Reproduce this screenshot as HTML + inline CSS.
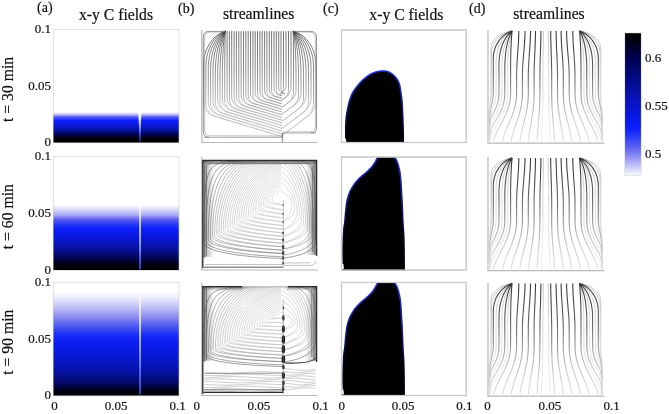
<!DOCTYPE html>
<html><head><meta charset="utf-8"><style>
html,body{margin:0;padding:0;background:#fff;width:669px;height:414px;overflow:hidden}
svg{display:block;filter:blur(0.45px)}
text{font-family:"Liberation Serif",serif;fill:#111;stroke:#111;stroke-width:0.2px}
</style></head><body>
<svg width="669" height="414" viewBox="0 0 669 414">
<defs><linearGradient id="ga1" gradientUnits="userSpaceOnUse" x1="0" y1="112" x2="0" y2="143"><stop offset="0.0000" stop-color="#ffffff"/><stop offset="0.0742" stop-color="#c4c4f8"/><stop offset="0.1613" stop-color="#5a5af2"/><stop offset="0.2742" stop-color="#0c20ff"/><stop offset="0.4516" stop-color="#0a18d8"/><stop offset="0.6129" stop-color="#05108f"/><stop offset="0.7645" stop-color="#000040"/><stop offset="0.8516" stop-color="#000008"/><stop offset="1.0000" stop-color="#000000"/></linearGradient><linearGradient id="ga2" gradientUnits="userSpaceOnUse" x1="0" y1="204.8" x2="0" y2="270"><stop offset="0.0000" stop-color="#ffffff"/><stop offset="0.0752" stop-color="#d8d8f8"/><stop offset="0.1488" stop-color="#b0b0f5"/><stop offset="0.2224" stop-color="#6060f0"/><stop offset="0.2975" stop-color="#2838f5"/><stop offset="0.3712" stop-color="#0a20f8"/><stop offset="0.4893" stop-color="#0818e0"/><stop offset="0.6012" stop-color="#0814b8"/><stop offset="0.7393" stop-color="#050c80"/><stop offset="0.8466" stop-color="#020440"/><stop offset="0.9156" stop-color="#000010"/><stop offset="1.0000" stop-color="#000000"/></linearGradient><linearGradient id="ga3" gradientUnits="userSpaceOnUse" x1="0" y1="291.6" x2="0" y2="396"><stop offset="0.0000" stop-color="#ffffff"/><stop offset="0.0690" stop-color="#e8e8fc"/><stop offset="0.1667" stop-color="#b8b8f5"/><stop offset="0.2625" stop-color="#8080f0"/><stop offset="0.3467" stop-color="#4050f0"/><stop offset="0.4253" stop-color="#1428f8"/><stop offset="0.5019" stop-color="#0a1cf0"/><stop offset="0.6341" stop-color="#0818d0"/><stop offset="0.7797" stop-color="#0510a0"/><stop offset="0.8822" stop-color="#030860"/><stop offset="0.9550" stop-color="#000010"/><stop offset="1.0000" stop-color="#000000"/></linearGradient><linearGradient id="gcb" gradientUnits="userSpaceOnUse" x1="0" y1="33" x2="0" y2="176"><stop offset="0.0000" stop-color="#000000"/><stop offset="0.0490" stop-color="#00000f"/><stop offset="0.1748" stop-color="#00004f"/><stop offset="0.3357" stop-color="#040c8c"/><stop offset="0.5035" stop-color="#0814c8"/><stop offset="0.6643" stop-color="#0a1eff"/><stop offset="0.7343" stop-color="#3040f8"/><stop offset="0.8042" stop-color="#5f64f5"/><stop offset="0.8671" stop-color="#9090f5"/><stop offset="0.9231" stop-color="#bebefa"/><stop offset="0.9650" stop-color="#e0e0fc"/><stop offset="1.0000" stop-color="#ffffff"/></linearGradient><linearGradient id="gs1" gradientUnits="userSpaceOnUse" x1="0" y1="112" x2="0" y2="142"><stop offset="0.0000" stop-color="#ffffff"/><stop offset="0.2000" stop-color="#f0f2ff"/><stop offset="0.4333" stop-color="#a0b0ff"/><stop offset="0.7000" stop-color="#4868ff"/><stop offset="0.9667" stop-color="#2844e8"/></linearGradient><linearGradient id="gs2" gradientUnits="userSpaceOnUse" x1="0" y1="206" x2="0" y2="269"><stop offset="0.0000" stop-color="#ffffff"/><stop offset="0.3810" stop-color="#e8ecff"/><stop offset="0.6190" stop-color="#b0bcff"/><stop offset="0.8254" stop-color="#6078ff"/><stop offset="0.9841" stop-color="#3a58f8"/></linearGradient><linearGradient id="gs3" gradientUnits="userSpaceOnUse" x1="0" y1="293" x2="0" y2="394"><stop offset="0.0000" stop-color="#ffffff"/><stop offset="0.3663" stop-color="#eef0ff"/><stop offset="0.5644" stop-color="#b8c4ff"/><stop offset="0.7624" stop-color="#6a84ff"/><stop offset="0.9802" stop-color="#4060f0"/></linearGradient><linearGradient id="ge1" gradientUnits="userSpaceOnUse" x1="0" y1="70" x2="0" y2="143"><stop offset="0.0000" stop-color="#2232dc"/><stop offset="0.2466" stop-color="#1e2cc8"/><stop offset="0.4795" stop-color="#141c98"/><stop offset="0.7123" stop-color="#0a0c50"/><stop offset="0.9589" stop-color="#000010"/></linearGradient><linearGradient id="ge2" gradientUnits="userSpaceOnUse" x1="0" y1="157" x2="0" y2="270"><stop offset="0.0000" stop-color="#2232dc"/><stop offset="0.2035" stop-color="#1e2cc8"/><stop offset="0.3805" stop-color="#141c98"/><stop offset="0.6018" stop-color="#0a0c50"/><stop offset="0.8230" stop-color="#000010"/></linearGradient><clipPath id="cc2"><rect x="341.5" y="157.4" width="125" height="114"/></clipPath></defs>
<rect width="669" height="414" fill="#fff"/>
<rect x="53.5" y="30" width="125.19999999999999" height="112.5" fill="#fff" stroke="#cccccc" stroke-width="1.2"/>
<rect x="53.5" y="30" width="125.19999999999999" height="112.5" fill="url(#ga1)"/>
<rect x="53.5" y="157" width="125.19999999999999" height="113" fill="#fff" stroke="#cccccc" stroke-width="1.2"/>
<rect x="53.5" y="157" width="125.19999999999999" height="113" fill="url(#ga2)"/>
<rect x="53.5" y="282.5" width="125.19999999999999" height="113.0" fill="#fff" stroke="#cccccc" stroke-width="1.2"/>
<rect x="53.5" y="282.5" width="125.19999999999999" height="113.0" fill="url(#ga3)"/>
<path d="M138.3,112 L141.3,112 L140.5,142 L139.5,142 Z" fill="url(#gs1)"/>
<rect x="139.3" y="206" width="1.5" height="63.5" fill="url(#gs2)"/>
<rect x="139.3" y="293" width="1.5" height="101.5" fill="url(#gs3)"/>
<rect x="341.5" y="30" width="124.80000000000001" height="112.5" fill="#fff" stroke="#cccccc" stroke-width="1.2"/>
<rect x="341.5" y="157" width="124.80000000000001" height="113" fill="#fff" stroke="#cccccc" stroke-width="1.2"/>
<rect x="341.5" y="282.5" width="124.80000000000001" height="113.0" fill="#fff" stroke="#cccccc" stroke-width="1.2"/>
<path d="M403.30,142.90 L398.79,142.91 L392.42,142.94 L384.79,142.97 L376.52,143.01 L368.24,143.02 L360.55,143.02 L354.06,142.98 L349.40,142.90 L346.59,142.79 L345.06,142.65 L344.52,142.50 L344.68,142.31 L345.26,142.10 L345.96,141.84 L346.50,141.54 L346.60,141.20 L346.40,140.84 L346.24,140.49 L346.12,140.11 L346.03,139.68 L345.95,139.18 L345.90,138.59 L345.85,137.87 L345.80,137.00 L345.76,135.94 L345.73,134.68 L345.72,133.29 L345.72,131.80 L345.73,130.28 L345.75,128.77 L345.77,127.33 L345.80,126.00 L345.83,124.77 L345.87,123.59 L345.92,122.43 L345.97,121.31 L346.03,120.21 L346.11,119.13 L346.20,118.06 L346.30,117.00 L346.42,115.96 L346.55,114.96 L346.69,113.98 L346.84,113.01 L347.01,112.04 L347.19,111.06 L347.39,110.05 L347.60,109.00 L347.83,107.90 L348.06,106.75 L348.32,105.57 L348.58,104.38 L348.86,103.19 L349.16,102.02 L349.47,100.88 L349.80,99.80 L350.14,98.77 L350.48,97.79 L350.83,96.83 L351.19,95.90 L351.59,94.98 L352.01,94.06 L352.48,93.14 L353.00,92.20 L353.57,91.24 L354.19,90.28 L354.85,89.31 L355.54,88.34 L356.26,87.38 L357.00,86.43 L357.75,85.50 L358.50,84.60 L359.26,83.71 L360.03,82.84 L360.82,81.97 L361.62,81.12 L362.44,80.30 L363.27,79.50 L364.13,78.73 L365.00,78.00 L365.89,77.30 L366.80,76.61 L367.72,75.95 L368.66,75.33 L369.62,74.73 L370.60,74.18 L371.59,73.66 L372.60,73.20 L373.64,72.78 L374.72,72.39 L375.83,72.04 L376.95,71.74 L378.07,71.48 L379.18,71.26 L380.26,71.10 L381.30,71.00 L382.31,70.94 L383.30,70.93 L384.28,70.96 L385.24,71.05 L386.18,71.19 L387.10,71.39 L388.01,71.66 L388.90,72.00 L389.78,72.42 L390.67,72.93 L391.54,73.52 L392.39,74.16 L393.21,74.84 L393.99,75.55 L394.72,76.28 L395.40,77.00 L396.02,77.73 L396.59,78.47 L397.12,79.23 L397.60,80.02 L398.05,80.84 L398.46,81.69 L398.84,82.57 L399.20,83.50 L399.52,84.48 L399.79,85.52 L400.02,86.60 L400.22,87.71 L400.40,88.84 L400.57,89.97 L400.73,91.10 L400.90,92.20 L401.07,93.28 L401.23,94.37 L401.38,95.44 L401.52,96.53 L401.66,97.61 L401.78,98.70 L401.90,99.79 L402.00,100.90 L402.09,101.97 L402.16,102.99 L402.23,103.98 L402.28,104.99 L402.33,106.06 L402.38,107.23 L402.44,108.53 L402.50,110.00 L402.57,111.66 L402.65,113.49 L402.74,115.46 L402.82,117.51 L402.90,119.63 L402.98,121.77 L403.04,123.91 L403.10,126.00 L403.15,128.18 L403.18,130.56 L403.21,133.01 L403.24,135.45 L403.26,137.76 L403.27,139.84 L403.29,141.59 L403.30,142.90 Z" fill="#000"/>
<path d="M345.90,138.59 L345.85,137.87 L345.80,137.00 L345.76,135.94 L345.73,134.68 L345.72,133.29 L345.72,131.80 L345.73,130.28 L345.75,128.77 L345.77,127.33 L345.80,126.00 L345.83,124.77 L345.87,123.59 L345.92,122.43 L345.97,121.31 L346.03,120.21 L346.11,119.13 L346.20,118.06 L346.30,117.00 L346.42,115.96 L346.55,114.96 L346.69,113.98 L346.84,113.01 L347.01,112.04 L347.19,111.06 L347.39,110.05 L347.60,109.00 L347.83,107.90 L348.06,106.75 L348.32,105.57 L348.58,104.38 L348.86,103.19 L349.16,102.02 L349.47,100.88 L349.80,99.80 L350.14,98.77 L350.48,97.79 L350.83,96.83 L351.19,95.90 L351.59,94.98 L352.01,94.06 L352.48,93.14 L353.00,92.20 L353.57,91.24 L354.19,90.28 L354.85,89.31 L355.54,88.34 L356.26,87.38 L357.00,86.43 L357.75,85.50 L358.50,84.60 L359.26,83.71 L360.03,82.84 L360.82,81.97 L361.62,81.12 L362.44,80.30 L363.27,79.50 L364.13,78.73 L365.00,78.00 L365.89,77.30 L366.80,76.61 L367.72,75.95 L368.66,75.33 L369.62,74.73 L370.60,74.18 L371.59,73.66 L372.60,73.20 L373.64,72.78 L374.72,72.39 L375.83,72.04 L376.95,71.74 L378.07,71.48 L379.18,71.26 L380.26,71.10 L381.30,71.00 L382.31,70.94 L383.30,70.93 L384.28,70.96 L385.24,71.05 L386.18,71.19 L387.10,71.39 L388.01,71.66 L388.90,72.00 L389.78,72.42 L390.67,72.93 L391.54,73.52 L392.39,74.16 L393.21,74.84 L393.99,75.55 L394.72,76.28 L395.40,77.00 L396.02,77.73 L396.59,78.47 L397.12,79.23 L397.60,80.02 L398.05,80.84 L398.46,81.69 L398.84,82.57 L399.20,83.50 L399.52,84.48 L399.79,85.52 L400.02,86.60 L400.22,87.71 L400.40,88.84 L400.57,89.97 L400.73,91.10 L400.90,92.20 L401.07,93.28 L401.23,94.37 L401.38,95.44 L401.52,96.53 L401.66,97.61 L401.78,98.70 L401.90,99.79 L402.00,100.90 L402.09,101.97 L402.16,102.99 L402.23,103.98 L402.28,104.99 L402.33,106.06 L402.38,107.23 L402.44,108.53 L402.50,110.00 L402.57,111.66 L402.65,113.49 L402.74,115.46 L402.82,117.51 L402.90,119.63 L402.98,121.77 L403.04,123.91 L403.10,126.00 L403.15,128.18 L403.18,130.56 L403.21,133.01 L403.24,135.45 L403.26,137.76 L403.27,139.84 L403.29,141.59 L403.30,142.90" fill="none" stroke="url(#ge1)" stroke-width="1.5"/>
<g transform="translate(0,0)" clip-path="url(#cc2)"><path d="M404.20,270.20 L399.27,270.22 L392.29,270.25 L383.94,270.30 L374.89,270.34 L365.84,270.36 L357.45,270.35 L350.41,270.31 L345.40,270.20 L342.47,270.08 L340.98,269.98 L340.61,269.86 L341.02,269.69 L341.89,269.46 L342.88,269.11 L343.66,268.64 L343.90,268.00 L343.77,267.20 L343.65,266.26 L343.55,265.19 L343.46,264.02 L343.38,262.75 L343.31,261.40 L343.25,259.98 L343.20,258.50 L343.16,256.93 L343.14,255.23 L343.12,253.43 L343.12,251.56 L343.13,249.66 L343.14,247.74 L343.17,245.85 L343.20,244.00 L343.24,242.14 L343.30,240.21 L343.36,238.25 L343.44,236.31 L343.52,234.42 L343.61,232.63 L343.70,230.98 L343.80,229.50 L343.91,228.24 L344.03,227.18 L344.15,226.26 L344.29,225.44 L344.42,224.65 L344.55,223.85 L344.68,222.99 L344.80,222.00 L344.91,220.91 L345.00,219.78 L345.10,218.61 L345.19,217.42 L345.28,216.20 L345.38,214.97 L345.48,213.73 L345.60,212.50 L345.72,211.25 L345.85,209.96 L345.98,208.65 L346.11,207.33 L346.26,206.02 L346.42,204.74 L346.60,203.49 L346.80,202.30 L347.02,201.15 L347.25,200.04 L347.50,198.95 L347.76,197.89 L348.04,196.85 L348.34,195.85 L348.66,194.86 L349.00,193.90 L349.36,192.97 L349.75,192.07 L350.15,191.19 L350.57,190.34 L351.01,189.51 L351.47,188.70 L351.93,187.90 L352.40,187.10 L352.88,186.31 L353.37,185.54 L353.88,184.79 L354.39,184.04 L354.92,183.31 L355.47,182.60 L356.03,181.89 L356.60,181.20 L357.20,180.52 L357.81,179.85 L358.45,179.19 L359.10,178.54 L359.76,177.91 L360.41,177.29 L361.06,176.69 L361.70,176.10 L362.33,175.54 L362.95,175.01 L363.58,174.50 L364.20,174.00 L364.82,173.50 L365.45,172.99 L366.07,172.46 L366.70,171.90 L367.34,171.30 L368.01,170.69 L368.68,170.05 L369.35,169.40 L370.01,168.74 L370.64,168.09 L371.24,167.44 L371.80,166.80 L372.31,166.17 L372.79,165.54 L373.24,164.91 L373.67,164.28 L374.07,163.66 L374.46,163.03 L374.83,162.41 L375.20,161.80 L375.55,161.18 L375.88,160.57 L376.20,159.95 L376.49,159.34 L376.78,158.73 L377.06,158.14 L377.33,157.56 L377.60,157.00 L377.78,156.43 L377.83,155.85 L377.82,155.27 L377.83,154.70 L377.92,154.17 L378.19,153.70 L378.69,153.30 L379.50,153.00 L380.76,152.78 L382.45,152.62 L384.42,152.53 L386.54,152.50 L388.65,152.53 L390.61,152.62 L392.27,152.78 L393.50,153.00 L394.26,153.30 L394.69,153.70 L394.87,154.17 L394.88,154.70 L394.79,155.27 L394.70,155.85 L394.67,156.43 L394.80,157.00 L395.05,157.55 L395.33,158.10 L395.64,158.66 L395.96,159.23 L396.28,159.83 L396.60,160.45 L396.91,161.10 L397.20,161.80 L397.47,162.53 L397.74,163.30 L398.01,164.09 L398.26,164.92 L398.51,165.77 L398.75,166.65 L398.98,167.56 L399.20,168.50 L399.41,169.45 L399.61,170.42 L399.80,171.41 L399.98,172.43 L400.15,173.49 L400.31,174.60 L400.46,175.77 L400.60,177.00 L400.73,178.28 L400.84,179.60 L400.94,180.96 L401.03,182.37 L401.12,183.86 L401.21,185.41 L401.30,187.06 L401.40,188.80 L401.51,190.67 L401.62,192.68 L401.74,194.79 L401.86,196.97 L401.98,199.18 L402.09,201.40 L402.20,203.58 L402.30,205.70 L402.39,207.75 L402.46,209.78 L402.53,211.78 L402.59,213.78 L402.66,215.79 L402.73,217.82 L402.81,219.89 L402.90,222.00 L403.01,224.09 L403.14,226.09 L403.28,228.09 L403.42,230.13 L403.56,232.28 L403.69,234.60 L403.81,237.15 L403.90,240.00 L403.97,243.40 L404.03,247.40 L404.08,251.76 L404.11,256.23 L404.14,260.55 L404.16,264.49 L404.18,267.79 L404.20,270.20 Z" fill="#000"/><path d="M343.46,264.02 L343.38,262.75 L343.31,261.40 L343.25,259.98 L343.20,258.50 L343.16,256.93 L343.14,255.23 L343.12,253.43 L343.12,251.56 L343.13,249.66 L343.14,247.74 L343.17,245.85 L343.20,244.00 L343.24,242.14 L343.30,240.21 L343.36,238.25 L343.44,236.31 L343.52,234.42 L343.61,232.63 L343.70,230.98 L343.80,229.50 L343.91,228.24 L344.03,227.18 L344.15,226.26 L344.29,225.44 L344.42,224.65 L344.55,223.85 L344.68,222.99 L344.80,222.00 L344.91,220.91 L345.00,219.78 L345.10,218.61 L345.19,217.42 L345.28,216.20 L345.38,214.97 L345.48,213.73 L345.60,212.50 L345.72,211.25 L345.85,209.96 L345.98,208.65 L346.11,207.33 L346.26,206.02 L346.42,204.74 L346.60,203.49 L346.80,202.30 L347.02,201.15 L347.25,200.04 L347.50,198.95 L347.76,197.89 L348.04,196.85 L348.34,195.85 L348.66,194.86 L349.00,193.90 L349.36,192.97 L349.75,192.07 L350.15,191.19 L350.57,190.34 L351.01,189.51 L351.47,188.70 L351.93,187.90 L352.40,187.10 L352.88,186.31 L353.37,185.54 L353.88,184.79 L354.39,184.04 L354.92,183.31 L355.47,182.60 L356.03,181.89 L356.60,181.20 L357.20,180.52 L357.81,179.85 L358.45,179.19 L359.10,178.54 L359.76,177.91 L360.41,177.29 L361.06,176.69 L361.70,176.10 L362.33,175.54 L362.95,175.01 L363.58,174.50 L364.20,174.00 L364.82,173.50 L365.45,172.99 L366.07,172.46 L366.70,171.90 L367.34,171.30 L368.01,170.69 L368.68,170.05 L369.35,169.40 L370.01,168.74 L370.64,168.09 L371.24,167.44 L371.80,166.80 L372.31,166.17 L372.79,165.54 L373.24,164.91 L373.67,164.28 L374.07,163.66 L374.46,163.03 L374.83,162.41 L375.20,161.80 L375.55,161.18 L375.88,160.57 L376.20,159.95 L376.49,159.34 L376.78,158.73 L377.06,158.14 L377.33,157.56 L377.60,157.00 L377.78,156.43 L377.83,155.85 L377.82,155.27 L377.83,154.70 L377.92,154.17 L378.19,153.70 L378.69,153.30 L379.50,153.00 L380.76,152.78 L382.45,152.62 L384.42,152.53 L386.54,152.50 L388.65,152.53 L390.61,152.62 L392.27,152.78 L393.50,153.00 L394.26,153.30 L394.69,153.70 L394.87,154.17 L394.88,154.70 L394.79,155.27 L394.70,155.85 L394.67,156.43 L394.80,157.00 L395.05,157.55 L395.33,158.10 L395.64,158.66 L395.96,159.23 L396.28,159.83 L396.60,160.45 L396.91,161.10 L397.20,161.80 L397.47,162.53 L397.74,163.30 L398.01,164.09 L398.26,164.92 L398.51,165.77 L398.75,166.65 L398.98,167.56 L399.20,168.50 L399.41,169.45 L399.61,170.42 L399.80,171.41 L399.98,172.43 L400.15,173.49 L400.31,174.60 L400.46,175.77 L400.60,177.00 L400.73,178.28 L400.84,179.60 L400.94,180.96 L401.03,182.37 L401.12,183.86 L401.21,185.41 L401.30,187.06 L401.40,188.80 L401.51,190.67 L401.62,192.68 L401.74,194.79 L401.86,196.97 L401.98,199.18 L402.09,201.40 L402.20,203.58 L402.30,205.70 L402.39,207.75 L402.46,209.78 L402.53,211.78 L402.59,213.78 L402.66,215.79 L402.73,217.82 L402.81,219.89 L402.90,222.00 L403.01,224.09 L403.14,226.09 L403.28,228.09 L403.42,230.13 L403.56,232.28 L403.69,234.60 L403.81,237.15 L403.90,240.00 L403.97,243.40 L404.03,247.40 L404.08,251.76 L404.11,256.23 L404.14,260.55 L404.16,264.49 L404.18,267.79 L404.20,270.20" fill="none" stroke="url(#ge2)" stroke-width="1.5"/></g>
<g transform="translate(0,125.5)" clip-path="url(#cc2)"><path d="M404.20,270.20 L399.27,270.22 L392.29,270.25 L383.94,270.30 L374.89,270.34 L365.84,270.36 L357.45,270.35 L350.41,270.31 L345.40,270.20 L342.47,270.08 L340.98,269.98 L340.61,269.86 L341.02,269.69 L341.89,269.46 L342.88,269.11 L343.66,268.64 L343.90,268.00 L343.77,267.20 L343.65,266.26 L343.55,265.19 L343.46,264.02 L343.38,262.75 L343.31,261.40 L343.25,259.98 L343.20,258.50 L343.16,256.93 L343.14,255.23 L343.12,253.43 L343.12,251.56 L343.13,249.66 L343.14,247.74 L343.17,245.85 L343.20,244.00 L343.24,242.14 L343.30,240.21 L343.36,238.25 L343.44,236.31 L343.52,234.42 L343.61,232.63 L343.70,230.98 L343.80,229.50 L343.91,228.24 L344.03,227.18 L344.15,226.26 L344.29,225.44 L344.42,224.65 L344.55,223.85 L344.68,222.99 L344.80,222.00 L344.91,220.91 L345.00,219.78 L345.10,218.61 L345.19,217.42 L345.28,216.20 L345.38,214.97 L345.48,213.73 L345.60,212.50 L345.72,211.25 L345.85,209.96 L345.98,208.65 L346.11,207.33 L346.26,206.02 L346.42,204.74 L346.60,203.49 L346.80,202.30 L347.02,201.15 L347.25,200.04 L347.50,198.95 L347.76,197.89 L348.04,196.85 L348.34,195.85 L348.66,194.86 L349.00,193.90 L349.36,192.97 L349.75,192.07 L350.15,191.19 L350.57,190.34 L351.01,189.51 L351.47,188.70 L351.93,187.90 L352.40,187.10 L352.88,186.31 L353.37,185.54 L353.88,184.79 L354.39,184.04 L354.92,183.31 L355.47,182.60 L356.03,181.89 L356.60,181.20 L357.20,180.52 L357.81,179.85 L358.45,179.19 L359.10,178.54 L359.76,177.91 L360.41,177.29 L361.06,176.69 L361.70,176.10 L362.33,175.54 L362.95,175.01 L363.58,174.50 L364.20,174.00 L364.82,173.50 L365.45,172.99 L366.07,172.46 L366.70,171.90 L367.34,171.30 L368.01,170.69 L368.68,170.05 L369.35,169.40 L370.01,168.74 L370.64,168.09 L371.24,167.44 L371.80,166.80 L372.31,166.17 L372.79,165.54 L373.24,164.91 L373.67,164.28 L374.07,163.66 L374.46,163.03 L374.83,162.41 L375.20,161.80 L375.55,161.18 L375.88,160.57 L376.20,159.95 L376.49,159.34 L376.78,158.73 L377.06,158.14 L377.33,157.56 L377.60,157.00 L377.78,156.43 L377.83,155.85 L377.82,155.27 L377.83,154.70 L377.92,154.17 L378.19,153.70 L378.69,153.30 L379.50,153.00 L380.76,152.78 L382.45,152.62 L384.42,152.53 L386.54,152.50 L388.65,152.53 L390.61,152.62 L392.27,152.78 L393.50,153.00 L394.26,153.30 L394.69,153.70 L394.87,154.17 L394.88,154.70 L394.79,155.27 L394.70,155.85 L394.67,156.43 L394.80,157.00 L395.05,157.55 L395.33,158.10 L395.64,158.66 L395.96,159.23 L396.28,159.83 L396.60,160.45 L396.91,161.10 L397.20,161.80 L397.47,162.53 L397.74,163.30 L398.01,164.09 L398.26,164.92 L398.51,165.77 L398.75,166.65 L398.98,167.56 L399.20,168.50 L399.41,169.45 L399.61,170.42 L399.80,171.41 L399.98,172.43 L400.15,173.49 L400.31,174.60 L400.46,175.77 L400.60,177.00 L400.73,178.28 L400.84,179.60 L400.94,180.96 L401.03,182.37 L401.12,183.86 L401.21,185.41 L401.30,187.06 L401.40,188.80 L401.51,190.67 L401.62,192.68 L401.74,194.79 L401.86,196.97 L401.98,199.18 L402.09,201.40 L402.20,203.58 L402.30,205.70 L402.39,207.75 L402.46,209.78 L402.53,211.78 L402.59,213.78 L402.66,215.79 L402.73,217.82 L402.81,219.89 L402.90,222.00 L403.01,224.09 L403.14,226.09 L403.28,228.09 L403.42,230.13 L403.56,232.28 L403.69,234.60 L403.81,237.15 L403.90,240.00 L403.97,243.40 L404.03,247.40 L404.08,251.76 L404.11,256.23 L404.14,260.55 L404.16,264.49 L404.18,267.79 L404.20,270.20 Z" fill="#000"/><path d="M343.46,264.02 L343.38,262.75 L343.31,261.40 L343.25,259.98 L343.20,258.50 L343.16,256.93 L343.14,255.23 L343.12,253.43 L343.12,251.56 L343.13,249.66 L343.14,247.74 L343.17,245.85 L343.20,244.00 L343.24,242.14 L343.30,240.21 L343.36,238.25 L343.44,236.31 L343.52,234.42 L343.61,232.63 L343.70,230.98 L343.80,229.50 L343.91,228.24 L344.03,227.18 L344.15,226.26 L344.29,225.44 L344.42,224.65 L344.55,223.85 L344.68,222.99 L344.80,222.00 L344.91,220.91 L345.00,219.78 L345.10,218.61 L345.19,217.42 L345.28,216.20 L345.38,214.97 L345.48,213.73 L345.60,212.50 L345.72,211.25 L345.85,209.96 L345.98,208.65 L346.11,207.33 L346.26,206.02 L346.42,204.74 L346.60,203.49 L346.80,202.30 L347.02,201.15 L347.25,200.04 L347.50,198.95 L347.76,197.89 L348.04,196.85 L348.34,195.85 L348.66,194.86 L349.00,193.90 L349.36,192.97 L349.75,192.07 L350.15,191.19 L350.57,190.34 L351.01,189.51 L351.47,188.70 L351.93,187.90 L352.40,187.10 L352.88,186.31 L353.37,185.54 L353.88,184.79 L354.39,184.04 L354.92,183.31 L355.47,182.60 L356.03,181.89 L356.60,181.20 L357.20,180.52 L357.81,179.85 L358.45,179.19 L359.10,178.54 L359.76,177.91 L360.41,177.29 L361.06,176.69 L361.70,176.10 L362.33,175.54 L362.95,175.01 L363.58,174.50 L364.20,174.00 L364.82,173.50 L365.45,172.99 L366.07,172.46 L366.70,171.90 L367.34,171.30 L368.01,170.69 L368.68,170.05 L369.35,169.40 L370.01,168.74 L370.64,168.09 L371.24,167.44 L371.80,166.80 L372.31,166.17 L372.79,165.54 L373.24,164.91 L373.67,164.28 L374.07,163.66 L374.46,163.03 L374.83,162.41 L375.20,161.80 L375.55,161.18 L375.88,160.57 L376.20,159.95 L376.49,159.34 L376.78,158.73 L377.06,158.14 L377.33,157.56 L377.60,157.00 L377.78,156.43 L377.83,155.85 L377.82,155.27 L377.83,154.70 L377.92,154.17 L378.19,153.70 L378.69,153.30 L379.50,153.00 L380.76,152.78 L382.45,152.62 L384.42,152.53 L386.54,152.50 L388.65,152.53 L390.61,152.62 L392.27,152.78 L393.50,153.00 L394.26,153.30 L394.69,153.70 L394.87,154.17 L394.88,154.70 L394.79,155.27 L394.70,155.85 L394.67,156.43 L394.80,157.00 L395.05,157.55 L395.33,158.10 L395.64,158.66 L395.96,159.23 L396.28,159.83 L396.60,160.45 L396.91,161.10 L397.20,161.80 L397.47,162.53 L397.74,163.30 L398.01,164.09 L398.26,164.92 L398.51,165.77 L398.75,166.65 L398.98,167.56 L399.20,168.50 L399.41,169.45 L399.61,170.42 L399.80,171.41 L399.98,172.43 L400.15,173.49 L400.31,174.60 L400.46,175.77 L400.60,177.00 L400.73,178.28 L400.84,179.60 L400.94,180.96 L401.03,182.37 L401.12,183.86 L401.21,185.41 L401.30,187.06 L401.40,188.80 L401.51,190.67 L401.62,192.68 L401.74,194.79 L401.86,196.97 L401.98,199.18 L402.09,201.40 L402.20,203.58 L402.30,205.70 L402.39,207.75 L402.46,209.78 L402.53,211.78 L402.59,213.78 L402.66,215.79 L402.73,217.82 L402.81,219.89 L402.90,222.00 L403.01,224.09 L403.14,226.09 L403.28,228.09 L403.42,230.13 L403.56,232.28 L403.69,234.60 L403.81,237.15 L403.90,240.00 L403.97,243.40 L404.03,247.40 L404.08,251.76 L404.11,256.23 L404.14,260.55 L404.16,264.49 L404.18,267.79 L404.20,270.20" fill="none" stroke="url(#ge2)" stroke-width="1.5"/></g>
<rect x="341.5" y="30" width="124.80000000000001" height="112.5" fill="none" stroke="#cccccc" stroke-width="1.2"/>
<rect x="341.5" y="157" width="124.80000000000001" height="113" fill="none" stroke="#cccccc" stroke-width="1.2"/>
<rect x="341.5" y="282.5" width="124.80000000000001" height="113.0" fill="none" stroke="#cccccc" stroke-width="1.2"/>
<path d="M201.8,30 L201.8,142.5 L318,142.5" fill="none" stroke="#b8b8b8" stroke-width="1.2"/>
<path d="M488,30 L488,143.1 L604.3,143.1" fill="none" stroke="#b8b8b8" stroke-width="1.2"/>
<path d="M201.8,157 L201.8,270 L318,270" fill="none" stroke="#b8b8b8" stroke-width="1.2"/>
<path d="M488,157 L488,270.6 L604.3,270.6" fill="none" stroke="#b8b8b8" stroke-width="1.2"/>
<path d="M201.8,282.5 L201.8,395.5 L318,395.5" fill="none" stroke="#b8b8b8" stroke-width="1.2"/>
<path d="M488,282.5 L488,396.1 L604.3,396.1" fill="none" stroke="#b8b8b8" stroke-width="1.2"/>
<defs><linearGradient id="sd0" gradientUnits="userSpaceOnUse" x1="0" y1="30" x2="0" y2="142.5"><stop offset="0" stop-color="#383838"/><stop offset="0.2" stop-color="#4a4a4a"/><stop offset="0.38" stop-color="#666"/><stop offset="0.5" stop-color="#888"/><stop offset="0.65" stop-color="#b0b0b0"/><stop offset="0.8" stop-color="#cccccc"/><stop offset="1" stop-color="#e0e0e0"/></linearGradient><linearGradient id="sd0l" gradientUnits="userSpaceOnUse" x1="0" y1="30" x2="0" y2="142.5"><stop offset="0" stop-color="#999"/><stop offset="0.3" stop-color="#bbb"/><stop offset="0.7" stop-color="#d0d0d0"/><stop offset="1" stop-color="#e4e4e4"/></linearGradient><linearGradient id="sd1" gradientUnits="userSpaceOnUse" x1="0" y1="157" x2="0" y2="270"><stop offset="0" stop-color="#383838"/><stop offset="0.2" stop-color="#4a4a4a"/><stop offset="0.38" stop-color="#666"/><stop offset="0.5" stop-color="#888"/><stop offset="0.65" stop-color="#b0b0b0"/><stop offset="0.8" stop-color="#cccccc"/><stop offset="1" stop-color="#e0e0e0"/></linearGradient><linearGradient id="sd1l" gradientUnits="userSpaceOnUse" x1="0" y1="157" x2="0" y2="270"><stop offset="0" stop-color="#999"/><stop offset="0.3" stop-color="#bbb"/><stop offset="0.7" stop-color="#d0d0d0"/><stop offset="1" stop-color="#e4e4e4"/></linearGradient><linearGradient id="sd2" gradientUnits="userSpaceOnUse" x1="0" y1="282.5" x2="0" y2="395.5"><stop offset="0" stop-color="#383838"/><stop offset="0.2" stop-color="#4a4a4a"/><stop offset="0.38" stop-color="#666"/><stop offset="0.5" stop-color="#888"/><stop offset="0.65" stop-color="#b0b0b0"/><stop offset="0.8" stop-color="#cccccc"/><stop offset="1" stop-color="#e0e0e0"/></linearGradient><linearGradient id="sd2l" gradientUnits="userSpaceOnUse" x1="0" y1="282.5" x2="0" y2="395.5"><stop offset="0" stop-color="#999"/><stop offset="0.3" stop-color="#bbb"/><stop offset="0.7" stop-color="#d0d0d0"/><stop offset="1" stop-color="#e4e4e4"/></linearGradient><linearGradient id="sb1" gradientUnits="userSpaceOnUse" x1="0" y1="30" x2="0" y2="142"><stop offset="0" stop-color="#1a1a1a"/><stop offset="0.12" stop-color="#333"/><stop offset="0.35" stop-color="#505050"/><stop offset="0.55" stop-color="#808080"/><stop offset="0.7" stop-color="#a8a8a8"/><stop offset="0.85" stop-color="#bcbcbc"/><stop offset="1" stop-color="#c4c4c4"/></linearGradient><linearGradient id="wbl" x1="0" y1="0" x2="1" y2="0"><stop offset="0" stop-color="#000" stop-opacity="0.45"/><stop offset="0.35" stop-color="#000" stop-opacity="0.22"/><stop offset="1" stop-color="#000" stop-opacity="0"/></linearGradient><linearGradient id="wbr" x1="1" y1="0" x2="0" y2="0"><stop offset="0" stop-color="#000" stop-opacity="0.5"/><stop offset="0.35" stop-color="#000" stop-opacity="0.22"/><stop offset="1" stop-color="#000" stop-opacity="0"/></linearGradient><linearGradient id="wbt" x1="0" y1="0" x2="0" y2="1"><stop offset="0" stop-color="#000" stop-opacity="0.45"/><stop offset="1" stop-color="#000" stop-opacity="0"/></linearGradient></defs><path d="M512.2,30.9 L511.8,31.9 L511.5,32.9 L511.1,34.1 L510.8,35.4 L510.5,36.8 L510.1,38.3 L509.8,39.9 L509.5,41.6 L509.3,43.4 L509.0,45.3 L508.8,47.3 L508.6,49.5 L508.4,51.7 L508.2,54.0 L508.1,56.4 L507.9,58.9 L507.8,61.5 L507.8,64.2 L507.7,67.0 L507.7,69.9 L507.7,71.7 L507.7,73.5 L507.7,75.3 L507.7,77.0 L507.7,78.8 L507.7,80.6 L507.7,82.4 L507.7,84.2 L507.7,86.0 L507.7,87.8 L507.7,89.5 L507.7,91.3 L507.7,93.1 L507.7,94.9 L507.6,96.7 L507.4,98.5 L507.1,100.2 L506.8,102.0 L506.4,103.8 L505.9,105.6 L505.4,107.4 L504.7,109.2 L504.0,111.0 L503.2,112.7 L502.4,114.5 L501.5,116.3 L500.6,118.1 L499.6,119.9 L498.6,121.7 L497.6,123.5 L496.6,125.2 L495.6,127.0 L494.6,128.8 L493.6,130.6 L492.8,132.4 L492.1,134.2 L491.6,135.9 L491.2,137.7 L490.9,139.5 L490.7,141.3 M512.2,30.9 L511.4,31.8 L510.5,32.8 L509.7,33.9 L509.0,35.1 L508.2,36.4 L507.5,37.8 L506.8,39.3 L506.1,40.8 L505.5,42.5 L504.9,44.3 L504.4,46.1 L503.9,48.1 L503.4,50.1 L503.1,52.3 L502.7,54.5 L502.4,56.8 L502.2,59.2 L502.0,61.7 L501.9,64.2 L501.9,66.9 L501.9,68.8 L501.9,70.6 L501.9,72.5 L501.9,74.3 L501.9,76.2 L501.9,78.1 L501.9,79.9 L501.9,81.8 L501.9,83.6 L501.9,85.5 L501.9,87.4 L501.9,89.2 L501.9,91.1 L501.9,92.9 L501.8,94.8 L501.7,96.7 L501.5,98.5 L501.2,100.4 L500.8,102.2 L500.3,104.1 L499.8,106.0 L499.1,107.8 L498.3,109.7 L497.4,111.5 L496.4,113.4 L495.4,115.3 L494.3,117.1 L493.1,119.0 L492.1,120.8 L491.4,122.7 L490.8,124.6 L490.4,126.4 L490.1,128.3 L489.9,130.1 L489.7,132.0 L489.6,133.9 L489.5,135.7 L489.4,137.6 L489.4,139.4 L489.4,141.3 M512.2,30.9 L510.9,31.6 L509.6,32.4 L508.4,33.3 L507.1,34.3 L506.0,35.4 L504.8,36.6 L503.8,37.9 L502.7,39.2 L501.8,40.7 L500.9,42.2 L500.0,43.9 L499.3,45.6 L498.6,47.3 L497.9,49.2 L497.4,51.1 L497.0,53.1 L496.6,55.2 L496.4,57.4 L496.2,59.6 L496.1,61.9 L496.1,63.9 L496.1,65.9 L496.1,67.9 L496.1,69.8 L496.1,71.8 L496.1,73.8 L496.1,75.8 L496.1,77.8 L496.1,79.8 L496.1,81.8 L496.1,83.7 L496.1,85.7 L496.1,87.7 L496.1,89.7 L496.1,91.7 L496.1,93.7 L496.0,95.6 L495.9,97.6 L495.6,99.6 L495.1,101.6 L494.6,103.6 L493.9,105.6 L493.1,107.6 L492.2,109.5 L491.5,111.5 L490.9,113.5 L490.5,115.5 L490.1,117.5 L489.8,119.5 L489.6,121.4 L489.5,123.4 L489.4,125.4 L489.4,127.4 L489.3,129.4 L489.3,131.4 L489.3,133.4 L489.2,135.3 L489.2,137.3 L489.2,139.3 L489.2,141.3 M543.4,30.9 L543.4,32.7 L543.4,34.6 L543.4,36.4 L543.4,38.3 L543.3,40.1 L543.3,41.9 L543.3,43.8 L543.3,45.6 L543.2,47.5 L543.2,49.3 L543.2,51.1 L543.2,53.0 L543.1,54.8 L543.1,56.7 L543.1,58.5 L543.0,60.3 L543.0,62.2 L543.0,64.0 L543.0,65.9 L542.9,67.7 L542.9,69.5 L542.9,71.4 L542.9,73.2 L542.9,75.1 L542.9,76.9 L542.9,78.7 L542.9,80.6 L542.9,82.4 L542.9,84.3 L542.9,86.1 L542.9,87.9 L542.9,89.8 L542.9,91.6 L542.9,93.5 L542.9,95.3 L542.9,97.1 L542.9,99.0 L542.9,100.8 L542.8,102.7 L542.8,104.5 L542.7,106.3 L542.7,108.2 L542.6,110.0 L542.6,111.9 L542.5,113.7 L542.5,115.5 L542.4,117.4 L542.3,119.2 L542.2,121.1 L542.2,122.9 L542.1,124.7 L542.0,126.6 L541.9,128.4 L541.8,130.3 L541.8,132.1 L541.7,133.9 L541.6,135.8 L541.6,137.6 L541.5,139.5 L541.5,141.3 M512.2,30.9 L510.5,31.3 L508.8,31.9 L507.1,32.5 L505.5,33.2 L504.0,34.0 L502.5,34.9 L501.1,35.9 L499.7,37.0 L498.4,38.1 L497.2,39.3 L496.1,40.6 L495.1,42.0 L494.2,43.4 L493.4,44.9 L492.7,46.4 L492.2,48.0 L491.9,49.7 L491.7,51.4 L491.5,53.1 L491.5,54.9 L491.5,57.1 L491.5,59.2 L491.5,61.4 L491.5,63.5 L491.5,65.7 L491.5,67.9 L491.5,70.0 L491.5,72.2 L491.5,74.3 L491.5,76.5 L491.5,78.7 L491.5,80.8 L491.5,83.0 L491.5,85.1 L491.5,87.3 L491.5,89.5 L491.5,91.6 L491.5,93.8 L491.4,95.9 L491.3,98.1 L491.1,100.3 L490.8,102.4 L490.6,104.6 L490.3,106.7 L490.0,108.9 L489.8,111.1 L489.6,113.2 L489.5,115.4 L489.4,117.5 L489.3,119.7 L489.3,121.9 L489.3,124.0 L489.2,126.2 L489.2,128.3 L489.2,130.5 L489.2,132.7 L489.2,134.8 L489.2,137.0 L489.2,139.1 L489.2,141.3 M512.2,30.9 L510.4,31.2 L508.5,31.6 L506.8,32.1 L505.1,32.7 L503.4,33.4 L501.8,34.1 L500.3,34.9 L498.9,35.8 L497.5,36.8 L496.2,37.8 L495.1,38.9 L494.0,40.0 L493.0,41.2 L492.3,42.5 L491.7,43.8 L491.4,45.1 L491.1,46.5 L491.0,48.0 L490.9,49.4 L490.8,50.9 L490.8,53.2 L490.8,55.4 L490.8,57.7 L490.8,59.9 L490.8,62.2 L490.8,64.5 L490.8,66.7 L490.8,69.0 L490.8,71.2 L490.8,73.5 L490.8,75.8 L490.8,78.0 L490.8,80.3 L490.8,82.5 L490.8,84.8 L490.8,87.1 L490.8,89.3 L490.8,91.6 L490.8,93.8 L490.8,96.1 L490.7,98.4 L490.5,100.6 L490.3,102.9 L490.1,105.1 L489.9,107.4 L489.7,109.7 L489.6,111.9 L489.4,114.2 L489.4,116.4 L489.3,118.7 L489.3,121.0 L489.2,123.2 L489.2,125.5 L489.2,127.7 L489.2,130.0 L489.2,132.3 L489.2,134.5 L489.2,136.8 L489.2,139.0 L489.2,141.3 M579.4,30.9 L579.8,31.9 L580.1,32.9 L580.5,34.1 L580.8,35.4 L581.1,36.8 L581.5,38.3 L581.8,39.9 L582.1,41.6 L582.3,43.4 L582.6,45.3 L582.8,47.3 L583.0,49.5 L583.2,51.7 L583.4,54.0 L583.5,56.4 L583.7,58.9 L583.8,61.5 L583.8,64.2 L583.9,67.0 L583.9,69.9 L583.9,71.7 L583.9,73.5 L583.9,75.3 L583.9,77.0 L583.9,78.8 L583.9,80.6 L583.9,82.4 L583.9,84.2 L583.9,86.0 L583.9,87.8 L583.9,89.5 L583.9,91.3 L583.9,93.1 L583.9,94.9 L584.0,96.7 L584.2,98.5 L584.5,100.2 L584.8,102.0 L585.2,103.8 L585.7,105.6 L586.2,107.4 L586.9,109.2 L587.6,111.0 L588.4,112.7 L589.2,114.5 L590.1,116.3 L591.0,118.1 L592.0,119.9 L593.0,121.7 L594.0,123.5 L595.0,125.2 L596.0,127.0 L597.0,128.8 L598.0,130.6 L598.8,132.4 L599.5,134.2 L600.0,135.9 L600.4,137.7 L600.7,139.5 L600.9,141.3 M579.4,30.9 L580.2,31.8 L581.1,32.8 L581.9,33.9 L582.6,35.1 L583.4,36.4 L584.1,37.8 L584.8,39.3 L585.5,40.8 L586.1,42.5 L586.7,44.3 L587.2,46.1 L587.7,48.1 L588.2,50.1 L588.5,52.3 L588.9,54.5 L589.2,56.8 L589.4,59.2 L589.6,61.7 L589.7,64.2 L589.7,66.9 L589.7,68.8 L589.7,70.6 L589.7,72.5 L589.7,74.3 L589.7,76.2 L589.7,78.1 L589.7,79.9 L589.7,81.8 L589.7,83.6 L589.7,85.5 L589.7,87.4 L589.7,89.2 L589.7,91.1 L589.7,92.9 L589.8,94.8 L589.9,96.7 L590.1,98.5 L590.4,100.4 L590.8,102.2 L591.3,104.1 L591.8,106.0 L592.5,107.8 L593.3,109.7 L594.2,111.5 L595.2,113.4 L596.2,115.3 L597.3,117.1 L598.5,119.0 L599.5,120.8 L600.2,122.7 L600.8,124.6 L601.2,126.4 L601.5,128.3 L601.7,130.1 L601.9,132.0 L602.0,133.9 L602.1,135.7 L602.2,137.6 L602.2,139.4 L602.2,141.3 M579.4,30.9 L580.7,31.6 L582.0,32.4 L583.2,33.3 L584.5,34.3 L585.6,35.4 L586.8,36.6 L587.8,37.9 L588.9,39.2 L589.8,40.7 L590.7,42.2 L591.6,43.9 L592.3,45.6 L593.0,47.3 L593.7,49.2 L594.2,51.1 L594.6,53.1 L595.0,55.2 L595.2,57.4 L595.4,59.6 L595.4,61.9 L595.4,63.9 L595.4,65.9 L595.4,67.9 L595.4,69.8 L595.4,71.8 L595.4,73.8 L595.4,75.8 L595.4,77.8 L595.4,79.8 L595.4,81.8 L595.4,83.7 L595.4,85.7 L595.4,87.7 L595.4,89.7 L595.5,91.7 L595.5,93.7 L595.6,95.6 L595.7,97.6 L596.0,99.6 L596.5,101.6 L597.0,103.6 L597.7,105.6 L598.5,107.6 L599.4,109.5 L600.1,111.5 L600.7,113.5 L601.1,115.5 L601.5,117.5 L601.8,119.5 L602.0,121.4 L602.1,123.4 L602.2,125.4 L602.2,127.4 L602.3,129.4 L602.3,131.4 L602.3,133.4 L602.4,135.3 L602.4,137.3 L602.4,139.3 L602.4,141.3 M548.2,30.9 L548.2,32.7 L548.2,34.6 L548.2,36.4 L548.2,38.3 L548.3,40.1 L548.3,41.9 L548.3,43.8 L548.3,45.6 L548.4,47.5 L548.4,49.3 L548.4,51.1 L548.4,53.0 L548.5,54.8 L548.5,56.7 L548.5,58.5 L548.6,60.3 L548.6,62.2 L548.6,64.0 L548.6,65.9 L548.7,67.7 L548.7,69.5 L548.7,71.4 L548.7,73.2 L548.7,75.1 L548.7,76.9 L548.7,78.7 L548.7,80.6 L548.7,82.4 L548.7,84.3 L548.7,86.1 L548.7,87.9 L548.7,89.8 L548.7,91.6 L548.7,93.5 L548.7,95.3 L548.7,97.1 L548.7,99.0 L548.7,100.8 L548.8,102.7 L548.8,104.5 L548.9,106.3 L548.9,108.2 L549.0,110.0 L549.0,111.9 L549.1,113.7 L549.1,115.5 L549.2,117.4 L549.3,119.2 L549.4,121.1 L549.4,122.9 L549.5,124.7 L549.6,126.6 L549.7,128.4 L549.8,130.3 L549.8,132.1 L549.9,133.9 L550.0,135.8 L550.0,137.6 L550.1,139.5 L550.1,141.3 M579.4,30.9 L581.1,31.3 L582.8,31.9 L584.5,32.5 L586.1,33.2 L587.6,34.0 L589.1,34.9 L590.5,35.9 L591.9,37.0 L593.2,38.1 L594.4,39.3 L595.5,40.6 L596.5,42.0 L597.4,43.4 L598.2,44.9 L598.9,46.4 L599.4,48.0 L599.7,49.7 L599.9,51.4 L600.1,53.1 L600.1,54.9 L600.1,57.1 L600.1,59.2 L600.1,61.4 L600.1,63.5 L600.1,65.7 L600.1,67.9 L600.1,70.0 L600.1,72.2 L600.1,74.3 L600.1,76.5 L600.1,78.7 L600.1,80.8 L600.1,83.0 L600.1,85.1 L600.1,87.3 L600.1,89.5 L600.1,91.6 L600.1,93.8 L600.2,95.9 L600.3,98.1 L600.5,100.3 L600.8,102.4 L601.0,104.6 L601.3,106.7 L601.6,108.9 L601.8,111.1 L602.0,113.2 L602.1,115.4 L602.2,117.5 L602.3,119.7 L602.3,121.9 L602.3,124.0 L602.4,126.2 L602.4,128.3 L602.4,130.5 L602.4,132.7 L602.4,134.8 L602.4,137.0 L602.4,139.1 L602.4,141.3 M579.4,30.9 L581.2,31.2 L583.1,31.6 L584.8,32.1 L586.5,32.7 L588.2,33.4 L589.8,34.1 L591.3,34.9 L592.7,35.8 L594.1,36.8 L595.4,37.8 L596.5,38.9 L597.6,40.0 L598.6,41.2 L599.3,42.5 L599.9,43.8 L600.2,45.1 L600.5,46.5 L600.6,48.0 L600.7,49.4 L600.8,50.9 L600.8,53.2 L600.8,55.4 L600.8,57.7 L600.8,59.9 L600.8,62.2 L600.8,64.5 L600.8,66.7 L600.8,69.0 L600.8,71.2 L600.8,73.5 L600.8,75.8 L600.8,78.0 L600.8,80.3 L600.8,82.5 L600.8,84.8 L600.8,87.1 L600.8,89.3 L600.8,91.6 L600.8,93.8 L600.8,96.1 L600.9,98.4 L601.1,100.6 L601.3,102.9 L601.5,105.1 L601.7,107.4 L601.9,109.7 L602.0,111.9 L602.2,114.2 L602.2,116.4 L602.3,118.7 L602.3,121.0 L602.4,123.2 L602.4,125.5 L602.4,127.7 L602.4,130.0 L602.4,132.3 L602.4,134.5 L602.4,136.8 L602.4,139.0 L602.4,141.3" fill="none" stroke="url(#sd0l)" stroke-width="0.6"/>
<path d="M540.9,30.9 L540.9,32.7 L540.9,34.6 L540.9,36.4 L540.8,38.3 L540.8,40.1 L540.7,41.9 L540.7,43.8 L540.6,45.6 L540.6,47.5 L540.5,49.3 L540.5,51.1 L540.4,53.0 L540.4,54.8 L540.3,56.7 L540.2,58.5 L540.2,60.3 L540.1,62.2 L540.1,64.0 L540.0,65.9 L540.0,67.7 L540.0,69.5 L539.9,71.4 L539.9,73.2 L539.9,75.1 L539.9,76.9 L539.9,78.7 L539.9,80.6 L539.9,82.4 L539.9,84.3 L539.9,86.1 L539.9,87.9 L539.9,89.8 L539.9,91.6 L539.9,93.5 L539.9,95.3 L539.9,97.1 L539.8,99.0 L539.8,100.8 L539.7,102.7 L539.7,104.5 L539.6,106.3 L539.5,108.2 L539.4,110.0 L539.3,111.9 L539.1,113.7 L539.0,115.5 L538.9,117.4 L538.7,119.2 L538.5,121.1 L538.4,122.9 L538.2,124.7 L538.1,126.6 L537.9,128.4 L537.8,130.3 L537.6,132.1 L537.5,133.9 L537.3,135.8 L537.2,137.6 L537.1,139.5 L537.1,141.3 M535.5,30.9 L535.5,32.7 L535.5,34.6 L535.4,36.4 L535.4,38.3 L535.3,40.1 L535.3,41.9 L535.2,43.8 L535.1,45.6 L535.1,47.5 L535.0,49.3 L534.9,51.1 L534.8,53.0 L534.7,54.8 L534.6,56.7 L534.6,58.5 L534.5,60.3 L534.4,62.2 L534.3,64.0 L534.3,65.9 L534.2,67.7 L534.2,69.5 L534.1,71.4 L534.1,73.2 L534.1,75.1 L534.1,76.9 L534.1,78.7 L534.1,80.6 L534.1,82.4 L534.1,84.3 L534.1,86.1 L534.1,87.9 L534.1,89.8 L534.1,91.6 L534.1,93.5 L534.1,95.3 L534.0,97.1 L534.0,99.0 L533.9,100.8 L533.8,102.7 L533.7,104.5 L533.5,106.3 L533.3,108.2 L533.1,110.0 L532.9,111.9 L532.6,113.7 L532.3,115.5 L532.0,117.4 L531.7,119.2 L531.4,121.1 L531.1,122.9 L530.8,124.7 L530.5,126.6 L530.1,128.4 L529.8,130.3 L529.5,132.1 L529.3,133.9 L529.0,135.8 L528.8,137.6 L528.6,139.5 L528.5,141.3 M530.5,30.9 L530.5,32.7 L530.5,34.6 L530.4,36.4 L530.3,38.3 L530.3,40.1 L530.2,41.9 L530.1,43.8 L529.9,45.6 L529.8,47.5 L529.7,49.3 L529.6,51.1 L529.4,53.0 L529.3,54.8 L529.2,56.7 L529.0,58.5 L528.9,60.3 L528.8,62.2 L528.7,64.0 L528.6,65.9 L528.5,67.7 L528.4,69.5 L528.4,71.4 L528.3,73.2 L528.3,75.1 L528.3,76.9 L528.3,78.7 L528.3,80.6 L528.3,82.4 L528.3,84.3 L528.3,86.1 L528.3,87.9 L528.3,89.8 L528.3,91.6 L528.3,93.5 L528.3,95.3 L528.2,97.1 L528.1,99.0 L528.0,100.8 L527.8,102.7 L527.6,104.5 L527.4,106.3 L527.1,108.2 L526.8,110.0 L526.4,111.9 L526.0,113.7 L525.6,115.5 L525.2,117.4 L524.7,119.2 L524.3,121.1 L523.8,122.9 L523.3,124.7 L522.8,126.6 L522.4,128.4 L521.9,130.3 L521.5,132.1 L521.1,133.9 L520.7,135.8 L520.4,137.6 L520.1,139.5 L519.9,141.3 M525.0,30.9 L525.0,32.7 L525.0,34.6 L524.9,36.4 L524.8,38.3 L524.7,40.1 L524.6,41.9 L524.5,43.8 L524.3,45.6 L524.2,47.5 L524.1,49.3 L523.9,51.1 L523.7,53.0 L523.6,54.8 L523.4,56.7 L523.3,58.5 L523.1,60.3 L523.0,62.2 L522.8,64.0 L522.7,65.9 L522.6,67.7 L522.5,69.5 L522.5,71.4 L522.4,73.2 L522.4,75.1 L522.4,76.9 L522.4,78.7 L522.4,80.6 L522.4,82.4 L522.4,84.3 L522.4,86.1 L522.4,87.9 L522.4,89.8 L522.4,91.6 L522.4,93.5 L522.4,95.3 L522.3,97.1 L522.2,99.0 L522.0,100.8 L521.8,102.7 L521.5,104.5 L521.2,106.3 L520.8,108.2 L520.4,110.0 L519.9,111.9 L519.4,113.7 L518.8,115.5 L518.3,117.4 L517.6,119.2 L517.0,121.1 L516.4,122.9 L515.7,124.7 L515.1,126.6 L514.5,128.4 L513.9,130.3 L513.3,132.1 L512.8,133.9 L512.3,135.8 L511.8,137.6 L511.4,139.5 L511.1,141.3 M518.8,30.9 L518.8,32.7 L518.8,34.6 L518.7,36.4 L518.6,38.3 L518.6,40.1 L518.5,41.9 L518.4,43.8 L518.2,45.6 L518.1,47.5 L518.0,49.3 L517.9,51.1 L517.7,53.0 L517.6,54.8 L517.5,56.7 L517.3,58.5 L517.2,60.3 L517.1,62.2 L517.0,64.0 L516.9,65.9 L516.8,67.7 L516.7,69.5 L516.7,71.4 L516.6,73.2 L516.6,75.1 L516.6,76.9 L516.6,78.7 L516.6,80.6 L516.6,82.4 L516.6,84.3 L516.6,86.1 L516.6,87.9 L516.6,89.8 L516.6,91.6 L516.6,93.5 L516.5,95.3 L516.5,97.1 L516.3,99.0 L516.1,100.8 L515.8,102.7 L515.5,104.5 L515.1,106.3 L514.6,108.2 L514.1,110.0 L513.5,111.9 L512.8,113.7 L512.2,115.5 L511.4,117.4 L510.7,119.2 L509.9,121.1 L509.1,122.9 L508.3,124.7 L507.5,126.6 L506.7,128.4 L506.0,130.3 L505.2,132.1 L504.6,133.9 L503.9,135.8 L503.4,137.6 L502.9,139.5 L502.5,141.3 M512.2,30.9 L512.1,31.7 L511.9,32.7 L511.8,33.8 L511.7,35.1 L511.6,36.4 L511.5,38.0 L511.4,39.6 L511.3,41.4 L511.2,43.3 L511.1,45.3 L511.0,47.4 L510.9,49.6 L510.8,51.9 L510.8,54.4 L510.7,56.9 L510.7,59.5 L510.6,62.3 L510.6,65.1 L510.6,67.9 L510.6,70.9 L510.6,72.7 L510.6,74.4 L510.6,76.2 L510.6,77.9 L510.6,79.7 L510.6,81.5 L510.6,83.2 L510.6,85.0 L510.6,86.7 L510.6,88.5 L510.6,90.3 L510.6,92.0 L510.6,93.8 L510.5,95.5 L510.4,97.3 L510.2,99.1 L510.0,100.8 L509.7,102.6 L509.3,104.3 L508.8,106.1 L508.3,107.9 L507.7,109.6 L507.0,111.4 L506.3,113.1 L505.5,114.9 L504.7,116.7 L503.9,118.4 L503.0,120.2 L502.1,121.9 L501.1,123.7 L500.2,125.5 L499.3,127.2 L498.4,129.0 L497.5,130.7 L496.7,132.5 L496.0,134.3 L495.2,136.0 L494.6,137.8 L494.1,139.5 L493.6,141.3 M512.2,30.9 L511.6,31.8 L511.0,32.9 L510.4,34.0 L509.9,35.3 L509.3,36.6 L508.8,38.1 L508.3,39.6 L507.8,41.3 L507.4,43.1 L507.0,45.0 L506.6,46.9 L506.2,49.0 L505.9,51.2 L505.6,53.4 L505.4,55.8 L505.2,58.2 L505.0,60.7 L504.9,63.4 L504.8,66.1 L504.8,68.9 L504.8,70.7 L504.8,72.5 L504.8,74.3 L504.8,76.1 L504.8,78.0 L504.8,79.8 L504.8,81.6 L504.8,83.4 L504.8,85.2 L504.8,87.0 L504.8,88.8 L504.8,90.6 L504.8,92.4 L504.8,94.2 L504.7,96.1 L504.5,97.9 L504.3,99.7 L504.0,101.5 L503.6,103.3 L503.1,105.1 L502.5,106.9 L501.8,108.7 L501.0,110.5 L500.2,112.3 L499.3,114.2 L498.3,116.0 L497.3,117.8 L496.3,119.6 L495.2,121.4 L494.1,123.2 L493.0,125.0 L492.1,126.8 L491.4,128.6 L490.9,130.4 L490.5,132.2 L490.2,134.1 L490.0,135.9 L489.9,137.7 L489.8,139.5 L489.7,141.3 M512.2,30.9 L511.1,31.7 L510.1,32.6 L509.0,33.6 L508.0,34.8 L507.1,36.0 L506.1,37.3 L505.3,38.7 L504.4,40.2 L503.6,41.8 L502.9,43.4 L502.2,45.2 L501.6,47.1 L501.0,49.0 L500.5,51.0 L500.0,53.1 L499.7,55.3 L499.4,57.6 L499.2,60.0 L499.0,62.4 L499.0,64.9 L499.0,66.8 L499.0,68.7 L499.0,70.6 L499.0,72.5 L499.0,74.5 L499.0,76.4 L499.0,78.3 L499.0,80.2 L499.0,82.1 L499.0,84.0 L499.0,85.9 L499.0,87.8 L499.0,89.7 L499.0,91.6 L499.0,93.6 L498.9,95.5 L498.8,97.4 L498.5,99.3 L498.1,101.2 L497.6,103.1 L497.0,105.0 L496.3,106.9 L495.5,108.8 L494.6,110.7 L493.6,112.7 L492.5,114.6 L491.7,116.5 L491.0,118.4 L490.5,120.3 L490.2,122.2 L489.9,124.1 L489.7,126.0 L489.6,127.9 L489.5,129.8 L489.4,131.8 L489.3,133.7 L489.3,135.6 L489.3,137.5 L489.3,139.4 L489.3,141.3 M512.2,30.9 L510.7,31.5 L509.1,32.1 L507.7,32.9 L506.2,33.8 L504.9,34.7 L503.5,35.8 L502.3,36.9 L501.1,38.2 L499.9,39.5 L498.9,40.9 L497.9,42.4 L497.0,44.0 L496.1,45.6 L495.4,47.3 L494.8,49.1 L494.3,50.9 L493.9,52.8 L493.5,54.8 L493.4,56.8 L493.3,58.9 L493.3,61.0 L493.3,63.0 L493.3,65.1 L493.3,67.1 L493.3,69.2 L493.3,71.3 L493.3,73.3 L493.3,75.4 L493.3,77.4 L493.3,79.5 L493.3,81.6 L493.3,83.6 L493.3,85.7 L493.3,87.7 L493.3,89.8 L493.3,91.9 L493.3,93.9 L493.2,96.0 L492.9,98.0 L492.6,100.1 L492.2,102.2 L491.8,104.2 L491.3,106.3 L490.8,108.3 L490.5,110.4 L490.1,112.5 L489.9,114.5 L489.7,116.6 L489.5,118.6 L489.4,120.7 L489.3,122.8 L489.3,124.8 L489.3,126.9 L489.2,128.9 L489.2,131.0 L489.2,133.1 L489.2,135.1 L489.2,137.2 L489.2,139.2 L489.2,141.3 M550.7,30.9 L550.7,32.7 L550.7,34.6 L550.7,36.4 L550.8,38.3 L550.8,40.1 L550.9,41.9 L550.9,43.8 L551.0,45.6 L551.0,47.5 L551.1,49.3 L551.1,51.1 L551.2,53.0 L551.2,54.8 L551.3,56.7 L551.4,58.5 L551.4,60.3 L551.5,62.2 L551.5,64.0 L551.6,65.9 L551.6,67.7 L551.6,69.5 L551.7,71.4 L551.7,73.2 L551.7,75.1 L551.7,76.9 L551.7,78.7 L551.7,80.6 L551.7,82.4 L551.7,84.3 L551.7,86.1 L551.7,87.9 L551.7,89.8 L551.7,91.6 L551.7,93.5 L551.7,95.3 L551.7,97.1 L551.8,99.0 L551.8,100.8 L551.9,102.7 L551.9,104.5 L552.0,106.3 L552.1,108.2 L552.2,110.0 L552.3,111.9 L552.5,113.7 L552.6,115.5 L552.7,117.4 L552.9,119.2 L553.1,121.1 L553.2,122.9 L553.4,124.7 L553.5,126.6 L553.7,128.4 L553.8,130.3 L554.0,132.1 L554.1,133.9 L554.3,135.8 L554.4,137.6 L554.5,139.5 L554.5,141.3 M556.1,30.9 L556.1,32.7 L556.1,34.6 L556.2,36.4 L556.2,38.3 L556.3,40.1 L556.3,41.9 L556.4,43.8 L556.5,45.6 L556.5,47.5 L556.6,49.3 L556.7,51.1 L556.8,53.0 L556.9,54.8 L557.0,56.7 L557.0,58.5 L557.1,60.3 L557.2,62.2 L557.3,64.0 L557.3,65.9 L557.4,67.7 L557.4,69.5 L557.5,71.4 L557.5,73.2 L557.5,75.1 L557.5,76.9 L557.5,78.7 L557.5,80.6 L557.5,82.4 L557.5,84.3 L557.5,86.1 L557.5,87.9 L557.5,89.8 L557.5,91.6 L557.5,93.5 L557.5,95.3 L557.6,97.1 L557.6,99.0 L557.7,100.8 L557.8,102.7 L557.9,104.5 L558.1,106.3 L558.3,108.2 L558.5,110.0 L558.7,111.9 L559.0,113.7 L559.3,115.5 L559.6,117.4 L559.9,119.2 L560.2,121.1 L560.5,122.9 L560.8,124.7 L561.1,126.6 L561.5,128.4 L561.8,130.3 L562.1,132.1 L562.3,133.9 L562.6,135.8 L562.8,137.6 L563.0,139.5 L563.1,141.3 M561.1,30.9 L561.1,32.7 L561.1,34.6 L561.2,36.4 L561.3,38.3 L561.3,40.1 L561.4,41.9 L561.5,43.8 L561.7,45.6 L561.8,47.5 L561.9,49.3 L562.0,51.1 L562.2,53.0 L562.3,54.8 L562.4,56.7 L562.6,58.5 L562.7,60.3 L562.8,62.2 L562.9,64.0 L563.0,65.9 L563.1,67.7 L563.2,69.5 L563.2,71.4 L563.3,73.2 L563.3,75.1 L563.3,76.9 L563.3,78.7 L563.3,80.6 L563.3,82.4 L563.3,84.3 L563.3,86.1 L563.3,87.9 L563.3,89.8 L563.3,91.6 L563.3,93.5 L563.3,95.3 L563.4,97.1 L563.5,99.0 L563.6,100.8 L563.8,102.7 L564.0,104.5 L564.2,106.3 L564.5,108.2 L564.8,110.0 L565.2,111.9 L565.6,113.7 L566.0,115.5 L566.4,117.4 L566.9,119.2 L567.3,121.1 L567.8,122.9 L568.3,124.7 L568.8,126.6 L569.2,128.4 L569.7,130.3 L570.1,132.1 L570.5,133.9 L570.9,135.8 L571.2,137.6 L571.5,139.5 L571.7,141.3 M566.6,30.9 L566.6,32.7 L566.6,34.6 L566.7,36.4 L566.8,38.3 L566.9,40.1 L567.0,41.9 L567.1,43.8 L567.3,45.6 L567.4,47.5 L567.5,49.3 L567.7,51.1 L567.9,53.0 L568.0,54.8 L568.2,56.7 L568.3,58.5 L568.5,60.3 L568.6,62.2 L568.8,64.0 L568.9,65.9 L569.0,67.7 L569.1,69.5 L569.1,71.4 L569.2,73.2 L569.2,75.1 L569.2,76.9 L569.2,78.7 L569.2,80.6 L569.2,82.4 L569.2,84.3 L569.2,86.1 L569.2,87.9 L569.2,89.8 L569.2,91.6 L569.2,93.5 L569.2,95.3 L569.3,97.1 L569.4,99.0 L569.6,100.8 L569.8,102.7 L570.1,104.5 L570.4,106.3 L570.8,108.2 L571.2,110.0 L571.7,111.9 L572.2,113.7 L572.8,115.5 L573.3,117.4 L574.0,119.2 L574.6,121.1 L575.2,122.9 L575.9,124.7 L576.5,126.6 L577.1,128.4 L577.7,130.3 L578.3,132.1 L578.8,133.9 L579.3,135.8 L579.8,137.6 L580.2,139.5 L580.5,141.3 M572.8,30.9 L572.8,32.7 L572.8,34.6 L572.9,36.4 L573.0,38.3 L573.0,40.1 L573.1,41.9 L573.2,43.8 L573.4,45.6 L573.5,47.5 L573.6,49.3 L573.7,51.1 L573.9,53.0 L574.0,54.8 L574.1,56.7 L574.3,58.5 L574.4,60.3 L574.5,62.2 L574.6,64.0 L574.7,65.9 L574.8,67.7 L574.9,69.5 L574.9,71.4 L575.0,73.2 L575.0,75.1 L575.0,76.9 L575.0,78.7 L575.0,80.6 L575.0,82.4 L575.0,84.3 L575.0,86.1 L575.0,87.9 L575.0,89.8 L575.0,91.6 L575.0,93.5 L575.1,95.3 L575.1,97.1 L575.3,99.0 L575.5,100.8 L575.8,102.7 L576.1,104.5 L576.5,106.3 L577.0,108.2 L577.5,110.0 L578.1,111.9 L578.8,113.7 L579.4,115.5 L580.2,117.4 L580.9,119.2 L581.7,121.1 L582.5,122.9 L583.3,124.7 L584.1,126.6 L584.9,128.4 L585.6,130.3 L586.4,132.1 L587.0,133.9 L587.7,135.8 L588.2,137.6 L588.7,139.5 L589.1,141.3 M579.4,30.9 L579.5,31.7 L579.7,32.7 L579.8,33.8 L579.9,35.1 L580.0,36.4 L580.1,38.0 L580.2,39.6 L580.3,41.4 L580.4,43.3 L580.5,45.3 L580.6,47.4 L580.7,49.6 L580.8,51.9 L580.8,54.4 L580.9,56.9 L580.9,59.5 L581.0,62.3 L581.0,65.1 L581.0,67.9 L581.0,70.9 L581.0,72.7 L581.0,74.4 L581.0,76.2 L581.0,77.9 L581.0,79.7 L581.0,81.5 L581.0,83.2 L581.0,85.0 L581.0,86.7 L581.0,88.5 L581.0,90.3 L581.0,92.0 L581.0,93.8 L581.1,95.5 L581.2,97.3 L581.4,99.1 L581.6,100.8 L581.9,102.6 L582.3,104.3 L582.8,106.1 L583.3,107.9 L583.9,109.6 L584.6,111.4 L585.3,113.1 L586.1,114.9 L586.9,116.7 L587.7,118.4 L588.6,120.2 L589.5,121.9 L590.5,123.7 L591.4,125.5 L592.3,127.2 L593.2,129.0 L594.1,130.7 L594.9,132.5 L595.6,134.3 L596.4,136.0 L597.0,137.8 L597.5,139.5 L598.0,141.3 M579.4,30.9 L580.0,31.8 L580.6,32.9 L581.2,34.0 L581.7,35.3 L582.3,36.6 L582.8,38.1 L583.3,39.6 L583.8,41.3 L584.2,43.1 L584.6,45.0 L585.0,46.9 L585.4,49.0 L585.7,51.2 L586.0,53.4 L586.2,55.8 L586.4,58.2 L586.6,60.7 L586.7,63.4 L586.8,66.1 L586.8,68.9 L586.8,70.7 L586.8,72.5 L586.8,74.3 L586.8,76.1 L586.8,78.0 L586.8,79.8 L586.8,81.6 L586.8,83.4 L586.8,85.2 L586.8,87.0 L586.8,88.8 L586.8,90.6 L586.8,92.4 L586.8,94.2 L586.9,96.1 L587.1,97.9 L587.3,99.7 L587.6,101.5 L588.0,103.3 L588.5,105.1 L589.1,106.9 L589.8,108.7 L590.6,110.5 L591.4,112.3 L592.3,114.2 L593.3,116.0 L594.3,117.8 L595.3,119.6 L596.4,121.4 L597.5,123.2 L598.6,125.0 L599.5,126.8 L600.2,128.6 L600.7,130.4 L601.1,132.2 L601.4,134.1 L601.6,135.9 L601.7,137.7 L601.8,139.5 L601.9,141.3 M579.4,30.9 L580.5,31.7 L581.5,32.6 L582.6,33.6 L583.6,34.8 L584.5,36.0 L585.5,37.3 L586.3,38.7 L587.2,40.2 L588.0,41.8 L588.7,43.4 L589.4,45.2 L590.0,47.1 L590.6,49.0 L591.1,51.0 L591.6,53.1 L591.9,55.3 L592.2,57.6 L592.4,60.0 L592.6,62.4 L592.6,64.9 L592.6,66.8 L592.6,68.7 L592.6,70.6 L592.6,72.5 L592.6,74.5 L592.6,76.4 L592.6,78.3 L592.6,80.2 L592.6,82.1 L592.6,84.0 L592.6,85.9 L592.6,87.8 L592.6,89.7 L592.6,91.6 L592.6,93.6 L592.7,95.5 L592.8,97.4 L593.1,99.3 L593.5,101.2 L594.0,103.1 L594.6,105.0 L595.3,106.9 L596.1,108.8 L597.0,110.7 L598.0,112.7 L599.1,114.6 L599.9,116.5 L600.6,118.4 L601.1,120.3 L601.4,122.2 L601.7,124.1 L601.9,126.0 L602.0,127.9 L602.1,129.8 L602.2,131.8 L602.3,133.7 L602.3,135.6 L602.3,137.5 L602.3,139.4 L602.3,141.3 M579.4,30.9 L580.9,31.5 L582.5,32.1 L583.9,32.9 L585.4,33.8 L586.7,34.7 L588.1,35.8 L589.3,36.9 L590.5,38.2 L591.7,39.5 L592.7,40.9 L593.7,42.4 L594.6,44.0 L595.5,45.6 L596.2,47.3 L596.8,49.1 L597.3,50.9 L597.7,52.8 L598.1,54.8 L598.2,56.8 L598.3,58.9 L598.3,61.0 L598.3,63.0 L598.3,65.1 L598.3,67.1 L598.3,69.2 L598.3,71.3 L598.3,73.3 L598.3,75.4 L598.3,77.4 L598.3,79.5 L598.3,81.6 L598.3,83.6 L598.3,85.7 L598.3,87.7 L598.3,89.8 L598.3,91.9 L598.3,93.9 L598.4,96.0 L598.7,98.0 L599.0,100.1 L599.4,102.2 L599.8,104.2 L600.3,106.3 L600.8,108.3 L601.1,110.4 L601.5,112.5 L601.7,114.5 L601.9,116.6 L602.1,118.6 L602.2,120.7 L602.3,122.8 L602.3,124.8 L602.3,126.9 L602.4,128.9 L602.4,131.0 L602.4,133.1 L602.4,135.1 L602.4,137.2 L602.4,139.2 L602.4,141.3" fill="none" stroke="url(#sd0)" stroke-width="1.1"/>
<path d="M512.2,157.9 L511.8,158.9 L511.5,159.9 L511.1,161.1 L510.8,162.4 L510.5,163.8 L510.1,165.3 L509.8,166.9 L509.5,168.6 L509.3,170.4 L509.0,172.3 L508.8,174.3 L508.6,176.5 L508.4,178.7 L508.2,181.0 L508.1,183.4 L507.9,185.9 L507.8,188.5 L507.8,191.2 L507.7,194.0 L507.7,196.9 L507.7,198.7 L507.7,200.5 L507.7,202.3 L507.7,204.1 L507.7,205.9 L507.7,207.7 L507.7,209.5 L507.7,211.3 L507.7,213.1 L507.7,214.9 L507.7,216.7 L507.7,218.5 L507.7,220.3 L507.7,222.1 L507.6,223.9 L507.4,225.7 L507.2,227.5 L506.8,229.3 L506.4,231.1 L506.0,232.9 L505.4,234.6 L504.8,236.4 L504.1,238.2 L503.3,240.0 L502.4,241.8 L501.5,243.6 L500.6,245.4 L499.6,247.2 L498.6,249.0 L497.6,250.8 L496.6,252.6 L495.6,254.4 L494.6,256.2 L493.7,258.0 L492.8,259.8 L492.1,261.6 L491.6,263.4 L491.2,265.2 L490.9,267.0 L490.7,268.8 M512.2,157.9 L511.4,158.8 L510.5,159.8 L509.7,160.9 L509.0,162.1 L508.2,163.4 L507.5,164.8 L506.8,166.3 L506.1,167.8 L505.5,169.5 L504.9,171.3 L504.4,173.1 L503.9,175.1 L503.4,177.1 L503.1,179.3 L502.7,181.5 L502.4,183.8 L502.2,186.2 L502.0,188.7 L501.9,191.2 L501.9,193.9 L501.9,195.8 L501.9,197.6 L501.9,199.5 L501.9,201.4 L501.9,203.3 L501.9,205.1 L501.9,207.0 L501.9,208.9 L501.9,210.8 L501.9,212.6 L501.9,214.5 L501.9,216.4 L501.9,218.2 L501.9,220.1 L501.9,222.0 L501.7,223.9 L501.5,225.7 L501.3,227.6 L500.9,229.5 L500.4,231.4 L499.8,233.2 L499.1,235.1 L498.3,237.0 L497.4,238.8 L496.4,240.7 L495.4,242.6 L494.3,244.5 L493.2,246.3 L492.1,248.2 L491.4,250.1 L490.8,251.9 L490.4,253.8 L490.1,255.7 L489.9,257.6 L489.7,259.4 L489.6,261.3 L489.5,263.2 L489.4,265.1 L489.4,266.9 L489.4,268.8 M512.2,157.9 L510.9,158.6 L509.6,159.4 L508.4,160.3 L507.1,161.3 L506.0,162.4 L504.8,163.6 L503.8,164.9 L502.7,166.2 L501.8,167.7 L500.9,169.2 L500.0,170.9 L499.3,172.6 L498.6,174.3 L497.9,176.2 L497.4,178.1 L497.0,180.1 L496.6,182.2 L496.4,184.4 L496.2,186.6 L496.1,188.9 L496.1,190.9 L496.1,192.9 L496.1,194.9 L496.1,196.9 L496.1,198.9 L496.1,200.9 L496.1,202.9 L496.1,204.9 L496.1,206.9 L496.1,208.9 L496.1,210.9 L496.1,212.9 L496.1,214.9 L496.1,216.9 L496.1,218.9 L496.1,220.9 L496.0,222.9 L495.9,224.9 L495.6,226.9 L495.1,228.9 L494.6,230.8 L493.9,232.8 L493.1,234.8 L492.3,236.8 L491.5,238.8 L491.0,240.8 L490.5,242.8 L490.1,244.8 L489.8,246.8 L489.7,248.8 L489.5,250.8 L489.4,252.8 L489.4,254.8 L489.3,256.8 L489.3,258.8 L489.3,260.8 L489.2,262.8 L489.2,264.8 L489.2,266.8 L489.2,268.8 M543.4,157.9 L543.4,159.7 L543.4,161.6 L543.4,163.4 L543.4,165.3 L543.3,167.1 L543.3,169.0 L543.3,170.8 L543.3,172.7 L543.2,174.5 L543.2,176.4 L543.2,178.2 L543.2,180.1 L543.1,181.9 L543.1,183.8 L543.1,185.6 L543.0,187.5 L543.0,189.3 L543.0,191.2 L543.0,193.0 L542.9,194.9 L542.9,196.7 L542.9,198.6 L542.9,200.4 L542.9,202.3 L542.9,204.1 L542.9,206.0 L542.9,207.8 L542.9,209.7 L542.9,211.5 L542.9,213.4 L542.9,215.2 L542.9,217.0 L542.9,218.9 L542.9,220.7 L542.9,222.6 L542.9,224.4 L542.9,226.3 L542.9,228.1 L542.8,230.0 L542.8,231.8 L542.7,233.7 L542.7,235.5 L542.6,237.4 L542.6,239.2 L542.5,241.1 L542.5,242.9 L542.4,244.8 L542.3,246.6 L542.2,248.5 L542.2,250.3 L542.1,252.2 L542.0,254.0 L541.9,255.9 L541.8,257.7 L541.8,259.6 L541.7,261.4 L541.6,263.3 L541.6,265.1 L541.5,267.0 L541.5,268.8 M512.2,157.9 L510.5,158.3 L508.8,158.9 L507.1,159.5 L505.5,160.2 L504.0,161.0 L502.5,161.9 L501.1,162.9 L499.7,164.0 L498.4,165.1 L497.2,166.3 L496.1,167.6 L495.1,169.0 L494.2,170.4 L493.4,171.9 L492.7,173.4 L492.2,175.0 L491.9,176.7 L491.7,178.4 L491.5,180.1 L491.5,181.9 L491.5,184.1 L491.5,186.2 L491.5,188.4 L491.5,190.6 L491.5,192.8 L491.5,194.9 L491.5,197.1 L491.5,199.3 L491.5,201.5 L491.5,203.6 L491.5,205.8 L491.5,208.0 L491.5,210.1 L491.5,212.3 L491.5,214.5 L491.5,216.7 L491.5,218.8 L491.5,221.0 L491.4,223.2 L491.3,225.4 L491.1,227.5 L490.8,229.7 L490.6,231.9 L490.3,234.0 L490.0,236.2 L489.8,238.4 L489.6,240.6 L489.5,242.7 L489.4,244.9 L489.3,247.1 L489.3,249.2 L489.3,251.4 L489.2,253.6 L489.2,255.8 L489.2,257.9 L489.2,260.1 L489.2,262.3 L489.2,264.5 L489.2,266.6 L489.2,268.8 M512.2,157.9 L510.4,158.2 L508.5,158.6 L506.8,159.1 L505.1,159.7 L503.4,160.4 L501.8,161.1 L500.3,161.9 L498.9,162.8 L497.5,163.8 L496.2,164.8 L495.1,165.9 L494.0,167.0 L493.0,168.2 L492.3,169.5 L491.7,170.8 L491.4,172.1 L491.1,173.5 L491.0,175.0 L490.9,176.4 L490.8,177.9 L490.8,180.2 L490.8,182.4 L490.8,184.7 L490.8,187.0 L490.8,189.3 L490.8,191.5 L490.8,193.8 L490.8,196.1 L490.8,198.4 L490.8,200.6 L490.8,202.9 L490.8,205.2 L490.8,207.4 L490.8,209.7 L490.8,212.0 L490.8,214.3 L490.8,216.5 L490.8,218.8 L490.8,221.1 L490.8,223.4 L490.7,225.6 L490.5,227.9 L490.3,230.2 L490.1,232.4 L489.9,234.7 L489.7,237.0 L489.6,239.3 L489.4,241.5 L489.4,243.8 L489.3,246.1 L489.3,248.3 L489.2,250.6 L489.2,252.9 L489.2,255.2 L489.2,257.4 L489.2,259.7 L489.2,262.0 L489.2,264.3 L489.2,266.5 L489.2,268.8 M579.4,157.9 L579.8,158.9 L580.1,159.9 L580.5,161.1 L580.8,162.4 L581.1,163.8 L581.5,165.3 L581.8,166.9 L582.1,168.6 L582.3,170.4 L582.6,172.3 L582.8,174.3 L583.0,176.5 L583.2,178.7 L583.4,181.0 L583.5,183.4 L583.7,185.9 L583.8,188.5 L583.8,191.2 L583.9,194.0 L583.9,196.9 L583.9,198.7 L583.9,200.5 L583.9,202.3 L583.9,204.1 L583.9,205.9 L583.9,207.7 L583.9,209.5 L583.9,211.3 L583.9,213.1 L583.9,214.9 L583.9,216.7 L583.9,218.5 L583.9,220.3 L583.9,222.1 L584.0,223.9 L584.2,225.7 L584.4,227.5 L584.8,229.3 L585.2,231.1 L585.6,232.9 L586.2,234.6 L586.8,236.4 L587.5,238.2 L588.3,240.0 L589.2,241.8 L590.1,243.6 L591.0,245.4 L592.0,247.2 L593.0,249.0 L594.0,250.8 L595.0,252.6 L596.0,254.4 L597.0,256.2 L597.9,258.0 L598.8,259.8 L599.5,261.6 L600.0,263.4 L600.4,265.2 L600.7,267.0 L600.9,268.8 M579.4,157.9 L580.2,158.8 L581.1,159.8 L581.9,160.9 L582.6,162.1 L583.4,163.4 L584.1,164.8 L584.8,166.3 L585.5,167.8 L586.1,169.5 L586.7,171.3 L587.2,173.1 L587.7,175.1 L588.2,177.1 L588.5,179.3 L588.9,181.5 L589.2,183.8 L589.4,186.2 L589.6,188.7 L589.7,191.2 L589.7,193.9 L589.7,195.8 L589.7,197.6 L589.7,199.5 L589.7,201.4 L589.7,203.3 L589.7,205.1 L589.7,207.0 L589.7,208.9 L589.7,210.8 L589.7,212.6 L589.7,214.5 L589.7,216.4 L589.7,218.2 L589.7,220.1 L589.7,222.0 L589.9,223.9 L590.1,225.7 L590.3,227.6 L590.7,229.5 L591.2,231.4 L591.8,233.2 L592.5,235.1 L593.3,237.0 L594.2,238.8 L595.2,240.7 L596.2,242.6 L597.3,244.5 L598.4,246.3 L599.5,248.2 L600.2,250.1 L600.8,251.9 L601.2,253.8 L601.5,255.7 L601.7,257.6 L601.9,259.4 L602.0,261.3 L602.1,263.2 L602.2,265.1 L602.2,266.9 L602.2,268.8 M579.4,157.9 L580.7,158.6 L582.0,159.4 L583.2,160.3 L584.5,161.3 L585.6,162.4 L586.8,163.6 L587.8,164.9 L588.9,166.2 L589.8,167.7 L590.7,169.2 L591.6,170.9 L592.3,172.6 L593.0,174.3 L593.7,176.2 L594.2,178.1 L594.6,180.1 L595.0,182.2 L595.2,184.4 L595.4,186.6 L595.4,188.9 L595.4,190.9 L595.4,192.9 L595.4,194.9 L595.4,196.9 L595.4,198.9 L595.4,200.9 L595.4,202.9 L595.4,204.9 L595.4,206.9 L595.4,208.9 L595.4,210.9 L595.4,212.9 L595.4,214.9 L595.4,216.9 L595.4,218.9 L595.5,220.9 L595.6,222.9 L595.7,224.9 L596.0,226.9 L596.5,228.9 L597.0,230.8 L597.7,232.8 L598.5,234.8 L599.3,236.8 L600.1,238.8 L600.6,240.8 L601.1,242.8 L601.5,244.8 L601.8,246.8 L601.9,248.8 L602.1,250.8 L602.2,252.8 L602.2,254.8 L602.3,256.8 L602.3,258.8 L602.3,260.8 L602.4,262.8 L602.4,264.8 L602.4,266.8 L602.4,268.8 M548.2,157.9 L548.2,159.7 L548.2,161.6 L548.2,163.4 L548.2,165.3 L548.3,167.1 L548.3,169.0 L548.3,170.8 L548.3,172.7 L548.4,174.5 L548.4,176.4 L548.4,178.2 L548.4,180.1 L548.5,181.9 L548.5,183.8 L548.5,185.6 L548.6,187.5 L548.6,189.3 L548.6,191.2 L548.6,193.0 L548.7,194.9 L548.7,196.7 L548.7,198.6 L548.7,200.4 L548.7,202.3 L548.7,204.1 L548.7,206.0 L548.7,207.8 L548.7,209.7 L548.7,211.5 L548.7,213.4 L548.7,215.2 L548.7,217.0 L548.7,218.9 L548.7,220.7 L548.7,222.6 L548.7,224.4 L548.7,226.3 L548.7,228.1 L548.8,230.0 L548.8,231.8 L548.9,233.7 L548.9,235.5 L549.0,237.4 L549.0,239.2 L549.1,241.1 L549.1,242.9 L549.2,244.8 L549.3,246.6 L549.4,248.5 L549.4,250.3 L549.5,252.2 L549.6,254.0 L549.7,255.9 L549.8,257.7 L549.8,259.6 L549.9,261.4 L550.0,263.3 L550.0,265.1 L550.1,267.0 L550.1,268.8 M579.4,157.9 L581.1,158.3 L582.8,158.9 L584.5,159.5 L586.1,160.2 L587.6,161.0 L589.1,161.9 L590.5,162.9 L591.9,164.0 L593.2,165.1 L594.4,166.3 L595.5,167.6 L596.5,169.0 L597.4,170.4 L598.2,171.9 L598.9,173.4 L599.4,175.0 L599.7,176.7 L599.9,178.4 L600.1,180.1 L600.1,181.9 L600.1,184.1 L600.1,186.2 L600.1,188.4 L600.1,190.6 L600.1,192.8 L600.1,194.9 L600.1,197.1 L600.1,199.3 L600.1,201.5 L600.1,203.6 L600.1,205.8 L600.1,208.0 L600.1,210.1 L600.1,212.3 L600.1,214.5 L600.1,216.7 L600.1,218.8 L600.1,221.0 L600.2,223.2 L600.3,225.4 L600.5,227.5 L600.8,229.7 L601.0,231.9 L601.3,234.0 L601.6,236.2 L601.8,238.4 L602.0,240.6 L602.1,242.7 L602.2,244.9 L602.3,247.1 L602.3,249.2 L602.3,251.4 L602.4,253.6 L602.4,255.8 L602.4,257.9 L602.4,260.1 L602.4,262.3 L602.4,264.5 L602.4,266.6 L602.4,268.8 M579.4,157.9 L581.2,158.2 L583.1,158.6 L584.8,159.1 L586.5,159.7 L588.2,160.4 L589.8,161.1 L591.3,161.9 L592.7,162.8 L594.1,163.8 L595.4,164.8 L596.5,165.9 L597.6,167.0 L598.6,168.2 L599.3,169.5 L599.9,170.8 L600.2,172.1 L600.5,173.5 L600.6,175.0 L600.7,176.4 L600.8,177.9 L600.8,180.2 L600.8,182.4 L600.8,184.7 L600.8,187.0 L600.8,189.3 L600.8,191.5 L600.8,193.8 L600.8,196.1 L600.8,198.4 L600.8,200.6 L600.8,202.9 L600.8,205.2 L600.8,207.4 L600.8,209.7 L600.8,212.0 L600.8,214.3 L600.8,216.5 L600.8,218.8 L600.8,221.1 L600.8,223.4 L600.9,225.6 L601.1,227.9 L601.3,230.2 L601.5,232.4 L601.7,234.7 L601.9,237.0 L602.0,239.3 L602.2,241.5 L602.2,243.8 L602.3,246.1 L602.3,248.3 L602.4,250.6 L602.4,252.9 L602.4,255.2 L602.4,257.4 L602.4,259.7 L602.4,262.0 L602.4,264.3 L602.4,266.5 L602.4,268.8" fill="none" stroke="url(#sd1l)" stroke-width="0.6"/>
<path d="M540.9,157.9 L540.9,159.7 L540.9,161.6 L540.9,163.4 L540.8,165.3 L540.8,167.1 L540.7,169.0 L540.7,170.8 L540.6,172.7 L540.6,174.5 L540.5,176.4 L540.5,178.2 L540.4,180.1 L540.3,181.9 L540.3,183.8 L540.2,185.6 L540.2,187.5 L540.1,189.3 L540.1,191.2 L540.0,193.0 L540.0,194.9 L540.0,196.7 L539.9,198.6 L539.9,200.4 L539.9,202.3 L539.9,204.1 L539.9,206.0 L539.9,207.8 L539.9,209.7 L539.9,211.5 L539.9,213.4 L539.9,215.2 L539.9,217.0 L539.9,218.9 L539.9,220.7 L539.9,222.6 L539.9,224.4 L539.8,226.3 L539.8,228.1 L539.7,230.0 L539.7,231.8 L539.6,233.7 L539.5,235.5 L539.4,237.4 L539.3,239.2 L539.1,241.1 L539.0,242.9 L538.9,244.8 L538.7,246.6 L538.5,248.5 L538.4,250.3 L538.2,252.2 L538.1,254.0 L537.9,255.9 L537.8,257.7 L537.6,259.6 L537.5,261.4 L537.3,263.3 L537.2,265.1 L537.1,267.0 L537.1,268.8 M535.5,157.9 L535.5,159.7 L535.5,161.6 L535.4,163.4 L535.4,165.3 L535.3,167.1 L535.3,169.0 L535.2,170.8 L535.1,172.7 L535.1,174.5 L535.0,176.4 L534.9,178.2 L534.8,180.1 L534.7,181.9 L534.6,183.8 L534.6,185.6 L534.5,187.5 L534.4,189.3 L534.3,191.2 L534.3,193.0 L534.2,194.9 L534.2,196.7 L534.1,198.6 L534.1,200.4 L534.1,202.3 L534.1,204.1 L534.1,206.0 L534.1,207.8 L534.1,209.7 L534.1,211.5 L534.1,213.4 L534.1,215.2 L534.1,217.0 L534.1,218.9 L534.1,220.7 L534.1,222.6 L534.0,224.4 L534.0,226.3 L533.9,228.1 L533.8,230.0 L533.7,231.8 L533.5,233.7 L533.3,235.5 L533.1,237.4 L532.9,239.2 L532.6,241.1 L532.3,242.9 L532.0,244.8 L531.7,246.6 L531.4,248.5 L531.1,250.3 L530.8,252.2 L530.5,254.0 L530.1,255.9 L529.8,257.7 L529.5,259.6 L529.3,261.4 L529.0,263.3 L528.8,265.1 L528.6,267.0 L528.5,268.8 M530.5,157.9 L530.5,159.7 L530.5,161.6 L530.4,163.4 L530.3,165.3 L530.3,167.1 L530.2,169.0 L530.1,170.8 L529.9,172.7 L529.8,174.5 L529.7,176.4 L529.6,178.2 L529.4,180.1 L529.3,181.9 L529.2,183.8 L529.0,185.6 L528.9,187.5 L528.8,189.3 L528.7,191.2 L528.6,193.0 L528.5,194.9 L528.4,196.7 L528.4,198.6 L528.3,200.4 L528.3,202.3 L528.3,204.1 L528.3,206.0 L528.3,207.8 L528.3,209.7 L528.3,211.5 L528.3,213.4 L528.3,215.2 L528.3,217.0 L528.3,218.9 L528.3,220.7 L528.3,222.6 L528.2,224.4 L528.1,226.3 L528.0,228.1 L527.8,230.0 L527.6,231.8 L527.4,233.7 L527.1,235.5 L526.8,237.4 L526.4,239.2 L526.0,241.1 L525.6,242.9 L525.2,244.8 L524.7,246.6 L524.3,248.5 L523.8,250.3 L523.3,252.2 L522.8,254.0 L522.4,255.9 L521.9,257.7 L521.5,259.6 L521.1,261.4 L520.7,263.3 L520.4,265.1 L520.1,267.0 L519.9,268.8 M525.0,157.9 L525.0,159.7 L525.0,161.6 L524.9,163.4 L524.8,165.3 L524.7,167.1 L524.6,169.0 L524.5,170.8 L524.3,172.7 L524.2,174.5 L524.0,176.4 L523.9,178.2 L523.7,180.1 L523.6,181.9 L523.4,183.8 L523.3,185.6 L523.1,187.5 L523.0,189.3 L522.8,191.2 L522.7,193.0 L522.6,194.9 L522.5,196.7 L522.5,198.6 L522.4,200.4 L522.4,202.3 L522.4,204.1 L522.4,206.0 L522.4,207.8 L522.4,209.7 L522.4,211.5 L522.4,213.4 L522.4,215.2 L522.4,217.0 L522.4,218.9 L522.4,220.7 L522.4,222.6 L522.3,224.4 L522.2,226.3 L522.0,228.1 L521.8,230.0 L521.5,231.8 L521.2,233.7 L520.8,235.5 L520.4,237.4 L519.9,239.2 L519.4,241.1 L518.8,242.9 L518.3,244.8 L517.6,246.6 L517.0,248.5 L516.4,250.3 L515.7,252.2 L515.1,254.0 L514.5,255.9 L513.9,257.7 L513.3,259.6 L512.8,261.4 L512.3,263.3 L511.8,265.1 L511.4,267.0 L511.1,268.8 M518.8,157.9 L518.8,159.7 L518.8,161.6 L518.7,163.4 L518.6,165.3 L518.6,167.1 L518.5,169.0 L518.4,170.8 L518.2,172.7 L518.1,174.5 L518.0,176.4 L517.9,178.2 L517.7,180.1 L517.6,181.9 L517.5,183.8 L517.3,185.6 L517.2,187.5 L517.1,189.3 L517.0,191.2 L516.9,193.0 L516.8,194.9 L516.7,196.7 L516.7,198.6 L516.6,200.4 L516.6,202.3 L516.6,204.1 L516.6,206.0 L516.6,207.8 L516.6,209.7 L516.6,211.5 L516.6,213.4 L516.6,215.2 L516.6,217.0 L516.6,218.9 L516.6,220.7 L516.5,222.6 L516.5,224.4 L516.3,226.3 L516.1,228.1 L515.8,230.0 L515.5,231.8 L515.1,233.7 L514.6,235.5 L514.1,237.4 L513.5,239.2 L512.8,241.1 L512.2,242.9 L511.4,244.8 L510.7,246.6 L509.9,248.5 L509.1,250.3 L508.3,252.2 L507.5,254.0 L506.7,255.9 L506.0,257.7 L505.2,259.6 L504.6,261.4 L503.9,263.3 L503.4,265.1 L502.9,267.0 L502.5,268.8 M512.2,157.9 L512.1,158.7 L511.9,159.7 L511.8,160.8 L511.7,162.1 L511.6,163.4 L511.5,165.0 L511.4,166.6 L511.3,168.4 L511.2,170.3 L511.1,172.3 L511.0,174.4 L510.9,176.6 L510.8,178.9 L510.8,181.4 L510.7,183.9 L510.7,186.5 L510.6,189.3 L510.6,192.1 L510.6,194.9 L510.6,197.9 L510.6,199.7 L510.6,201.4 L510.6,203.2 L510.6,205.0 L510.6,206.8 L510.6,208.5 L510.6,210.3 L510.6,212.1 L510.6,213.9 L510.6,215.6 L510.6,217.4 L510.6,219.2 L510.6,220.9 L510.5,222.7 L510.4,224.5 L510.3,226.3 L510.0,228.0 L509.7,229.8 L509.3,231.6 L508.9,233.4 L508.3,235.1 L507.7,236.9 L507.1,238.7 L506.3,240.4 L505.6,242.2 L504.7,244.0 L503.9,245.8 L503.0,247.5 L502.1,249.3 L501.2,251.1 L500.2,252.8 L499.3,254.6 L498.4,256.4 L497.6,258.2 L496.7,259.9 L496.0,261.7 L495.3,263.5 L494.6,265.3 L494.1,267.0 L493.6,268.8 M512.2,157.9 L511.6,158.8 L511.0,159.9 L510.4,161.0 L509.9,162.3 L509.3,163.6 L508.8,165.1 L508.3,166.6 L507.8,168.3 L507.4,170.1 L507.0,172.0 L506.6,173.9 L506.2,176.0 L505.9,178.2 L505.6,180.4 L505.4,182.8 L505.2,185.2 L505.0,187.7 L504.9,190.4 L504.8,193.1 L504.8,195.9 L504.8,197.7 L504.8,199.5 L504.8,201.4 L504.8,203.2 L504.8,205.0 L504.8,206.8 L504.8,208.7 L504.8,210.5 L504.8,212.3 L504.8,214.1 L504.8,215.9 L504.8,217.8 L504.8,219.6 L504.8,221.4 L504.7,223.2 L504.5,225.1 L504.3,226.9 L504.0,228.7 L503.6,230.5 L503.1,232.4 L502.5,234.2 L501.8,236.0 L501.1,237.8 L500.2,239.6 L499.3,241.5 L498.4,243.3 L497.3,245.1 L496.3,246.9 L495.2,248.8 L494.1,250.6 L493.0,252.4 L492.1,254.2 L491.4,256.0 L490.9,257.9 L490.5,259.7 L490.2,261.5 L490.0,263.3 L489.9,265.2 L489.8,267.0 L489.7,268.8 M512.2,157.9 L511.1,158.7 L510.1,159.6 L509.0,160.6 L508.0,161.8 L507.1,163.0 L506.1,164.3 L505.3,165.7 L504.4,167.2 L503.6,168.8 L502.9,170.4 L502.2,172.2 L501.6,174.1 L501.0,176.0 L500.5,178.0 L500.0,180.1 L499.7,182.3 L499.4,184.6 L499.2,187.0 L499.0,189.4 L499.0,191.9 L499.0,193.8 L499.0,195.7 L499.0,197.7 L499.0,199.6 L499.0,201.5 L499.0,203.4 L499.0,205.4 L499.0,207.3 L499.0,209.2 L499.0,211.1 L499.0,213.0 L499.0,215.0 L499.0,216.9 L499.0,218.8 L499.0,220.7 L498.9,222.7 L498.8,224.6 L498.5,226.5 L498.1,228.4 L497.7,230.4 L497.1,232.3 L496.4,234.2 L495.5,236.1 L494.6,238.0 L493.6,240.0 L492.6,241.9 L491.7,243.8 L491.0,245.7 L490.5,247.7 L490.2,249.6 L489.9,251.5 L489.7,253.4 L489.6,255.3 L489.5,257.3 L489.4,259.2 L489.3,261.1 L489.3,263.0 L489.3,265.0 L489.3,266.9 L489.3,268.8 M512.2,157.9 L510.7,158.5 L509.1,159.1 L507.7,159.9 L506.2,160.8 L504.9,161.7 L503.5,162.8 L502.3,163.9 L501.1,165.2 L499.9,166.5 L498.9,167.9 L497.9,169.4 L497.0,171.0 L496.1,172.6 L495.4,174.3 L494.8,176.1 L494.3,177.9 L493.9,179.8 L493.5,181.8 L493.4,183.8 L493.3,185.9 L493.3,188.0 L493.3,190.0 L493.3,192.1 L493.3,194.2 L493.3,196.3 L493.3,198.3 L493.3,200.4 L493.3,202.5 L493.3,204.6 L493.3,206.6 L493.3,208.7 L493.3,210.8 L493.3,212.8 L493.3,214.9 L493.3,217.0 L493.3,219.1 L493.3,221.1 L493.2,223.2 L493.0,225.3 L492.6,227.4 L492.2,229.4 L491.8,231.5 L491.3,233.6 L490.9,235.6 L490.5,237.7 L490.1,239.8 L489.9,241.9 L489.7,243.9 L489.5,246.0 L489.4,248.1 L489.3,250.1 L489.3,252.2 L489.3,254.3 L489.2,256.4 L489.2,258.4 L489.2,260.5 L489.2,262.6 L489.2,264.7 L489.2,266.7 L489.2,268.8 M550.7,157.9 L550.7,159.7 L550.7,161.6 L550.7,163.4 L550.8,165.3 L550.8,167.1 L550.9,169.0 L550.9,170.8 L551.0,172.7 L551.0,174.5 L551.1,176.4 L551.1,178.2 L551.2,180.1 L551.3,181.9 L551.3,183.8 L551.4,185.6 L551.4,187.5 L551.5,189.3 L551.5,191.2 L551.6,193.0 L551.6,194.9 L551.6,196.7 L551.7,198.6 L551.7,200.4 L551.7,202.3 L551.7,204.1 L551.7,206.0 L551.7,207.8 L551.7,209.7 L551.7,211.5 L551.7,213.4 L551.7,215.2 L551.7,217.0 L551.7,218.9 L551.7,220.7 L551.7,222.6 L551.7,224.4 L551.8,226.3 L551.8,228.1 L551.9,230.0 L551.9,231.8 L552.0,233.7 L552.1,235.5 L552.2,237.4 L552.3,239.2 L552.5,241.1 L552.6,242.9 L552.7,244.8 L552.9,246.6 L553.1,248.5 L553.2,250.3 L553.4,252.2 L553.5,254.0 L553.7,255.9 L553.8,257.7 L554.0,259.6 L554.1,261.4 L554.3,263.3 L554.4,265.1 L554.5,267.0 L554.5,268.8 M556.1,157.9 L556.1,159.7 L556.1,161.6 L556.2,163.4 L556.2,165.3 L556.3,167.1 L556.3,169.0 L556.4,170.8 L556.5,172.7 L556.5,174.5 L556.6,176.4 L556.7,178.2 L556.8,180.1 L556.9,181.9 L557.0,183.8 L557.0,185.6 L557.1,187.5 L557.2,189.3 L557.3,191.2 L557.3,193.0 L557.4,194.9 L557.4,196.7 L557.5,198.6 L557.5,200.4 L557.5,202.3 L557.5,204.1 L557.5,206.0 L557.5,207.8 L557.5,209.7 L557.5,211.5 L557.5,213.4 L557.5,215.2 L557.5,217.0 L557.5,218.9 L557.5,220.7 L557.5,222.6 L557.6,224.4 L557.6,226.3 L557.7,228.1 L557.8,230.0 L557.9,231.8 L558.1,233.7 L558.3,235.5 L558.5,237.4 L558.7,239.2 L559.0,241.1 L559.3,242.9 L559.6,244.8 L559.9,246.6 L560.2,248.5 L560.5,250.3 L560.8,252.2 L561.1,254.0 L561.5,255.9 L561.8,257.7 L562.1,259.6 L562.3,261.4 L562.6,263.3 L562.8,265.1 L563.0,267.0 L563.1,268.8 M561.1,157.9 L561.1,159.7 L561.1,161.6 L561.2,163.4 L561.3,165.3 L561.3,167.1 L561.4,169.0 L561.5,170.8 L561.7,172.7 L561.8,174.5 L561.9,176.4 L562.0,178.2 L562.2,180.1 L562.3,181.9 L562.4,183.8 L562.6,185.6 L562.7,187.5 L562.8,189.3 L562.9,191.2 L563.0,193.0 L563.1,194.9 L563.2,196.7 L563.2,198.6 L563.3,200.4 L563.3,202.3 L563.3,204.1 L563.3,206.0 L563.3,207.8 L563.3,209.7 L563.3,211.5 L563.3,213.4 L563.3,215.2 L563.3,217.0 L563.3,218.9 L563.3,220.7 L563.3,222.6 L563.4,224.4 L563.5,226.3 L563.6,228.1 L563.8,230.0 L564.0,231.8 L564.2,233.7 L564.5,235.5 L564.8,237.4 L565.2,239.2 L565.6,241.1 L566.0,242.9 L566.4,244.8 L566.9,246.6 L567.3,248.5 L567.8,250.3 L568.3,252.2 L568.8,254.0 L569.2,255.9 L569.7,257.7 L570.1,259.6 L570.5,261.4 L570.9,263.3 L571.2,265.1 L571.5,267.0 L571.7,268.8 M566.6,157.9 L566.6,159.7 L566.6,161.6 L566.7,163.4 L566.8,165.3 L566.9,167.1 L567.0,169.0 L567.1,170.8 L567.3,172.7 L567.4,174.5 L567.6,176.4 L567.7,178.2 L567.9,180.1 L568.0,181.9 L568.2,183.8 L568.3,185.6 L568.5,187.5 L568.6,189.3 L568.8,191.2 L568.9,193.0 L569.0,194.9 L569.1,196.7 L569.1,198.6 L569.2,200.4 L569.2,202.3 L569.2,204.1 L569.2,206.0 L569.2,207.8 L569.2,209.7 L569.2,211.5 L569.2,213.4 L569.2,215.2 L569.2,217.0 L569.2,218.9 L569.2,220.7 L569.2,222.6 L569.3,224.4 L569.4,226.3 L569.6,228.1 L569.8,230.0 L570.1,231.8 L570.4,233.7 L570.8,235.5 L571.2,237.4 L571.7,239.2 L572.2,241.1 L572.8,242.9 L573.3,244.8 L574.0,246.6 L574.6,248.5 L575.2,250.3 L575.9,252.2 L576.5,254.0 L577.1,255.9 L577.7,257.7 L578.3,259.6 L578.8,261.4 L579.3,263.3 L579.8,265.1 L580.2,267.0 L580.5,268.8 M572.8,157.9 L572.8,159.7 L572.8,161.6 L572.9,163.4 L573.0,165.3 L573.0,167.1 L573.1,169.0 L573.2,170.8 L573.4,172.7 L573.5,174.5 L573.6,176.4 L573.7,178.2 L573.9,180.1 L574.0,181.9 L574.1,183.8 L574.3,185.6 L574.4,187.5 L574.5,189.3 L574.6,191.2 L574.7,193.0 L574.8,194.9 L574.9,196.7 L574.9,198.6 L575.0,200.4 L575.0,202.3 L575.0,204.1 L575.0,206.0 L575.0,207.8 L575.0,209.7 L575.0,211.5 L575.0,213.4 L575.0,215.2 L575.0,217.0 L575.0,218.9 L575.0,220.7 L575.1,222.6 L575.1,224.4 L575.3,226.3 L575.5,228.1 L575.8,230.0 L576.1,231.8 L576.5,233.7 L577.0,235.5 L577.5,237.4 L578.1,239.2 L578.8,241.1 L579.4,242.9 L580.2,244.8 L580.9,246.6 L581.7,248.5 L582.5,250.3 L583.3,252.2 L584.1,254.0 L584.9,255.9 L585.6,257.7 L586.4,259.6 L587.0,261.4 L587.7,263.3 L588.2,265.1 L588.7,267.0 L589.1,268.8 M579.4,157.9 L579.5,158.7 L579.7,159.7 L579.8,160.8 L579.9,162.1 L580.0,163.4 L580.1,165.0 L580.2,166.6 L580.3,168.4 L580.4,170.3 L580.5,172.3 L580.6,174.4 L580.7,176.6 L580.8,178.9 L580.8,181.4 L580.9,183.9 L580.9,186.5 L581.0,189.3 L581.0,192.1 L581.0,194.9 L581.0,197.9 L581.0,199.7 L581.0,201.4 L581.0,203.2 L581.0,205.0 L581.0,206.8 L581.0,208.5 L581.0,210.3 L581.0,212.1 L581.0,213.9 L581.0,215.6 L581.0,217.4 L581.0,219.2 L581.0,220.9 L581.1,222.7 L581.2,224.5 L581.3,226.3 L581.6,228.0 L581.9,229.8 L582.3,231.6 L582.7,233.4 L583.3,235.1 L583.9,236.9 L584.5,238.7 L585.3,240.4 L586.0,242.2 L586.9,244.0 L587.7,245.8 L588.6,247.5 L589.5,249.3 L590.4,251.1 L591.4,252.8 L592.3,254.6 L593.2,256.4 L594.0,258.2 L594.9,259.9 L595.6,261.7 L596.3,263.5 L597.0,265.3 L597.5,267.0 L598.0,268.8 M579.4,157.9 L580.0,158.8 L580.6,159.9 L581.2,161.0 L581.7,162.3 L582.3,163.6 L582.8,165.1 L583.3,166.6 L583.8,168.3 L584.2,170.1 L584.6,172.0 L585.0,173.9 L585.4,176.0 L585.7,178.2 L586.0,180.4 L586.2,182.8 L586.4,185.2 L586.6,187.7 L586.7,190.4 L586.8,193.1 L586.8,195.9 L586.8,197.7 L586.8,199.5 L586.8,201.4 L586.8,203.2 L586.8,205.0 L586.8,206.8 L586.8,208.7 L586.8,210.5 L586.8,212.3 L586.8,214.1 L586.8,215.9 L586.8,217.8 L586.8,219.6 L586.8,221.4 L586.9,223.2 L587.1,225.1 L587.3,226.9 L587.6,228.7 L588.0,230.5 L588.5,232.4 L589.1,234.2 L589.8,236.0 L590.5,237.8 L591.4,239.6 L592.3,241.5 L593.2,243.3 L594.3,245.1 L595.3,246.9 L596.4,248.8 L597.5,250.6 L598.6,252.4 L599.5,254.2 L600.2,256.0 L600.7,257.9 L601.1,259.7 L601.4,261.5 L601.6,263.3 L601.7,265.2 L601.8,267.0 L601.9,268.8 M579.4,157.9 L580.5,158.7 L581.5,159.6 L582.6,160.6 L583.6,161.8 L584.5,163.0 L585.5,164.3 L586.3,165.7 L587.2,167.2 L588.0,168.8 L588.7,170.4 L589.4,172.2 L590.0,174.1 L590.6,176.0 L591.1,178.0 L591.6,180.1 L591.9,182.3 L592.2,184.6 L592.4,187.0 L592.6,189.4 L592.6,191.9 L592.6,193.8 L592.6,195.7 L592.6,197.7 L592.6,199.6 L592.6,201.5 L592.6,203.4 L592.6,205.4 L592.6,207.3 L592.6,209.2 L592.6,211.1 L592.6,213.0 L592.6,215.0 L592.6,216.9 L592.6,218.8 L592.6,220.7 L592.7,222.7 L592.8,224.6 L593.1,226.5 L593.5,228.4 L593.9,230.4 L594.5,232.3 L595.2,234.2 L596.1,236.1 L597.0,238.0 L598.0,240.0 L599.0,241.9 L599.9,243.8 L600.6,245.7 L601.1,247.7 L601.4,249.6 L601.7,251.5 L601.9,253.4 L602.0,255.3 L602.1,257.3 L602.2,259.2 L602.3,261.1 L602.3,263.0 L602.3,265.0 L602.3,266.9 L602.3,268.8 M579.4,157.9 L580.9,158.5 L582.5,159.1 L583.9,159.9 L585.4,160.8 L586.7,161.7 L588.1,162.8 L589.3,163.9 L590.5,165.2 L591.7,166.5 L592.7,167.9 L593.7,169.4 L594.6,171.0 L595.5,172.6 L596.2,174.3 L596.8,176.1 L597.3,177.9 L597.7,179.8 L598.1,181.8 L598.2,183.8 L598.3,185.9 L598.3,188.0 L598.3,190.0 L598.3,192.1 L598.3,194.2 L598.3,196.3 L598.3,198.3 L598.3,200.4 L598.3,202.5 L598.3,204.6 L598.3,206.6 L598.3,208.7 L598.3,210.8 L598.3,212.8 L598.3,214.9 L598.3,217.0 L598.3,219.1 L598.3,221.1 L598.4,223.2 L598.6,225.3 L599.0,227.4 L599.4,229.4 L599.8,231.5 L600.3,233.6 L600.7,235.6 L601.1,237.7 L601.5,239.8 L601.7,241.9 L601.9,243.9 L602.1,246.0 L602.2,248.1 L602.3,250.1 L602.3,252.2 L602.3,254.3 L602.4,256.4 L602.4,258.4 L602.4,260.5 L602.4,262.6 L602.4,264.7 L602.4,266.7 L602.4,268.8" fill="none" stroke="url(#sd1)" stroke-width="1.1"/>
<path d="M512.2,283.4 L511.8,284.4 L511.5,285.4 L511.1,286.6 L510.8,287.9 L510.5,289.3 L510.1,290.8 L509.8,292.4 L509.5,294.1 L509.3,295.9 L509.0,297.8 L508.8,299.8 L508.6,302.0 L508.4,304.2 L508.2,306.5 L508.1,308.9 L507.9,311.4 L507.8,314.0 L507.8,316.7 L507.7,319.5 L507.7,322.4 L507.7,324.2 L507.7,326.0 L507.7,327.8 L507.7,329.6 L507.7,331.4 L507.7,333.2 L507.7,335.0 L507.7,336.8 L507.7,338.6 L507.7,340.4 L507.7,342.2 L507.7,344.0 L507.7,345.8 L507.7,347.6 L507.6,349.4 L507.4,351.2 L507.2,353.0 L506.8,354.8 L506.4,356.6 L506.0,358.4 L505.4,360.1 L504.8,361.9 L504.1,363.7 L503.3,365.5 L502.4,367.3 L501.5,369.1 L500.6,370.9 L499.6,372.7 L498.6,374.5 L497.6,376.3 L496.6,378.1 L495.6,379.9 L494.6,381.7 L493.7,383.5 L492.8,385.3 L492.1,387.1 L491.6,388.9 L491.2,390.7 L490.9,392.5 L490.7,394.3 M512.2,283.4 L511.4,284.3 L510.5,285.3 L509.7,286.4 L509.0,287.6 L508.2,288.9 L507.5,290.3 L506.8,291.8 L506.1,293.3 L505.5,295.0 L504.9,296.8 L504.4,298.6 L503.9,300.6 L503.4,302.6 L503.1,304.8 L502.7,307.0 L502.4,309.3 L502.2,311.7 L502.0,314.2 L501.9,316.7 L501.9,319.4 L501.9,321.3 L501.9,323.1 L501.9,325.0 L501.9,326.9 L501.9,328.8 L501.9,330.6 L501.9,332.5 L501.9,334.4 L501.9,336.3 L501.9,338.1 L501.9,340.0 L501.9,341.9 L501.9,343.7 L501.9,345.6 L501.9,347.5 L501.7,349.4 L501.5,351.2 L501.3,353.1 L500.9,355.0 L500.4,356.9 L499.8,358.7 L499.1,360.6 L498.3,362.5 L497.4,364.3 L496.4,366.2 L495.4,368.1 L494.3,370.0 L493.2,371.8 L492.1,373.7 L491.4,375.6 L490.8,377.4 L490.4,379.3 L490.1,381.2 L489.9,383.1 L489.7,384.9 L489.6,386.8 L489.5,388.7 L489.4,390.6 L489.4,392.4 L489.4,394.3 M512.2,283.4 L510.9,284.1 L509.6,284.9 L508.4,285.8 L507.1,286.8 L506.0,287.9 L504.8,289.1 L503.8,290.4 L502.7,291.7 L501.8,293.2 L500.9,294.7 L500.0,296.4 L499.3,298.1 L498.6,299.8 L497.9,301.7 L497.4,303.6 L497.0,305.6 L496.6,307.7 L496.4,309.9 L496.2,312.1 L496.1,314.4 L496.1,316.4 L496.1,318.4 L496.1,320.4 L496.1,322.4 L496.1,324.4 L496.1,326.4 L496.1,328.4 L496.1,330.4 L496.1,332.4 L496.1,334.4 L496.1,336.4 L496.1,338.4 L496.1,340.4 L496.1,342.4 L496.1,344.4 L496.1,346.4 L496.0,348.4 L495.9,350.4 L495.6,352.4 L495.1,354.4 L494.6,356.3 L493.9,358.3 L493.1,360.3 L492.3,362.3 L491.5,364.3 L491.0,366.3 L490.5,368.3 L490.1,370.3 L489.8,372.3 L489.7,374.3 L489.5,376.3 L489.4,378.3 L489.4,380.3 L489.3,382.3 L489.3,384.3 L489.3,386.3 L489.2,388.3 L489.2,390.3 L489.2,392.3 L489.2,394.3 M543.4,283.4 L543.4,285.2 L543.4,287.1 L543.4,288.9 L543.4,290.8 L543.3,292.6 L543.3,294.5 L543.3,296.3 L543.3,298.2 L543.2,300.0 L543.2,301.9 L543.2,303.7 L543.2,305.6 L543.1,307.4 L543.1,309.3 L543.1,311.1 L543.0,313.0 L543.0,314.8 L543.0,316.7 L543.0,318.5 L542.9,320.4 L542.9,322.2 L542.9,324.1 L542.9,325.9 L542.9,327.8 L542.9,329.6 L542.9,331.5 L542.9,333.3 L542.9,335.2 L542.9,337.0 L542.9,338.9 L542.9,340.7 L542.9,342.5 L542.9,344.4 L542.9,346.2 L542.9,348.1 L542.9,349.9 L542.9,351.8 L542.9,353.6 L542.8,355.5 L542.8,357.3 L542.7,359.2 L542.7,361.0 L542.6,362.9 L542.6,364.7 L542.5,366.6 L542.5,368.4 L542.4,370.3 L542.3,372.1 L542.2,374.0 L542.2,375.8 L542.1,377.7 L542.0,379.5 L541.9,381.4 L541.8,383.2 L541.8,385.1 L541.7,386.9 L541.6,388.8 L541.6,390.6 L541.5,392.5 L541.5,394.3 M512.2,283.4 L510.5,283.8 L508.8,284.4 L507.1,285.0 L505.5,285.7 L504.0,286.5 L502.5,287.4 L501.1,288.4 L499.7,289.5 L498.4,290.6 L497.2,291.8 L496.1,293.1 L495.1,294.5 L494.2,295.9 L493.4,297.4 L492.7,298.9 L492.2,300.5 L491.9,302.2 L491.7,303.9 L491.5,305.6 L491.5,307.4 L491.5,309.6 L491.5,311.7 L491.5,313.9 L491.5,316.1 L491.5,318.3 L491.5,320.4 L491.5,322.6 L491.5,324.8 L491.5,327.0 L491.5,329.1 L491.5,331.3 L491.5,333.5 L491.5,335.6 L491.5,337.8 L491.5,340.0 L491.5,342.2 L491.5,344.3 L491.5,346.5 L491.4,348.7 L491.3,350.9 L491.1,353.0 L490.8,355.2 L490.6,357.4 L490.3,359.5 L490.0,361.7 L489.8,363.9 L489.6,366.1 L489.5,368.2 L489.4,370.4 L489.3,372.6 L489.3,374.7 L489.3,376.9 L489.2,379.1 L489.2,381.3 L489.2,383.4 L489.2,385.6 L489.2,387.8 L489.2,390.0 L489.2,392.1 L489.2,394.3 M512.2,283.4 L510.4,283.7 L508.5,284.1 L506.8,284.6 L505.1,285.2 L503.4,285.9 L501.8,286.6 L500.3,287.4 L498.9,288.3 L497.5,289.3 L496.2,290.3 L495.1,291.4 L494.0,292.5 L493.0,293.7 L492.3,295.0 L491.7,296.3 L491.4,297.6 L491.1,299.0 L491.0,300.5 L490.9,301.9 L490.8,303.4 L490.8,305.7 L490.8,307.9 L490.8,310.2 L490.8,312.5 L490.8,314.8 L490.8,317.0 L490.8,319.3 L490.8,321.6 L490.8,323.9 L490.8,326.1 L490.8,328.4 L490.8,330.7 L490.8,332.9 L490.8,335.2 L490.8,337.5 L490.8,339.8 L490.8,342.0 L490.8,344.3 L490.8,346.6 L490.8,348.9 L490.7,351.1 L490.5,353.4 L490.3,355.7 L490.1,357.9 L489.9,360.2 L489.7,362.5 L489.6,364.8 L489.4,367.0 L489.4,369.3 L489.3,371.6 L489.3,373.8 L489.2,376.1 L489.2,378.4 L489.2,380.7 L489.2,382.9 L489.2,385.2 L489.2,387.5 L489.2,389.8 L489.2,392.0 L489.2,394.3 M579.4,283.4 L579.8,284.4 L580.1,285.4 L580.5,286.6 L580.8,287.9 L581.1,289.3 L581.5,290.8 L581.8,292.4 L582.1,294.1 L582.3,295.9 L582.6,297.8 L582.8,299.8 L583.0,302.0 L583.2,304.2 L583.4,306.5 L583.5,308.9 L583.7,311.4 L583.8,314.0 L583.8,316.7 L583.9,319.5 L583.9,322.4 L583.9,324.2 L583.9,326.0 L583.9,327.8 L583.9,329.6 L583.9,331.4 L583.9,333.2 L583.9,335.0 L583.9,336.8 L583.9,338.6 L583.9,340.4 L583.9,342.2 L583.9,344.0 L583.9,345.8 L583.9,347.6 L584.0,349.4 L584.2,351.2 L584.4,353.0 L584.8,354.8 L585.2,356.6 L585.6,358.4 L586.2,360.1 L586.8,361.9 L587.5,363.7 L588.3,365.5 L589.2,367.3 L590.1,369.1 L591.0,370.9 L592.0,372.7 L593.0,374.5 L594.0,376.3 L595.0,378.1 L596.0,379.9 L597.0,381.7 L597.9,383.5 L598.8,385.3 L599.5,387.1 L600.0,388.9 L600.4,390.7 L600.7,392.5 L600.9,394.3 M579.4,283.4 L580.2,284.3 L581.1,285.3 L581.9,286.4 L582.6,287.6 L583.4,288.9 L584.1,290.3 L584.8,291.8 L585.5,293.3 L586.1,295.0 L586.7,296.8 L587.2,298.6 L587.7,300.6 L588.2,302.6 L588.5,304.8 L588.9,307.0 L589.2,309.3 L589.4,311.7 L589.6,314.2 L589.7,316.7 L589.7,319.4 L589.7,321.3 L589.7,323.1 L589.7,325.0 L589.7,326.9 L589.7,328.8 L589.7,330.6 L589.7,332.5 L589.7,334.4 L589.7,336.3 L589.7,338.1 L589.7,340.0 L589.7,341.9 L589.7,343.7 L589.7,345.6 L589.7,347.5 L589.9,349.4 L590.1,351.2 L590.3,353.1 L590.7,355.0 L591.2,356.9 L591.8,358.7 L592.5,360.6 L593.3,362.5 L594.2,364.3 L595.2,366.2 L596.2,368.1 L597.3,370.0 L598.4,371.8 L599.5,373.7 L600.2,375.6 L600.8,377.4 L601.2,379.3 L601.5,381.2 L601.7,383.1 L601.9,384.9 L602.0,386.8 L602.1,388.7 L602.2,390.6 L602.2,392.4 L602.2,394.3 M579.4,283.4 L580.7,284.1 L582.0,284.9 L583.2,285.8 L584.5,286.8 L585.6,287.9 L586.8,289.1 L587.8,290.4 L588.9,291.7 L589.8,293.2 L590.7,294.7 L591.6,296.4 L592.3,298.1 L593.0,299.8 L593.7,301.7 L594.2,303.6 L594.6,305.6 L595.0,307.7 L595.2,309.9 L595.4,312.1 L595.4,314.4 L595.4,316.4 L595.4,318.4 L595.4,320.4 L595.4,322.4 L595.4,324.4 L595.4,326.4 L595.4,328.4 L595.4,330.4 L595.4,332.4 L595.4,334.4 L595.4,336.4 L595.4,338.4 L595.4,340.4 L595.4,342.4 L595.4,344.4 L595.5,346.4 L595.6,348.4 L595.7,350.4 L596.0,352.4 L596.5,354.4 L597.0,356.3 L597.7,358.3 L598.5,360.3 L599.3,362.3 L600.1,364.3 L600.6,366.3 L601.1,368.3 L601.5,370.3 L601.8,372.3 L601.9,374.3 L602.1,376.3 L602.2,378.3 L602.2,380.3 L602.3,382.3 L602.3,384.3 L602.3,386.3 L602.4,388.3 L602.4,390.3 L602.4,392.3 L602.4,394.3 M548.2,283.4 L548.2,285.2 L548.2,287.1 L548.2,288.9 L548.2,290.8 L548.3,292.6 L548.3,294.5 L548.3,296.3 L548.3,298.2 L548.4,300.0 L548.4,301.9 L548.4,303.7 L548.4,305.6 L548.5,307.4 L548.5,309.3 L548.5,311.1 L548.6,313.0 L548.6,314.8 L548.6,316.7 L548.6,318.5 L548.7,320.4 L548.7,322.2 L548.7,324.1 L548.7,325.9 L548.7,327.8 L548.7,329.6 L548.7,331.5 L548.7,333.3 L548.7,335.2 L548.7,337.0 L548.7,338.9 L548.7,340.7 L548.7,342.5 L548.7,344.4 L548.7,346.2 L548.7,348.1 L548.7,349.9 L548.7,351.8 L548.7,353.6 L548.8,355.5 L548.8,357.3 L548.9,359.2 L548.9,361.0 L549.0,362.9 L549.0,364.7 L549.1,366.6 L549.1,368.4 L549.2,370.3 L549.3,372.1 L549.4,374.0 L549.4,375.8 L549.5,377.7 L549.6,379.5 L549.7,381.4 L549.8,383.2 L549.8,385.1 L549.9,386.9 L550.0,388.8 L550.0,390.6 L550.1,392.5 L550.1,394.3 M579.4,283.4 L581.1,283.8 L582.8,284.4 L584.5,285.0 L586.1,285.7 L587.6,286.5 L589.1,287.4 L590.5,288.4 L591.9,289.5 L593.2,290.6 L594.4,291.8 L595.5,293.1 L596.5,294.5 L597.4,295.9 L598.2,297.4 L598.9,298.9 L599.4,300.5 L599.7,302.2 L599.9,303.9 L600.1,305.6 L600.1,307.4 L600.1,309.6 L600.1,311.7 L600.1,313.9 L600.1,316.1 L600.1,318.3 L600.1,320.4 L600.1,322.6 L600.1,324.8 L600.1,327.0 L600.1,329.1 L600.1,331.3 L600.1,333.5 L600.1,335.6 L600.1,337.8 L600.1,340.0 L600.1,342.2 L600.1,344.3 L600.1,346.5 L600.2,348.7 L600.3,350.9 L600.5,353.0 L600.8,355.2 L601.0,357.4 L601.3,359.5 L601.6,361.7 L601.8,363.9 L602.0,366.1 L602.1,368.2 L602.2,370.4 L602.3,372.6 L602.3,374.7 L602.3,376.9 L602.4,379.1 L602.4,381.3 L602.4,383.4 L602.4,385.6 L602.4,387.8 L602.4,390.0 L602.4,392.1 L602.4,394.3 M579.4,283.4 L581.2,283.7 L583.1,284.1 L584.8,284.6 L586.5,285.2 L588.2,285.9 L589.8,286.6 L591.3,287.4 L592.7,288.3 L594.1,289.3 L595.4,290.3 L596.5,291.4 L597.6,292.5 L598.6,293.7 L599.3,295.0 L599.9,296.3 L600.2,297.6 L600.5,299.0 L600.6,300.5 L600.7,301.9 L600.8,303.4 L600.8,305.7 L600.8,307.9 L600.8,310.2 L600.8,312.5 L600.8,314.8 L600.8,317.0 L600.8,319.3 L600.8,321.6 L600.8,323.9 L600.8,326.1 L600.8,328.4 L600.8,330.7 L600.8,332.9 L600.8,335.2 L600.8,337.5 L600.8,339.8 L600.8,342.0 L600.8,344.3 L600.8,346.6 L600.8,348.9 L600.9,351.1 L601.1,353.4 L601.3,355.7 L601.5,357.9 L601.7,360.2 L601.9,362.5 L602.0,364.8 L602.2,367.0 L602.2,369.3 L602.3,371.6 L602.3,373.8 L602.4,376.1 L602.4,378.4 L602.4,380.7 L602.4,382.9 L602.4,385.2 L602.4,387.5 L602.4,389.8 L602.4,392.0 L602.4,394.3" fill="none" stroke="url(#sd2l)" stroke-width="0.6"/>
<path d="M540.9,283.4 L540.9,285.2 L540.9,287.1 L540.9,288.9 L540.8,290.8 L540.8,292.6 L540.7,294.5 L540.7,296.3 L540.6,298.2 L540.6,300.0 L540.5,301.9 L540.5,303.7 L540.4,305.6 L540.3,307.4 L540.3,309.3 L540.2,311.1 L540.2,313.0 L540.1,314.8 L540.1,316.7 L540.0,318.5 L540.0,320.4 L540.0,322.2 L539.9,324.1 L539.9,325.9 L539.9,327.8 L539.9,329.6 L539.9,331.5 L539.9,333.3 L539.9,335.2 L539.9,337.0 L539.9,338.9 L539.9,340.7 L539.9,342.5 L539.9,344.4 L539.9,346.2 L539.9,348.1 L539.9,349.9 L539.8,351.8 L539.8,353.6 L539.7,355.5 L539.7,357.3 L539.6,359.2 L539.5,361.0 L539.4,362.9 L539.3,364.7 L539.1,366.6 L539.0,368.4 L538.9,370.3 L538.7,372.1 L538.5,374.0 L538.4,375.8 L538.2,377.7 L538.1,379.5 L537.9,381.4 L537.8,383.2 L537.6,385.1 L537.5,386.9 L537.3,388.8 L537.2,390.6 L537.1,392.5 L537.1,394.3 M535.5,283.4 L535.5,285.2 L535.5,287.1 L535.4,288.9 L535.4,290.8 L535.3,292.6 L535.3,294.5 L535.2,296.3 L535.1,298.2 L535.1,300.0 L535.0,301.9 L534.9,303.7 L534.8,305.6 L534.7,307.4 L534.6,309.3 L534.6,311.1 L534.5,313.0 L534.4,314.8 L534.3,316.7 L534.3,318.5 L534.2,320.4 L534.2,322.2 L534.1,324.1 L534.1,325.9 L534.1,327.8 L534.1,329.6 L534.1,331.5 L534.1,333.3 L534.1,335.2 L534.1,337.0 L534.1,338.9 L534.1,340.7 L534.1,342.5 L534.1,344.4 L534.1,346.2 L534.1,348.1 L534.0,349.9 L534.0,351.8 L533.9,353.6 L533.8,355.5 L533.7,357.3 L533.5,359.2 L533.3,361.0 L533.1,362.9 L532.9,364.7 L532.6,366.6 L532.3,368.4 L532.0,370.3 L531.7,372.1 L531.4,374.0 L531.1,375.8 L530.8,377.7 L530.5,379.5 L530.1,381.4 L529.8,383.2 L529.5,385.1 L529.3,386.9 L529.0,388.8 L528.8,390.6 L528.6,392.5 L528.5,394.3 M530.5,283.4 L530.5,285.2 L530.5,287.1 L530.4,288.9 L530.3,290.8 L530.3,292.6 L530.2,294.5 L530.1,296.3 L529.9,298.2 L529.8,300.0 L529.7,301.9 L529.6,303.7 L529.4,305.6 L529.3,307.4 L529.2,309.3 L529.0,311.1 L528.9,313.0 L528.8,314.8 L528.7,316.7 L528.6,318.5 L528.5,320.4 L528.4,322.2 L528.4,324.1 L528.3,325.9 L528.3,327.8 L528.3,329.6 L528.3,331.5 L528.3,333.3 L528.3,335.2 L528.3,337.0 L528.3,338.9 L528.3,340.7 L528.3,342.5 L528.3,344.4 L528.3,346.2 L528.3,348.1 L528.2,349.9 L528.1,351.8 L528.0,353.6 L527.8,355.5 L527.6,357.3 L527.4,359.2 L527.1,361.0 L526.8,362.9 L526.4,364.7 L526.0,366.6 L525.6,368.4 L525.2,370.3 L524.7,372.1 L524.3,374.0 L523.8,375.8 L523.3,377.7 L522.8,379.5 L522.4,381.4 L521.9,383.2 L521.5,385.1 L521.1,386.9 L520.7,388.8 L520.4,390.6 L520.1,392.5 L519.9,394.3 M525.0,283.4 L525.0,285.2 L525.0,287.1 L524.9,288.9 L524.8,290.8 L524.7,292.6 L524.6,294.5 L524.5,296.3 L524.3,298.2 L524.2,300.0 L524.0,301.9 L523.9,303.7 L523.7,305.6 L523.6,307.4 L523.4,309.3 L523.3,311.1 L523.1,313.0 L523.0,314.8 L522.8,316.7 L522.7,318.5 L522.6,320.4 L522.5,322.2 L522.5,324.1 L522.4,325.9 L522.4,327.8 L522.4,329.6 L522.4,331.5 L522.4,333.3 L522.4,335.2 L522.4,337.0 L522.4,338.9 L522.4,340.7 L522.4,342.5 L522.4,344.4 L522.4,346.2 L522.4,348.1 L522.3,349.9 L522.2,351.8 L522.0,353.6 L521.8,355.5 L521.5,357.3 L521.2,359.2 L520.8,361.0 L520.4,362.9 L519.9,364.7 L519.4,366.6 L518.8,368.4 L518.3,370.3 L517.6,372.1 L517.0,374.0 L516.4,375.8 L515.7,377.7 L515.1,379.5 L514.5,381.4 L513.9,383.2 L513.3,385.1 L512.8,386.9 L512.3,388.8 L511.8,390.6 L511.4,392.5 L511.1,394.3 M518.8,283.4 L518.8,285.2 L518.8,287.1 L518.7,288.9 L518.6,290.8 L518.6,292.6 L518.5,294.5 L518.4,296.3 L518.2,298.2 L518.1,300.0 L518.0,301.9 L517.9,303.7 L517.7,305.6 L517.6,307.4 L517.5,309.3 L517.3,311.1 L517.2,313.0 L517.1,314.8 L517.0,316.7 L516.9,318.5 L516.8,320.4 L516.7,322.2 L516.7,324.1 L516.6,325.9 L516.6,327.8 L516.6,329.6 L516.6,331.5 L516.6,333.3 L516.6,335.2 L516.6,337.0 L516.6,338.9 L516.6,340.7 L516.6,342.5 L516.6,344.4 L516.6,346.2 L516.5,348.1 L516.5,349.9 L516.3,351.8 L516.1,353.6 L515.8,355.5 L515.5,357.3 L515.1,359.2 L514.6,361.0 L514.1,362.9 L513.5,364.7 L512.8,366.6 L512.2,368.4 L511.4,370.3 L510.7,372.1 L509.9,374.0 L509.1,375.8 L508.3,377.7 L507.5,379.5 L506.7,381.4 L506.0,383.2 L505.2,385.1 L504.6,386.9 L503.9,388.8 L503.4,390.6 L502.9,392.5 L502.5,394.3 M512.2,283.4 L512.1,284.2 L511.9,285.2 L511.8,286.3 L511.7,287.6 L511.6,288.9 L511.5,290.5 L511.4,292.1 L511.3,293.9 L511.2,295.8 L511.1,297.8 L511.0,299.9 L510.9,302.1 L510.8,304.4 L510.8,306.9 L510.7,309.4 L510.7,312.0 L510.6,314.8 L510.6,317.6 L510.6,320.4 L510.6,323.4 L510.6,325.2 L510.6,326.9 L510.6,328.7 L510.6,330.5 L510.6,332.3 L510.6,334.0 L510.6,335.8 L510.6,337.6 L510.6,339.4 L510.6,341.1 L510.6,342.9 L510.6,344.7 L510.6,346.4 L510.5,348.2 L510.4,350.0 L510.3,351.8 L510.0,353.5 L509.7,355.3 L509.3,357.1 L508.9,358.9 L508.3,360.6 L507.7,362.4 L507.1,364.2 L506.3,365.9 L505.6,367.7 L504.7,369.5 L503.9,371.3 L503.0,373.0 L502.1,374.8 L501.2,376.6 L500.2,378.3 L499.3,380.1 L498.4,381.9 L497.6,383.7 L496.7,385.4 L496.0,387.2 L495.3,389.0 L494.6,390.8 L494.1,392.5 L493.6,394.3 M512.2,283.4 L511.6,284.3 L511.0,285.4 L510.4,286.5 L509.9,287.8 L509.3,289.1 L508.8,290.6 L508.3,292.1 L507.8,293.8 L507.4,295.6 L507.0,297.5 L506.6,299.4 L506.2,301.5 L505.9,303.7 L505.6,305.9 L505.4,308.3 L505.2,310.7 L505.0,313.2 L504.9,315.9 L504.8,318.6 L504.8,321.4 L504.8,323.2 L504.8,325.0 L504.8,326.9 L504.8,328.7 L504.8,330.5 L504.8,332.3 L504.8,334.2 L504.8,336.0 L504.8,337.8 L504.8,339.6 L504.8,341.4 L504.8,343.3 L504.8,345.1 L504.8,346.9 L504.7,348.7 L504.5,350.6 L504.3,352.4 L504.0,354.2 L503.6,356.0 L503.1,357.9 L502.5,359.7 L501.8,361.5 L501.1,363.3 L500.2,365.1 L499.3,367.0 L498.4,368.8 L497.3,370.6 L496.3,372.4 L495.2,374.3 L494.1,376.1 L493.0,377.9 L492.1,379.7 L491.4,381.5 L490.9,383.4 L490.5,385.2 L490.2,387.0 L490.0,388.8 L489.9,390.7 L489.8,392.5 L489.7,394.3 M512.2,283.4 L511.1,284.2 L510.1,285.1 L509.0,286.1 L508.0,287.3 L507.1,288.5 L506.1,289.8 L505.3,291.2 L504.4,292.7 L503.6,294.3 L502.9,295.9 L502.2,297.7 L501.6,299.6 L501.0,301.5 L500.5,303.5 L500.0,305.6 L499.7,307.8 L499.4,310.1 L499.2,312.5 L499.0,314.9 L499.0,317.4 L499.0,319.3 L499.0,321.2 L499.0,323.2 L499.0,325.1 L499.0,327.0 L499.0,328.9 L499.0,330.9 L499.0,332.8 L499.0,334.7 L499.0,336.6 L499.0,338.5 L499.0,340.5 L499.0,342.4 L499.0,344.3 L499.0,346.2 L498.9,348.2 L498.8,350.1 L498.5,352.0 L498.1,353.9 L497.7,355.9 L497.1,357.8 L496.4,359.7 L495.5,361.6 L494.6,363.5 L493.6,365.5 L492.6,367.4 L491.7,369.3 L491.0,371.2 L490.5,373.2 L490.2,375.1 L489.9,377.0 L489.7,378.9 L489.6,380.8 L489.5,382.8 L489.4,384.7 L489.3,386.6 L489.3,388.5 L489.3,390.5 L489.3,392.4 L489.3,394.3 M512.2,283.4 L510.7,284.0 L509.1,284.6 L507.7,285.4 L506.2,286.3 L504.9,287.2 L503.5,288.3 L502.3,289.4 L501.1,290.7 L499.9,292.0 L498.9,293.4 L497.9,294.9 L497.0,296.5 L496.1,298.1 L495.4,299.8 L494.8,301.6 L494.3,303.4 L493.9,305.3 L493.5,307.3 L493.4,309.3 L493.3,311.4 L493.3,313.5 L493.3,315.5 L493.3,317.6 L493.3,319.7 L493.3,321.8 L493.3,323.8 L493.3,325.9 L493.3,328.0 L493.3,330.1 L493.3,332.1 L493.3,334.2 L493.3,336.3 L493.3,338.3 L493.3,340.4 L493.3,342.5 L493.3,344.6 L493.3,346.6 L493.2,348.7 L493.0,350.8 L492.6,352.9 L492.2,354.9 L491.8,357.0 L491.3,359.1 L490.9,361.1 L490.5,363.2 L490.1,365.3 L489.9,367.4 L489.7,369.4 L489.5,371.5 L489.4,373.6 L489.3,375.6 L489.3,377.7 L489.3,379.8 L489.2,381.9 L489.2,383.9 L489.2,386.0 L489.2,388.1 L489.2,390.2 L489.2,392.2 L489.2,394.3 M550.7,283.4 L550.7,285.2 L550.7,287.1 L550.7,288.9 L550.8,290.8 L550.8,292.6 L550.9,294.5 L550.9,296.3 L551.0,298.2 L551.0,300.0 L551.1,301.9 L551.1,303.7 L551.2,305.6 L551.3,307.4 L551.3,309.3 L551.4,311.1 L551.4,313.0 L551.5,314.8 L551.5,316.7 L551.6,318.5 L551.6,320.4 L551.6,322.2 L551.7,324.1 L551.7,325.9 L551.7,327.8 L551.7,329.6 L551.7,331.5 L551.7,333.3 L551.7,335.2 L551.7,337.0 L551.7,338.9 L551.7,340.7 L551.7,342.5 L551.7,344.4 L551.7,346.2 L551.7,348.1 L551.7,349.9 L551.8,351.8 L551.8,353.6 L551.9,355.5 L551.9,357.3 L552.0,359.2 L552.1,361.0 L552.2,362.9 L552.3,364.7 L552.5,366.6 L552.6,368.4 L552.7,370.3 L552.9,372.1 L553.1,374.0 L553.2,375.8 L553.4,377.7 L553.5,379.5 L553.7,381.4 L553.8,383.2 L554.0,385.1 L554.1,386.9 L554.3,388.8 L554.4,390.6 L554.5,392.5 L554.5,394.3 M556.1,283.4 L556.1,285.2 L556.1,287.1 L556.2,288.9 L556.2,290.8 L556.3,292.6 L556.3,294.5 L556.4,296.3 L556.5,298.2 L556.5,300.0 L556.6,301.9 L556.7,303.7 L556.8,305.6 L556.9,307.4 L557.0,309.3 L557.0,311.1 L557.1,313.0 L557.2,314.8 L557.3,316.7 L557.3,318.5 L557.4,320.4 L557.4,322.2 L557.5,324.1 L557.5,325.9 L557.5,327.8 L557.5,329.6 L557.5,331.5 L557.5,333.3 L557.5,335.2 L557.5,337.0 L557.5,338.9 L557.5,340.7 L557.5,342.5 L557.5,344.4 L557.5,346.2 L557.5,348.1 L557.6,349.9 L557.6,351.8 L557.7,353.6 L557.8,355.5 L557.9,357.3 L558.1,359.2 L558.3,361.0 L558.5,362.9 L558.7,364.7 L559.0,366.6 L559.3,368.4 L559.6,370.3 L559.9,372.1 L560.2,374.0 L560.5,375.8 L560.8,377.7 L561.1,379.5 L561.5,381.4 L561.8,383.2 L562.1,385.1 L562.3,386.9 L562.6,388.8 L562.8,390.6 L563.0,392.5 L563.1,394.3 M561.1,283.4 L561.1,285.2 L561.1,287.1 L561.2,288.9 L561.3,290.8 L561.3,292.6 L561.4,294.5 L561.5,296.3 L561.7,298.2 L561.8,300.0 L561.9,301.9 L562.0,303.7 L562.2,305.6 L562.3,307.4 L562.4,309.3 L562.6,311.1 L562.7,313.0 L562.8,314.8 L562.9,316.7 L563.0,318.5 L563.1,320.4 L563.2,322.2 L563.2,324.1 L563.3,325.9 L563.3,327.8 L563.3,329.6 L563.3,331.5 L563.3,333.3 L563.3,335.2 L563.3,337.0 L563.3,338.9 L563.3,340.7 L563.3,342.5 L563.3,344.4 L563.3,346.2 L563.3,348.1 L563.4,349.9 L563.5,351.8 L563.6,353.6 L563.8,355.5 L564.0,357.3 L564.2,359.2 L564.5,361.0 L564.8,362.9 L565.2,364.7 L565.6,366.6 L566.0,368.4 L566.4,370.3 L566.9,372.1 L567.3,374.0 L567.8,375.8 L568.3,377.7 L568.8,379.5 L569.2,381.4 L569.7,383.2 L570.1,385.1 L570.5,386.9 L570.9,388.8 L571.2,390.6 L571.5,392.5 L571.7,394.3 M566.6,283.4 L566.6,285.2 L566.6,287.1 L566.7,288.9 L566.8,290.8 L566.9,292.6 L567.0,294.5 L567.1,296.3 L567.3,298.2 L567.4,300.0 L567.6,301.9 L567.7,303.7 L567.9,305.6 L568.0,307.4 L568.2,309.3 L568.3,311.1 L568.5,313.0 L568.6,314.8 L568.8,316.7 L568.9,318.5 L569.0,320.4 L569.1,322.2 L569.1,324.1 L569.2,325.9 L569.2,327.8 L569.2,329.6 L569.2,331.5 L569.2,333.3 L569.2,335.2 L569.2,337.0 L569.2,338.9 L569.2,340.7 L569.2,342.5 L569.2,344.4 L569.2,346.2 L569.2,348.1 L569.3,349.9 L569.4,351.8 L569.6,353.6 L569.8,355.5 L570.1,357.3 L570.4,359.2 L570.8,361.0 L571.2,362.9 L571.7,364.7 L572.2,366.6 L572.8,368.4 L573.3,370.3 L574.0,372.1 L574.6,374.0 L575.2,375.8 L575.9,377.7 L576.5,379.5 L577.1,381.4 L577.7,383.2 L578.3,385.1 L578.8,386.9 L579.3,388.8 L579.8,390.6 L580.2,392.5 L580.5,394.3 M572.8,283.4 L572.8,285.2 L572.8,287.1 L572.9,288.9 L573.0,290.8 L573.0,292.6 L573.1,294.5 L573.2,296.3 L573.4,298.2 L573.5,300.0 L573.6,301.9 L573.7,303.7 L573.9,305.6 L574.0,307.4 L574.1,309.3 L574.3,311.1 L574.4,313.0 L574.5,314.8 L574.6,316.7 L574.7,318.5 L574.8,320.4 L574.9,322.2 L574.9,324.1 L575.0,325.9 L575.0,327.8 L575.0,329.6 L575.0,331.5 L575.0,333.3 L575.0,335.2 L575.0,337.0 L575.0,338.9 L575.0,340.7 L575.0,342.5 L575.0,344.4 L575.0,346.2 L575.1,348.1 L575.1,349.9 L575.3,351.8 L575.5,353.6 L575.8,355.5 L576.1,357.3 L576.5,359.2 L577.0,361.0 L577.5,362.9 L578.1,364.7 L578.8,366.6 L579.4,368.4 L580.2,370.3 L580.9,372.1 L581.7,374.0 L582.5,375.8 L583.3,377.7 L584.1,379.5 L584.9,381.4 L585.6,383.2 L586.4,385.1 L587.0,386.9 L587.7,388.8 L588.2,390.6 L588.7,392.5 L589.1,394.3 M579.4,283.4 L579.5,284.2 L579.7,285.2 L579.8,286.3 L579.9,287.6 L580.0,288.9 L580.1,290.5 L580.2,292.1 L580.3,293.9 L580.4,295.8 L580.5,297.8 L580.6,299.9 L580.7,302.1 L580.8,304.4 L580.8,306.9 L580.9,309.4 L580.9,312.0 L581.0,314.8 L581.0,317.6 L581.0,320.4 L581.0,323.4 L581.0,325.2 L581.0,326.9 L581.0,328.7 L581.0,330.5 L581.0,332.3 L581.0,334.0 L581.0,335.8 L581.0,337.6 L581.0,339.4 L581.0,341.1 L581.0,342.9 L581.0,344.7 L581.0,346.4 L581.1,348.2 L581.2,350.0 L581.3,351.8 L581.6,353.5 L581.9,355.3 L582.3,357.1 L582.7,358.9 L583.3,360.6 L583.9,362.4 L584.5,364.2 L585.3,365.9 L586.0,367.7 L586.9,369.5 L587.7,371.3 L588.6,373.0 L589.5,374.8 L590.4,376.6 L591.4,378.3 L592.3,380.1 L593.2,381.9 L594.0,383.7 L594.9,385.4 L595.6,387.2 L596.3,389.0 L597.0,390.8 L597.5,392.5 L598.0,394.3 M579.4,283.4 L580.0,284.3 L580.6,285.4 L581.2,286.5 L581.7,287.8 L582.3,289.1 L582.8,290.6 L583.3,292.1 L583.8,293.8 L584.2,295.6 L584.6,297.5 L585.0,299.4 L585.4,301.5 L585.7,303.7 L586.0,305.9 L586.2,308.3 L586.4,310.7 L586.6,313.2 L586.7,315.9 L586.8,318.6 L586.8,321.4 L586.8,323.2 L586.8,325.0 L586.8,326.9 L586.8,328.7 L586.8,330.5 L586.8,332.3 L586.8,334.2 L586.8,336.0 L586.8,337.8 L586.8,339.6 L586.8,341.4 L586.8,343.3 L586.8,345.1 L586.8,346.9 L586.9,348.7 L587.1,350.6 L587.3,352.4 L587.6,354.2 L588.0,356.0 L588.5,357.9 L589.1,359.7 L589.8,361.5 L590.5,363.3 L591.4,365.1 L592.3,367.0 L593.2,368.8 L594.3,370.6 L595.3,372.4 L596.4,374.3 L597.5,376.1 L598.6,377.9 L599.5,379.7 L600.2,381.5 L600.7,383.4 L601.1,385.2 L601.4,387.0 L601.6,388.8 L601.7,390.7 L601.8,392.5 L601.9,394.3 M579.4,283.4 L580.5,284.2 L581.5,285.1 L582.6,286.1 L583.6,287.3 L584.5,288.5 L585.5,289.8 L586.3,291.2 L587.2,292.7 L588.0,294.3 L588.7,295.9 L589.4,297.7 L590.0,299.6 L590.6,301.5 L591.1,303.5 L591.6,305.6 L591.9,307.8 L592.2,310.1 L592.4,312.5 L592.6,314.9 L592.6,317.4 L592.6,319.3 L592.6,321.2 L592.6,323.2 L592.6,325.1 L592.6,327.0 L592.6,328.9 L592.6,330.9 L592.6,332.8 L592.6,334.7 L592.6,336.6 L592.6,338.5 L592.6,340.5 L592.6,342.4 L592.6,344.3 L592.6,346.2 L592.7,348.2 L592.8,350.1 L593.1,352.0 L593.5,353.9 L593.9,355.9 L594.5,357.8 L595.2,359.7 L596.1,361.6 L597.0,363.5 L598.0,365.5 L599.0,367.4 L599.9,369.3 L600.6,371.2 L601.1,373.2 L601.4,375.1 L601.7,377.0 L601.9,378.9 L602.0,380.8 L602.1,382.8 L602.2,384.7 L602.3,386.6 L602.3,388.5 L602.3,390.5 L602.3,392.4 L602.3,394.3 M579.4,283.4 L580.9,284.0 L582.5,284.6 L583.9,285.4 L585.4,286.3 L586.7,287.2 L588.1,288.3 L589.3,289.4 L590.5,290.7 L591.7,292.0 L592.7,293.4 L593.7,294.9 L594.6,296.5 L595.5,298.1 L596.2,299.8 L596.8,301.6 L597.3,303.4 L597.7,305.3 L598.1,307.3 L598.2,309.3 L598.3,311.4 L598.3,313.5 L598.3,315.5 L598.3,317.6 L598.3,319.7 L598.3,321.8 L598.3,323.8 L598.3,325.9 L598.3,328.0 L598.3,330.1 L598.3,332.1 L598.3,334.2 L598.3,336.3 L598.3,338.3 L598.3,340.4 L598.3,342.5 L598.3,344.6 L598.3,346.6 L598.4,348.7 L598.6,350.8 L599.0,352.9 L599.4,354.9 L599.8,357.0 L600.3,359.1 L600.7,361.1 L601.1,363.2 L601.5,365.3 L601.7,367.4 L601.9,369.4 L602.1,371.5 L602.2,373.6 L602.3,375.6 L602.3,377.7 L602.3,379.8 L602.4,381.9 L602.4,383.9 L602.4,386.0 L602.4,388.1 L602.4,390.2 L602.4,392.2 L602.4,394.3" fill="none" stroke="url(#sd2)" stroke-width="1.1"/>
<path d="M225.4,31.2 L223.6,31.7 L221.9,32.5 L220.2,33.3 L218.5,34.3 L216.9,35.5 L215.4,36.7 L213.9,38.1 L212.5,39.6 L211.2,41.3 L210.0,43.0 L208.9,44.9 L207.8,46.8 L206.9,48.9 L206.0,51.0 L205.3,53.2 L204.7,55.5 L204.2,57.9 L203.9,60.3 L203.7,62.8 L203.6,65.3 L203.6,104.0 L203.8,105.9 L204.4,107.7 L205.3,109.5 L206.5,111.2 L207.8,112.7 L209.2,114.0 L210.7,114.9 L212.2,115.6 L282.0,136.5 M225.4,31.2 L223.8,31.9 L222.3,32.7 L220.7,33.7 L219.3,34.8 L217.8,36.1 L216.5,37.4 L215.2,38.9 L213.9,40.4 L212.8,42.1 L211.7,43.9 L210.6,45.8 L209.7,47.8 L208.9,49.9 L208.1,52.1 L207.5,54.3 L206.9,56.7 L206.5,59.1 L206.2,61.6 L206.0,64.2 L205.9,66.8 L205.9,104.8 L206.2,106.7 L206.7,108.5 L207.6,110.3 L208.8,111.9 L210.1,113.4 L211.5,114.6 L213.0,115.6 L214.4,116.2 L282.0,136.5 M225.4,31.2 L224.0,32.0 L222.6,33.0 L221.3,34.1 L220.0,35.3 L218.8,36.6 L217.6,38.0 L216.4,39.5 L215.3,41.1 L214.3,42.9 L213.3,44.7 L212.4,46.7 L211.6,48.7 L210.9,50.9 L210.2,53.1 L209.6,55.4 L209.2,57.8 L208.8,60.3 L208.5,62.9 L208.3,65.6 L208.3,68.3 L208.3,103.0 L208.5,104.8 L209.1,106.6 L209.9,108.3 L211.1,109.9 L212.3,111.4 L213.7,112.6 L215.2,113.6 L216.6,114.2 L282.0,133.8 M225.4,31.2 L224.2,32.1 L223.0,33.2 L221.9,34.3 L220.7,35.6 L219.7,37.0 L218.6,38.5 L217.6,40.1 L216.7,41.8 L215.8,43.6 L215.0,45.5 L214.2,47.5 L213.5,49.6 L212.9,51.8 L212.3,54.1 L211.8,56.5 L211.4,58.9 L211.1,61.5 L210.8,64.2 L210.7,67.0 L210.6,69.8 L210.6,103.8 L210.8,105.6 L211.4,107.4 L212.3,109.1 L213.3,110.7 L214.6,112.1 L216.0,113.3 L217.4,114.2 L218.8,114.8 L282.0,133.8 M225.4,31.2 L224.4,32.2 L223.4,33.3 L222.4,34.5 L221.5,35.9 L220.6,37.3 L219.7,38.9 L218.9,40.5 L218.1,42.3 L217.3,44.1 L216.6,46.1 L216.0,48.2 L215.4,50.3 L214.8,52.6 L214.4,55.0 L214.0,57.5 L213.6,60.0 L213.3,62.7 L213.1,65.5 L213.0,68.3 L213.0,71.3 L213.0,102.0 L213.2,103.7 L213.7,105.4 L214.6,107.1 L215.6,108.7 L216.9,110.1 L218.2,111.3 L219.6,112.2 L221.0,112.8 L282.0,131.1 M225.4,31.2 L224.6,32.2 L223.8,33.4 L223.0,34.7 L222.2,36.0 L221.5,37.5 L220.8,39.1 L220.1,40.9 L219.5,42.7 L218.9,44.6 L218.3,46.7 L217.8,48.8 L217.3,51.1 L216.8,53.4 L216.5,55.9 L216.1,58.4 L215.8,61.1 L215.6,63.9 L215.5,66.7 L215.4,69.7 L215.3,72.8 L215.3,102.8 L215.5,104.5 L216.1,106.2 L216.9,107.9 L217.9,109.4 L219.2,110.8 L220.5,112.0 L221.9,112.9 L223.2,113.4 L282.0,131.1 M225.4,31.2 L224.8,32.2 L224.2,33.4 L223.5,34.7 L223.0,36.1 L222.4,37.6 L221.9,39.3 L221.3,41.1 L220.8,43.0 L220.4,45.0 L219.9,47.1 L219.5,49.3 L219.2,51.7 L218.8,54.1 L218.5,56.7 L218.3,59.4 L218.1,62.2 L217.9,65.0 L217.8,68.0 L217.7,71.1 L217.7,74.3 L217.7,101.0 L217.9,102.6 L218.4,104.3 L219.2,105.9 L220.2,107.4 L221.4,108.8 L222.7,109.9 L224.1,110.8 L225.4,111.4 L282.0,128.3 M225.4,31.2 L225.0,32.2 L224.5,33.3 L224.1,34.6 L223.7,36.0 L223.3,37.6 L222.9,39.3 L222.6,41.1 L222.2,43.1 L221.9,45.2 L221.6,47.4 L221.3,49.7 L221.1,52.2 L220.8,54.8 L220.6,57.5 L220.4,60.3 L220.3,63.2 L220.2,66.2 L220.1,69.3 L220.0,72.5 L220.0,75.8 L220.0,101.8 L220.2,103.5 L220.7,105.1 L221.5,106.7 L222.5,108.2 L223.7,109.5 L225.0,110.6 L226.3,111.5 L227.6,112.0 L282.0,128.3 M225.4,31.2 L225.2,32.0 L224.9,33.0 L224.7,34.2 L224.4,35.6 L224.2,37.2 L224.0,38.9 L223.8,40.8 L223.6,42.9 L223.4,45.1 L223.3,47.4 L223.1,49.9 L223.0,52.5 L222.8,55.2 L222.7,58.1 L222.6,61.0 L222.5,64.1 L222.5,67.3 L222.4,70.5 L222.4,73.8 L222.4,77.3 L222.4,99.9 L222.5,101.6 L223.1,103.2 L223.8,104.7 L224.8,106.2 L226.0,107.5 L227.2,108.6 L228.5,109.4 L229.8,110.0 L282.0,125.6 M225.4,31.2 L225.3,31.6 L225.3,32.3 L225.2,33.3 L225.2,34.5 L225.1,36.0 L225.1,37.8 L225.0,39.7 L225.0,41.9 L225.0,44.2 L224.9,46.7 L224.9,49.4 L224.8,52.3 L224.8,55.2 L224.8,58.3 L224.8,61.5 L224.7,64.9 L224.7,68.2 L224.7,71.7 L224.7,75.2 L224.7,78.8 L224.7,100.8 L224.9,102.4 L225.4,104.0 L226.2,105.5 L227.1,106.9 L228.3,108.2 L229.5,109.3 L230.8,110.1 L232.0,110.6 L282.0,125.6 M227.1,31.2 L227.1,98.9 L227.2,100.5 L227.7,102.0 L228.5,103.5 L229.4,104.9 L230.5,106.2 L231.7,107.2 L233.0,108.1 L234.2,108.6 L282.0,122.9 M229.4,31.2 L229.4,99.8 L229.6,101.3 L230.1,102.8 L230.8,104.3 L231.7,105.7 L232.8,106.9 L234.0,107.9 L235.2,108.7 L236.4,109.2 L282.0,122.9 M231.7,31.2 L231.7,97.9 L231.9,99.4 L232.4,100.9 L233.1,102.3 L234.0,103.7 L235.1,104.9 L236.2,105.9 L237.4,106.7 L238.6,107.2 L282.0,120.2 M234.1,31.2 L234.1,98.8 L234.3,100.2 L234.7,101.7 L235.4,103.1 L236.3,104.4 L237.4,105.6 L238.5,106.6 L239.7,107.3 L240.8,107.8 L282.0,120.2 M236.4,31.2 L236.4,96.9 L236.6,98.4 L237.0,99.8 L237.7,101.2 L238.6,102.4 L239.6,103.6 L240.7,104.5 L241.9,105.3 L243.0,105.8 L282.0,117.5 M238.8,31.2 L238.8,97.8 L238.9,99.2 L239.4,100.6 L240.1,101.9 L240.9,103.2 L241.9,104.3 L243.0,105.2 L244.1,106.0 L245.2,106.4 L282.0,117.5 M241.1,31.2 L241.1,95.9 L241.3,97.3 L241.7,98.6 L242.4,100.0 L243.2,101.2 L244.2,102.3 L245.2,103.2 L246.3,103.9 L247.4,104.4 L282.0,114.8 M243.5,31.2 L243.5,96.8 L243.6,98.1 L244.0,99.4 L244.7,100.7 L245.5,101.9 L246.5,103.0 L247.5,103.9 L248.6,104.6 L249.6,105.0 L282.0,114.8 M245.8,31.2 L245.8,94.9 L246.0,96.2 L246.4,97.5 L247.0,98.8 L247.8,99.9 L248.7,101.0 L249.7,101.9 L250.8,102.5 L251.8,103.0 L282.0,112.0 M248.2,31.2 L248.2,95.8 L248.3,97.0 L248.7,98.3 L249.3,99.5 L250.1,100.7 L251.0,101.7 L252.0,102.5 L253.0,103.2 L254.0,103.6 L282.0,112.0 M250.5,31.2 L250.5,93.9 L250.6,95.1 L251.0,96.4 L251.6,97.6 L252.4,98.7 L253.3,99.7 L254.2,100.5 L255.2,101.2 L256.2,101.6 L282.0,109.3 M252.9,31.2 L252.9,94.8 L253.0,96.0 L253.4,97.2 L254.0,98.3 L254.7,99.4 L255.6,100.4 L256.5,101.2 L257.5,101.8 L258.4,102.2 L282.0,109.3 M255.2,31.2 L255.2,92.9 L255.3,94.1 L255.7,95.2 L256.3,96.4 L257.0,97.4 L257.8,98.4 L258.7,99.2 L259.7,99.8 L260.6,100.2 L282.0,106.6 M257.5,31.2 L257.5,93.7 L257.7,94.9 L258.0,96.0 L258.6,97.1 L259.3,98.2 L260.1,99.1 L261.0,99.9 L261.9,100.5 L262.8,100.8 L282.0,106.6 M259.9,31.2 L259.9,91.9 L260.0,93.0 L260.4,94.1 L260.9,95.2 L261.6,96.2 L262.4,97.1 L263.3,97.8 L264.1,98.4 L265.0,98.8 L282.0,103.9 M262.2,31.2 L262.2,92.7 L262.4,93.8 L262.7,94.9 L263.2,95.9 L263.9,96.9 L264.7,97.8 L265.5,98.5 L266.4,99.1 L267.2,99.4 L282.0,103.9 M264.6,31.2 L264.6,90.9 L264.7,91.9 L265.0,93.0 L265.5,94.0 L266.2,94.9 L266.9,95.8 L267.8,96.5 L268.6,97.0 L269.4,97.4 L282.0,101.2 M266.9,31.2 L266.9,91.7 L267.0,92.7 L267.4,93.8 L267.9,94.7 L268.5,95.7 L269.2,96.5 L270.0,97.2 L270.8,97.7 L271.6,98.0 L282.0,101.2 M269.3,31.2 L269.3,89.9 L269.4,90.9 L269.7,91.8 L270.2,92.8 L270.8,93.7 L271.5,94.5 L272.3,95.1 L273.0,95.7 L273.8,96.0 L282.0,98.4 M271.6,31.2 L271.6,90.7 L271.7,91.7 L272.0,92.6 L272.5,93.5 L273.1,94.4 L273.8,95.2 L274.5,95.8 L275.3,96.3 L276.0,96.6 L282.0,98.4 M274.0,31.2 L274.0,88.9 L274.1,89.8 L274.4,90.7 L274.8,91.6 L275.4,92.4 L276.0,93.2 L276.8,93.8 L277.5,94.3 L278.2,94.6 L282.0,95.7 M276.3,31.2 L276.3,89.7 L276.4,90.6 L276.7,91.5 L277.1,92.4 L277.7,93.2 L278.3,93.9 L279.0,94.5 L279.7,94.9 L280.4,95.2 L282.0,95.7 M278.7,31.2 L278.7,87.8 L278.8,88.7 L279.0,89.6 L279.4,90.4 L280.0,91.2 L280.6,91.9 L281.3,92.4 L281.9,92.9 L282.6,93.2 L282.0,93.0 M281.0,31.2 L281.0,88.7 L281.1,89.5 L281.4,90.4 L281.8,91.2 L282.3,91.9 L282.9,92.6 L283.5,93.1 L284.2,93.6 L284.8,93.8 L282.0,93.0 M293.2,31.2 L295.1,31.7 L296.9,32.5 L298.7,33.3 L300.4,34.3 L302.1,35.4 L303.7,36.7 L305.2,38.1 L306.6,39.6 L308.0,41.3 L309.3,43.0 L310.5,44.8 L311.6,46.8 L312.6,48.8 L313.4,50.9 L314.2,53.2 L314.8,55.4 L315.3,57.8 L315.7,60.2 L315.9,62.7 L316.0,65.2 L316.0,102.0 L315.8,103.7 L315.4,105.6 L314.7,107.4 L313.9,109.2 L312.9,111.0 L311.8,112.5 L310.7,113.8 L309.6,114.8 L282.0,135.5 M293.2,31.2 L294.9,31.9 L296.5,32.6 L298.1,33.6 L299.6,34.6 L301.1,35.8 L302.5,37.2 L303.9,38.6 L305.2,40.2 L306.4,41.8 L307.5,43.6 L308.6,45.5 L309.6,47.5 L310.4,49.5 L311.2,51.7 L311.9,53.9 L312.5,56.3 L312.9,58.7 L313.2,61.1 L313.4,63.7 L313.5,66.3 L313.5,104.2 L313.3,105.8 L312.9,107.6 L312.3,109.4 L311.5,111.1 L310.5,112.8 L309.5,114.3 L308.4,115.5 L307.3,116.5 L282.0,135.5 M293.2,31.2 L294.7,32.0 L296.1,32.9 L297.5,34.0 L298.8,35.1 L300.1,36.4 L301.4,37.8 L302.6,39.3 L303.7,40.9 L304.8,42.7 L305.8,44.5 L306.7,46.4 L307.6,48.5 L308.3,50.6 L309.0,52.8 L309.6,55.1 L310.1,57.5 L310.5,60.0 L310.8,62.5 L310.9,65.2 L311.0,67.9 L311.0,99.3 L310.9,100.9 L310.5,102.6 L309.8,104.3 L309.0,106.0 L308.1,107.6 L307.1,109.0 L306.1,110.2 L305.1,111.1 L282.0,128.4 M293.2,31.2 L294.5,32.1 L295.7,33.1 L296.9,34.3 L298.0,35.5 L299.1,36.9 L300.2,38.4 L301.2,39.9 L302.2,41.6 L303.1,43.4 L304.0,45.3 L304.8,47.3 L305.5,49.4 L306.2,51.6 L306.8,53.8 L307.3,56.2 L307.7,58.7 L308.1,61.2 L308.3,63.9 L308.4,66.6 L308.5,69.5 L308.5,101.5 L308.4,103.0 L308.0,104.6 L307.4,106.3 L306.6,107.9 L305.7,109.4 L304.8,110.8 L303.8,111.9 L302.8,112.8 L282.0,128.4 M293.2,31.2 L294.2,32.2 L295.3,33.3 L296.3,34.5 L297.2,35.8 L298.2,37.3 L299.1,38.8 L299.9,40.4 L300.7,42.2 L301.5,44.0 L302.2,46.0 L302.9,48.1 L303.5,50.2 L304.1,52.5 L304.6,54.8 L305.0,57.3 L305.3,59.9 L305.6,62.5 L305.8,65.3 L306.0,68.1 L306.0,71.1 L306.0,96.6 L305.9,98.0 L305.5,99.6 L304.9,101.1 L304.2,102.7 L303.4,104.1 L302.5,105.5 L301.5,106.6 L300.6,107.4 L282.0,121.3 M293.2,31.2 L294.0,32.2 L294.9,33.4 L295.7,34.7 L296.4,36.0 L297.2,37.5 L297.9,39.1 L298.6,40.8 L299.3,42.6 L299.9,44.6 L300.5,46.6 L301.0,48.7 L301.5,51.0 L302.0,53.3 L302.3,55.8 L302.7,58.3 L303.0,61.0 L303.2,63.8 L303.4,66.6 L303.5,69.6 L303.5,72.6 L303.5,98.7 L303.4,100.1 L303.0,101.6 L302.5,103.1 L301.8,104.6 L301.0,106.0 L300.1,107.2 L299.2,108.3 L298.3,109.1 L282.0,121.3 M293.2,31.2 L293.8,32.2 L294.5,33.4 L295.1,34.7 L295.7,36.1 L296.2,37.6 L296.8,39.3 L297.3,41.1 L297.8,43.0 L298.3,45.0 L298.7,47.1 L299.1,49.3 L299.5,51.7 L299.8,54.1 L300.1,56.7 L300.4,59.3 L300.6,62.1 L300.8,65.0 L300.9,68.0 L301.0,71.1 L301.0,74.2 L301.0,93.8 L300.9,95.2 L300.5,96.6 L300.0,98.0 L299.4,99.4 L298.6,100.7 L297.8,101.9 L296.9,102.9 L296.1,103.7 L282.0,114.2 M293.2,31.2 L293.6,32.2 L294.1,33.3 L294.5,34.6 L294.9,36.0 L295.3,37.6 L295.6,39.3 L296.0,41.1 L296.3,43.1 L296.6,45.2 L296.9,47.4 L297.2,49.7 L297.5,52.2 L297.7,54.8 L297.9,57.5 L298.1,60.3 L298.2,63.2 L298.3,66.2 L298.4,69.3 L298.5,72.5 L298.5,75.8 L298.5,96.0 L298.4,97.3 L298.1,98.6 L297.6,100.0 L297.0,101.3 L296.2,102.6 L295.4,103.7 L294.6,104.7 L293.8,105.4 L282.0,114.2 M293.2,31.2 L293.4,32.0 L293.7,33.0 L293.9,34.2 L294.1,35.6 L294.3,37.1 L294.5,38.9 L294.7,40.8 L294.9,42.8 L295.0,45.0 L295.2,47.4 L295.3,49.9 L295.5,52.5 L295.6,55.3 L295.7,58.1 L295.8,61.1 L295.9,64.2 L295.9,67.4 L296.0,70.6 L296.0,74.0 L296.0,77.4 L296.0,91.1 L295.9,92.3 L295.6,93.6 L295.1,94.9 L294.5,96.1 L293.8,97.3 L293.1,98.4 L292.3,99.3 L291.6,100.0 L282.0,107.2 M293.2,31.2 L293.2,31.5 L293.2,32.1 L293.3,33.0 L293.3,34.2 L293.3,35.7 L293.3,37.4 L293.4,39.3 L293.4,41.5 L293.4,43.9 L293.4,46.5 L293.4,49.2 L293.4,52.1 L293.5,55.1 L293.5,58.3 L293.5,61.6 L293.5,64.9 L293.5,68.4 L293.5,71.9 L293.5,75.4 L293.5,79.0 L293.5,93.3 L293.4,94.4 L293.1,95.6 L292.7,96.9 L292.1,98.0 L291.5,99.2 L290.8,100.2 L290.0,101.0 L289.3,101.7 L282.0,107.2 M291.0,31.2 L291.0,88.4 L290.9,89.5 L290.6,90.6 L290.2,91.7 L289.7,92.9 L289.1,93.9 L288.4,94.9 L287.7,95.7 L287.1,96.3 L282.0,100.1 M288.5,31.2 L288.5,90.6 L288.4,91.6 L288.2,92.6 L287.8,93.7 L287.3,94.8 L286.7,95.8 L286.1,96.7 L285.4,97.4 L284.8,98.0 L282.0,100.1 M286.0,31.2 L286.0,85.7 L285.9,86.6 L285.7,87.6 L285.3,88.6 L284.9,89.6 L284.3,90.5 L283.7,91.4 L283.1,92.1 L282.6,92.6 L282.0,93.0 M283.5,31.2 L283.5,87.9 L283.4,88.7 L283.2,89.7 L282.9,90.6 L282.4,91.5 L281.9,92.4 L281.4,93.1 L280.9,93.8 L280.3,94.3 L282.0,93.0" fill="none" stroke="url(#sb1)" stroke-width="0.65"/>
<path d="M203.5,137.3 L282.3,137.3 L282.3,133 L316,133" fill="none" stroke="#888" stroke-width="0.7"/>
<path d="M225.4,31.4 L209,31.4 Q203.3,31.4 203.3,37 L203.3,131 Q203.3,137.3 209,137.3 M293.2,31.4 L310.5,31.4 Q316.5,31.4 316.5,37 L316.5,128 Q316.5,133 311,133" fill="none" stroke="#666" stroke-width="0.7"/>
<path d="M225.4,31.9 L210,32.2 Q204.6,32.4 204.6,38 L204.6,130 Q204.6,135.8 210,135.8 L282,136 M293.2,31.9 L309.5,32.2 Q315.3,32.4 315.3,38 L315.3,127 Q315.3,131.8 310,131.8 L283,132" fill="none" stroke="#999" stroke-width="0.6"/>
<path d="M282.3,133 L282.3,142" fill="none" stroke="#666" stroke-width="0.8"/>
<path d="M281.0,190.0 L280.6,190.5 L280.2,190.9 L279.7,191.3 L279.2,191.7 L278.7,192.0 L278.3,192.4 L277.8,192.7 L277.3,193.1 L276.8,193.4 L276.3,193.7 L275.8,194.0 L275.3,194.4 L274.9,194.7 L274.4,195.1 L274.0,195.4 L273.6,195.8 L273.3,196.2 L273.0,196.7 L272.7,197.1 L272.4,197.6 L272.3,198.1 L272.1,198.7 L272.0,199.3 L272.0,200.0 L272.0,200.3 L272.1,200.5 L272.2,200.8 L272.4,201.0 L272.6,201.3 L272.8,201.5 L273.1,201.7 L273.4,202.0 L273.8,202.2 L274.2,202.4 L274.6,202.6 L275.1,202.8 L275.6,203.0 L276.1,203.2 L276.7,203.4 L277.3,203.5 L277.9,203.7 L278.6,203.9 L279.3,204.1 L280.0,204.3 L280.8,204.4 L281.6,204.6 L282.4,204.8 L283.2,205.0" fill="none" stroke="#bebebe" stroke-width="0.55"/><path d="M281.0,186.9 L280.4,187.5 L279.8,188.1 L279.2,188.7 L278.5,189.2 L277.8,189.7 L277.1,190.2 L276.5,190.7 L275.8,191.2 L275.1,191.7 L274.4,192.2 L273.8,192.7 L273.1,193.2 L272.5,193.8 L271.9,194.3 L271.4,194.9 L270.9,195.5 L270.4,196.2 L270.0,196.9 L269.6,197.6 L269.3,198.4 L269.1,199.2 L268.9,200.1 L268.8,201.0 L268.7,202.0 L268.7,202.2 L268.8,202.4 L269.0,202.5 L269.2,202.7 L269.5,202.8 L269.8,202.9 L270.2,203.1 L270.6,203.2 L271.1,203.3 L271.6,203.5 L272.2,203.6 L272.8,203.7 L273.4,203.8 L274.1,203.9 L274.9,204.0 L275.7,204.1 L276.5,204.3 L277.4,204.4 L278.3,204.5 L279.2,204.6 L280.1,204.7 L281.1,204.8 L282.2,204.9 L283.2,205.0" fill="none" stroke="#bdbdbd" stroke-width="0.55"/><path d="M281.0,184.3 L280.2,185.0 L279.5,185.7 L278.7,186.4 L277.8,187.1 L277.0,187.7 L276.2,188.3 L275.3,189.0 L274.5,189.6 L273.6,190.2 L272.8,190.9 L272.0,191.6 L271.2,192.2 L270.5,193.0 L269.8,193.7 L269.1,194.5 L268.5,195.3 L267.9,196.1 L267.4,197.1 L267.0,198.0 L266.6,199.0 L266.3,200.1 L266.1,201.3 L265.9,202.5 L265.9,203.8 L265.9,204.1 L266.0,204.4 L266.2,204.8 L266.5,205.1 L266.8,205.4 L267.2,205.6 L267.6,205.9 L268.2,206.2 L268.7,206.4 L269.4,206.7 L270.1,207.0 L270.8,207.2 L271.6,207.4 L272.5,207.7 L273.4,207.9 L274.3,208.1 L275.3,208.3 L276.3,208.6 L277.4,208.8 L278.5,209.0 L279.6,209.2 L280.8,209.4 L282.0,209.6 L283.2,209.8" fill="none" stroke="#bdbdbd" stroke-width="0.55"/><path d="M281.0,181.9 L280.1,182.7 L279.1,183.5 L278.2,184.3 L277.2,185.0 L276.2,185.8 L275.2,186.6 L274.2,187.3 L273.2,188.1 L272.2,188.8 L271.2,189.6 L270.3,190.5 L269.4,191.3 L268.5,192.2 L267.7,193.1 L266.9,194.1 L266.2,195.1 L265.5,196.1 L264.9,197.2 L264.4,198.4 L264.0,199.7 L263.6,201.0 L263.4,202.4 L263.2,203.9 L263.2,205.5 L263.2,205.7 L263.4,205.9 L263.6,206.2 L263.9,206.4 L264.3,206.6 L264.7,206.8 L265.3,207.0 L265.9,207.2 L266.5,207.4 L267.3,207.6 L268.1,207.8 L269.0,207.9 L269.9,208.1 L270.9,208.3 L271.9,208.4 L273.0,208.6 L274.2,208.8 L275.3,208.9 L276.6,209.1 L277.8,209.2 L279.1,209.4 L280.4,209.5 L281.8,209.7 L283.2,209.8" fill="none" stroke="#bdbdbd" stroke-width="0.55"/><path d="M281.0,179.6 L279.9,180.5 L278.8,181.4 L277.7,182.2 L276.5,183.1 L275.4,184.0 L274.2,184.8 L273.1,185.7 L271.9,186.6 L270.8,187.5 L269.7,188.4 L268.6,189.4 L267.6,190.4 L266.6,191.4 L265.7,192.5 L264.8,193.7 L264.0,194.8 L263.2,196.1 L262.6,197.4 L262.0,198.8 L261.5,200.3 L261.1,201.8 L260.8,203.5 L260.6,205.2 L260.6,207.1 L260.6,207.4 L260.8,207.8 L261.0,208.2 L261.4,208.5 L261.8,208.9 L262.4,209.2 L263.0,209.5 L263.7,209.8 L264.4,210.2 L265.3,210.5 L266.2,210.7 L267.2,211.0 L268.3,211.3 L269.4,211.6 L270.6,211.8 L271.8,212.1 L273.1,212.3 L274.4,212.6 L275.8,212.8 L277.2,213.1 L278.7,213.3 L280.1,213.5 L281.7,213.8 L283.2,214.0" fill="none" stroke="#bdbdbd" stroke-width="0.55"/><path d="M281.0,177.4 L279.8,178.3 L278.5,179.3 L277.2,180.3 L275.9,181.2 L274.6,182.2 L273.2,183.2 L271.9,184.1 L270.7,185.2 L269.4,186.2 L268.2,187.3 L267.0,188.4 L265.8,189.5 L264.7,190.7 L263.7,192.0 L262.7,193.3 L261.8,194.6 L261.0,196.1 L260.2,197.6 L259.6,199.2 L259.0,200.9 L258.6,202.7 L258.3,204.6 L258.1,206.5 L258.0,208.6 L258.1,208.9 L258.3,209.2 L258.5,209.5 L258.9,209.8 L259.4,210.0 L260.1,210.3 L260.7,210.6 L261.5,210.8 L262.4,211.0 L263.4,211.3 L264.4,211.5 L265.5,211.7 L266.7,211.9 L268.0,212.1 L269.3,212.3 L270.6,212.5 L272.1,212.7 L273.5,212.9 L275.1,213.1 L276.6,213.3 L278.2,213.5 L279.9,213.7 L281.5,213.8 L283.2,214.0" fill="none" stroke="#bdbdbd" stroke-width="0.55"/><path d="M281.0,175.2 L279.6,176.3 L278.1,177.3 L276.7,178.4 L275.2,179.4 L273.7,180.5 L272.3,181.5 L270.8,182.6 L269.4,183.8 L268.0,184.9 L266.6,186.1 L265.3,187.4 L264.1,188.6 L262.8,190.0 L261.7,191.4 L260.6,192.9 L259.6,194.4 L258.7,196.1 L257.9,197.8 L257.2,199.6 L256.6,201.5 L256.2,203.5 L255.8,205.6 L255.6,207.8 L255.5,210.2 L255.6,210.6 L255.8,211.0 L256.1,211.4 L256.6,211.8 L257.1,212.2 L257.8,212.6 L258.6,213.0 L259.5,213.3 L260.4,213.7 L261.5,214.0 L262.7,214.4 L263.9,214.7 L265.2,215.0 L266.6,215.3 L268.0,215.6 L269.5,215.9 L271.1,216.2 L272.7,216.4 L274.4,216.7 L276.1,217.0 L277.8,217.2 L279.6,217.5 L281.4,217.7 L283.2,218.0" fill="none" stroke="#bdbdbd" stroke-width="0.55"/><path d="M281.0,173.2 L279.4,174.3 L277.8,175.4 L276.2,176.5 L274.6,177.6 L272.9,178.8 L271.3,179.9 L269.7,181.1 L268.2,182.4 L266.6,183.7 L265.1,185.0 L263.7,186.4 L262.3,187.8 L261.0,189.3 L259.8,190.9 L258.6,192.5 L257.5,194.3 L256.5,196.1 L255.7,198.0 L254.9,200.0 L254.3,202.1 L253.8,204.3 L253.4,206.7 L253.2,209.1 L253.1,211.7 L253.2,212.0 L253.4,212.4 L253.7,212.7 L254.2,213.0 L254.9,213.3 L255.6,213.7 L256.5,214.0 L257.4,214.2 L258.5,214.5 L259.7,214.8 L261.0,215.1 L262.3,215.3 L263.7,215.6 L265.3,215.8 L266.8,216.1 L268.5,216.3 L270.2,216.5 L271.9,216.8 L273.7,217.0 L275.6,217.2 L277.4,217.4 L279.3,217.6 L281.3,217.8 L283.2,218.0" fill="none" stroke="#bdbdbd" stroke-width="0.55"/><path d="M281.0,171.3 L279.2,172.4 L277.5,173.6 L275.7,174.7 L273.9,175.9 L272.1,177.1 L270.4,178.4 L268.6,179.7 L266.9,181.0 L265.2,182.4 L263.6,183.9 L262.1,185.4 L260.6,187.0 L259.2,188.6 L257.8,190.4 L256.6,192.2 L255.4,194.1 L254.4,196.1 L253.4,198.2 L252.6,200.4 L251.9,202.7 L251.4,205.1 L251.0,207.7 L250.7,210.4 L250.7,213.2 L250.7,213.7 L251.0,214.1 L251.4,214.6 L251.9,215.0 L252.6,215.5 L253.4,215.9 L254.4,216.3 L255.4,216.7 L256.6,217.1 L257.9,217.5 L259.3,217.9 L260.8,218.2 L262.3,218.6 L264.0,218.9 L265.7,219.2 L267.4,219.6 L269.3,219.9 L271.2,220.2 L273.1,220.5 L275.1,220.8 L277.1,221.0 L279.1,221.3 L281.1,221.5 L283.2,221.8" fill="none" stroke="#bdbdbd" stroke-width="0.55"/><path d="M281.0,169.4 L279.1,170.6 L277.1,171.8 L275.2,173.0 L273.2,174.3 L271.3,175.6 L269.4,176.9 L267.5,178.3 L265.7,179.7 L263.9,181.2 L262.1,182.8 L260.5,184.5 L258.9,186.2 L257.3,188.0 L255.9,189.9 L254.6,191.8 L253.3,193.9 L252.2,196.1 L251.2,198.4 L250.4,200.8 L249.6,203.3 L249.1,205.9 L248.6,208.7 L248.4,211.6 L248.3,214.7 L248.4,215.0 L248.6,215.4 L249.1,215.8 L249.7,216.2 L250.4,216.6 L251.3,216.9 L252.3,217.3 L253.5,217.6 L254.8,217.9 L256.2,218.2 L257.7,218.6 L259.3,218.9 L260.9,219.1 L262.7,219.4 L264.5,219.7 L266.5,220.0 L268.4,220.2 L270.4,220.5 L272.5,220.7 L274.6,221.0 L276.7,221.2 L278.9,221.4 L281.0,221.6 L283.2,221.8" fill="none" stroke="#bdbdbd" stroke-width="0.55"/><path d="M281.0,167.6 L278.9,168.8 L276.8,170.0 L274.7,171.3 L272.6,172.6 L270.5,174.0 L268.4,175.4 L266.4,176.9 L264.4,178.5 L262.5,180.1 L260.7,181.8 L258.9,183.6 L257.2,185.4 L255.5,187.4 L254.0,189.4 L252.6,191.5 L251.3,193.8 L250.1,196.1 L249.0,198.6 L248.1,201.2 L247.3,203.9 L246.7,206.8 L246.3,209.7 L246.0,212.8 L245.9,216.1 L246.0,216.6 L246.3,217.1 L246.8,217.7 L247.4,218.1 L248.2,218.6 L249.2,219.1 L250.3,219.6 L251.6,220.0 L252.9,220.4 L254.4,220.9 L256.1,221.3 L257.8,221.7 L259.6,222.1 L261.5,222.5 L263.5,222.8 L265.5,223.2 L267.6,223.5 L269.7,223.8 L271.9,224.2 L274.2,224.5 L276.4,224.7 L278.7,225.0 L280.9,225.3 L283.2,225.5" fill="none" stroke="#bdbdbd" stroke-width="0.55"/><path d="M281.0,165.9 L278.7,167.1 L276.4,168.4 L274.2,169.7 L271.9,171.1 L269.7,172.5 L267.5,174.0 L265.3,175.6 L263.2,177.2 L261.2,179.0 L259.2,180.8 L257.3,182.7 L255.5,184.7 L253.7,186.8 L252.1,189.0 L250.6,191.3 L249.2,193.7 L248.0,196.2 L246.9,198.8 L245.9,201.6 L245.1,204.5 L244.4,207.6 L244.0,210.8 L243.7,214.1 L243.6,217.6 L243.7,218.0 L244.0,218.4 L244.5,218.9 L245.2,219.3 L246.1,219.7 L247.1,220.1 L248.3,220.5 L249.7,220.9 L251.2,221.2 L252.8,221.6 L254.5,222.0 L256.3,222.3 L258.3,222.6 L260.3,223.0 L262.4,223.3 L264.6,223.6 L266.8,223.8 L269.1,224.1 L271.4,224.4 L273.7,224.6 L276.1,224.9 L278.5,225.1 L280.8,225.3 L283.2,225.5" fill="none" stroke="#bcbcbc" stroke-width="0.55"/><path d="M281.0,164.3 L278.5,165.5 L276.1,166.8 L273.7,168.2 L271.2,169.6 L268.9,171.1 L266.5,172.7 L264.2,174.3 L262.0,176.1 L259.8,177.9 L257.7,179.8 L255.7,181.9 L253.8,184.0 L252.0,186.2 L250.3,188.6 L248.7,191.0 L247.2,193.6 L245.9,196.3 L244.7,199.1 L243.7,202.1 L242.8,205.2 L242.2,208.4 L241.7,211.8 L241.4,215.3 L241.3,219.0 L241.4,219.6 L241.7,220.1 L242.3,220.7 L243.0,221.2 L244.0,221.7 L245.1,222.3 L246.4,222.8 L247.8,223.3 L249.4,223.7 L251.1,224.2 L253.0,224.7 L254.9,225.1 L257.0,225.5 L259.1,225.9 L261.4,226.3 L263.7,226.7 L266.0,227.1 L268.4,227.4 L270.9,227.8 L273.3,228.1 L275.8,228.4 L278.3,228.7 L280.8,228.9 L283.2,229.2" fill="none" stroke="#bbbbbb" stroke-width="0.55"/><path d="M281.0,162.8 L278.4,164.1 L275.8,165.4 L273.2,166.8 L270.6,168.2 L268.0,169.8 L265.6,171.4 L263.1,173.2 L260.8,175.0 L258.5,176.9 L256.2,179.0 L254.1,181.1 L252.1,183.3 L250.2,185.7 L248.4,188.2 L246.7,190.8 L245.2,193.5 L243.8,196.4 L242.6,199.4 L241.5,202.5 L240.6,205.8 L239.9,209.2 L239.4,212.8 L239.1,216.5 L239.0,220.4 L239.1,220.9 L239.5,221.4 L240.0,221.9 L240.9,222.3 L241.9,222.8 L243.1,223.2 L244.4,223.7 L246.0,224.1 L247.7,224.5 L249.5,224.9 L251.5,225.3 L253.6,225.7 L255.7,226.1 L258.0,226.4 L260.4,226.8 L262.8,227.1 L265.3,227.4 L267.8,227.7 L270.4,228.0 L272.9,228.3 L275.5,228.5 L278.1,228.8 L280.7,229.0 L283.2,229.2" fill="none" stroke="#bababa" stroke-width="0.55"/><path d="M281.0,161.5 L278.2,162.8 L275.4,164.1 L272.7,165.5 L269.9,167.0 L267.2,168.6 L264.6,170.3 L262.0,172.1 L259.5,174.0 L257.1,176.0 L254.8,178.2 L252.6,180.4 L250.4,182.8 L248.4,185.3 L246.5,187.9 L244.8,190.7 L243.2,193.6 L241.7,196.6 L240.5,199.7 L239.3,203.0 L238.4,206.5 L237.7,210.1 L237.1,213.8 L236.8,217.7 L236.7,221.8 L236.8,222.4 L237.2,223.0 L237.8,223.6 L238.7,224.2 L239.8,224.8 L241.1,225.4 L242.5,225.9 L244.2,226.5 L246.0,227.0 L247.9,227.5 L250.0,228.0 L252.2,228.5 L254.5,228.9 L256.9,229.4 L259.4,229.8 L262.0,230.2 L264.6,230.6 L267.2,231.0 L269.9,231.3 L272.6,231.7 L275.3,232.0 L277.9,232.3 L280.6,232.5 L283.2,232.8" fill="none" stroke="#b9b9b9" stroke-width="0.55"/><path d="M280.8,160.6 L277.8,161.8 L274.9,163.1 L271.9,164.6 L269.1,166.1 L266.3,167.7 L263.5,169.5 L260.8,171.3 L258.2,173.3 L255.7,175.4 L253.2,177.7 L250.9,180.0 L248.7,182.5 L246.6,185.1 L244.6,187.8 L242.8,190.7 L241.2,193.7 L239.7,196.9 L238.3,200.2 L237.2,203.7 L236.2,207.3 L235.4,211.0 L234.9,214.9 L234.5,219.0 L234.4,223.2 L234.6,223.7 L235.0,224.3 L235.7,224.8 L236.6,225.3 L237.7,225.8 L239.1,226.3 L240.6,226.8 L242.4,227.3 L244.3,227.8 L246.3,228.2 L248.5,228.6 L250.9,229.1 L253.3,229.5 L255.8,229.9 L258.5,230.2 L261.1,230.6 L263.9,230.9 L266.6,231.2 L269.4,231.6 L272.2,231.8 L275.0,232.1 L277.8,232.3 L280.5,232.6 L283.2,232.8" fill="none" stroke="#b8b8b8" stroke-width="0.55"/><path d="M277.4,160.6 L274.5,161.7 L271.6,163.0 L268.8,164.4 L266.0,165.9 L263.2,167.5 L260.5,169.2 L257.9,171.1 L255.3,173.1 L252.8,175.3 L250.5,177.6 L248.2,180.0 L246.0,182.6 L244.0,185.3 L242.1,188.1 L240.3,191.1 L238.7,194.2 L237.3,197.5 L236.0,200.9 L234.8,204.5 L233.9,208.2 L233.2,212.1 L232.6,216.1 L232.3,220.3 L232.2,224.6 L232.3,225.3 L232.8,225.9 L233.5,226.6 L234.5,227.2 L235.7,227.8 L237.1,228.5 L238.8,229.1 L240.6,229.6 L242.6,230.2 L244.8,230.8 L247.1,231.3 L249.6,231.8 L252.1,232.3 L254.8,232.8 L257.5,233.3 L260.4,233.7 L263.2,234.1 L266.1,234.5 L269.0,234.9 L271.9,235.2 L274.8,235.5 L277.6,235.8 L280.5,236.1 L283.2,236.3" fill="none" stroke="#b6b6b6" stroke-width="0.55"/><path d="M274.2,160.6 L271.3,161.6 L268.4,162.8 L265.6,164.2 L262.9,165.6 L260.2,167.3 L257.5,169.0 L254.9,170.9 L252.4,173.0 L250.0,175.2 L247.7,177.5 L245.5,180.0 L243.4,182.7 L241.4,185.5 L239.6,188.4 L237.8,191.5 L236.3,194.7 L234.9,198.1 L233.6,201.6 L232.5,205.3 L231.6,209.2 L230.9,213.1 L230.4,217.3 L230.1,221.5 L230.0,226.0 L230.1,226.6 L230.6,227.2 L231.3,227.7 L232.4,228.3 L233.6,228.9 L235.2,229.4 L236.9,229.9 L238.9,230.5 L241.0,231.0 L243.3,231.5 L245.7,231.9 L248.3,232.4 L251.0,232.8 L253.8,233.3 L256.7,233.7 L259.6,234.0 L262.6,234.4 L265.6,234.8 L268.6,235.1 L271.6,235.4 L274.6,235.6 L277.5,235.9 L280.4,236.1 L283.2,236.3" fill="none" stroke="#b3b3b3" stroke-width="0.55"/><path d="M270.9,160.6 L268.1,161.6 L265.3,162.7 L262.5,164.0 L259.8,165.4 L257.1,167.0 L254.5,168.8 L252.0,170.8 L249.6,172.8 L247.2,175.1 L245.0,177.5 L242.8,180.1 L240.8,182.8 L238.8,185.7 L237.0,188.7 L235.4,191.9 L233.9,195.2 L232.5,198.7 L231.3,202.4 L230.2,206.1 L229.3,210.1 L228.7,214.2 L228.1,218.4 L227.8,222.8 L227.7,227.3 L227.9,228.1 L228.4,228.8 L229.2,229.5 L230.3,230.2 L231.6,230.9 L233.2,231.5 L235.1,232.2 L237.1,232.8 L239.4,233.4 L241.8,234.0 L244.3,234.6 L247.0,235.2 L249.9,235.7 L252.8,236.2 L255.8,236.7 L258.8,237.1 L261.9,237.6 L265.1,238.0 L268.2,238.4 L271.3,238.7 L274.4,239.0 L277.4,239.3 L280.3,239.6 L283.2,239.8" fill="none" stroke="#b0b0b0" stroke-width="0.55"/><path d="M267.7,160.6 L264.9,161.5 L262.1,162.6 L259.4,163.8 L256.7,165.2 L254.1,166.8 L251.6,168.6 L249.1,170.6 L246.7,172.7 L244.5,175.0 L242.3,177.5 L240.2,180.1 L238.2,182.9 L236.3,185.9 L234.5,189.0 L232.9,192.3 L231.5,195.7 L230.1,199.3 L228.9,203.0 L227.9,206.9 L227.1,211.0 L226.4,215.2 L225.9,219.6 L225.6,224.1 L225.5,228.7 L225.7,229.4 L226.2,230.0 L227.1,230.7 L228.2,231.3 L229.6,231.9 L231.3,232.5 L233.3,233.1 L235.4,233.6 L237.8,234.2 L240.3,234.7 L243.0,235.2 L245.8,235.7 L248.8,236.2 L251.8,236.7 L254.9,237.1 L258.1,237.5 L261.3,237.9 L264.6,238.2 L267.8,238.6 L271.0,238.9 L274.2,239.2 L277.3,239.4 L280.3,239.6 L283.2,239.8" fill="none" stroke="#acacac" stroke-width="0.55"/><path d="M264.4,160.6 L261.7,161.4 L259.0,162.4 L256.3,163.7 L253.7,165.1 L251.1,166.7 L248.7,168.4 L246.2,170.4 L243.9,172.6 L241.7,174.9 L239.5,177.4 L237.5,180.1 L235.6,183.0 L233.7,186.0 L232.1,189.2 L230.5,192.6 L229.1,196.1 L227.8,199.8 L226.6,203.7 L225.7,207.7 L224.8,211.9 L224.2,216.2 L223.7,220.7 L223.4,225.3 L223.3,230.1 L223.5,230.9 L224.1,231.7 L225.0,232.4 L226.2,233.2 L227.7,233.9 L229.4,234.6 L231.5,235.3 L233.7,236.0 L236.2,236.7 L238.8,237.3 L241.7,237.9 L244.6,238.5 L247.7,239.1 L250.9,239.6 L254.1,240.1 L257.4,240.6 L260.8,241.0 L264.1,241.5 L267.5,241.9 L270.8,242.2 L274.0,242.5 L277.2,242.8 L280.2,243.1 L283.2,243.3" fill="none" stroke="#a8a8a8" stroke-width="0.55"/><path d="M261.2,160.6 L258.5,161.4 L255.8,162.3 L253.2,163.5 L250.6,164.9 L248.1,166.5 L245.7,168.3 L243.4,170.2 L241.1,172.4 L238.9,174.8 L236.8,177.4 L234.8,180.1 L233.0,183.0 L231.2,186.1 L229.6,189.4 L228.0,192.9 L226.7,196.5 L225.4,200.3 L224.3,204.3 L223.4,208.4 L222.6,212.7 L222.0,217.2 L221.5,221.8 L221.2,226.5 L221.1,231.4 L221.3,232.2 L221.9,232.9 L222.9,233.6 L224.1,234.3 L225.7,234.9 L227.6,235.6 L229.7,236.2 L232.1,236.8 L234.6,237.4 L237.4,238.0 L240.3,238.6 L243.4,239.1 L246.6,239.6 L249.9,240.1 L253.3,240.5 L256.8,240.9 L260.2,241.3 L263.7,241.7 L267.1,242.1 L270.5,242.4 L273.8,242.6 L277.1,242.9 L280.2,243.1 L283.2,243.3" fill="none" stroke="#a3a3a3" stroke-width="0.55"/><path d="M258.0,160.6 L255.3,161.3 L252.7,162.2 L250.1,163.4 L247.6,164.7 L245.1,166.3 L242.7,168.1 L240.4,170.1 L238.2,172.2 L236.1,174.6 L234.1,177.2 L232.1,180.0 L230.3,183.0 L228.6,186.2 L227.0,189.5 L225.6,193.1 L224.3,196.8 L223.1,200.7 L222.0,204.8 L221.1,209.0 L220.3,213.4 L219.8,218.0 L219.3,222.8 L219.1,227.7 L219.0,232.8 L219.2,233.6 L219.8,234.5 L220.8,235.4 L222.1,236.2 L223.7,237.0 L225.7,237.8 L227.9,238.5 L230.4,239.3 L233.1,240.0 L236.0,240.6 L239.1,241.3 L242.3,241.9 L245.6,242.5 L249.0,243.0 L252.5,243.6 L256.1,244.1 L259.7,244.5 L263.2,244.9 L266.8,245.3 L270.3,245.7 L273.7,246.0 L277.0,246.3 L280.2,246.5 L283.2,246.7" fill="none" stroke="#9c9c9c" stroke-width="0.55"/><path d="M254.8,160.6 L252.1,161.2 L249.5,162.1 L247.0,163.2 L244.5,164.5 L242.0,166.1 L239.7,167.8 L237.5,169.8 L235.3,172.0 L233.2,174.4 L231.3,177.0 L229.4,179.9 L227.7,182.9 L226.0,186.1 L224.5,189.5 L223.1,193.1 L221.8,196.9 L220.7,200.9 L219.7,205.1 L218.8,209.5 L218.1,214.1 L217.5,218.8 L217.1,223.7 L216.9,228.8 L216.8,234.1 L217.0,234.9 L217.7,235.7 L218.7,236.5 L220.1,237.3 L221.8,238.0 L223.9,238.7 L226.2,239.4 L228.8,240.1 L231.6,240.7 L234.6,241.3 L237.8,241.9 L241.1,242.5 L244.6,243.0 L248.2,243.5 L251.8,244.0 L255.5,244.4 L259.2,244.8 L262.8,245.2 L266.5,245.5 L270.1,245.8 L273.6,246.1 L276.9,246.3 L280.1,246.6 L283.2,246.7" fill="none" stroke="#959595" stroke-width="0.55"/><path d="M251.7,160.6 L249.0,161.2 L246.3,162.0 L243.8,163.1 L241.3,164.4 L238.9,165.9 L236.6,167.6 L234.4,169.5 L232.3,171.7 L230.3,174.1 L228.4,176.7 L226.6,179.5 L224.9,182.6 L223.4,185.8 L221.9,189.3 L220.6,193.0 L219.4,196.9 L218.3,201.0 L217.3,205.3 L216.5,209.8 L215.9,214.5 L215.3,219.4 L215.0,224.6 L214.7,229.9 L214.6,235.4 L214.9,236.4 L215.5,237.4 L216.6,238.4 L218.1,239.3 L219.9,240.1 L222.0,241.0 L224.4,241.8 L227.1,242.6 L230.1,243.3 L233.2,244.0 L236.5,244.7 L240.0,245.4 L243.6,246.0 L247.3,246.5 L251.1,247.1 L254.9,247.6 L258.7,248.0 L262.5,248.4 L266.2,248.8 L269.9,249.1 L273.4,249.5 L276.9,249.7 L280.1,249.9 L283.2,250.1" fill="none" stroke="#8c8c8c" stroke-width="0.55"/><path d="M248.5,160.6 L245.7,161.2 L243.1,161.9 L240.5,162.9 L238.1,164.1 L235.7,165.6 L233.4,167.2 L231.3,169.1 L229.2,171.2 L227.3,173.6 L225.4,176.2 L223.7,179.0 L222.1,182.0 L220.6,185.3 L219.2,188.8 L218.0,192.5 L216.9,196.5 L215.9,200.7 L215.0,205.1 L214.2,209.8 L213.6,214.7 L213.1,219.8 L212.8,225.2 L212.6,230.9 L212.5,236.7 L212.7,237.7 L213.4,238.6 L214.6,239.5 L216.1,240.4 L218.0,241.2 L220.2,242.0 L222.7,242.7 L225.5,243.4 L228.6,244.1 L231.8,244.8 L235.3,245.4 L238.9,246.0 L242.6,246.5 L246.5,247.0 L250.3,247.5 L254.3,247.9 L258.2,248.3 L262.1,248.7 L265.9,249.0 L269.7,249.3 L273.3,249.6 L276.8,249.8 L280.1,250.0 L283.2,250.1" fill="none" stroke="#838383" stroke-width="0.55"/><path d="M245.4,160.6 L242.5,161.1 L239.8,161.8 L237.2,162.7 L234.7,163.9 L232.3,165.2 L230.1,166.8 L227.9,168.5 L225.9,170.6 L224.0,172.8 L222.3,175.3 L220.6,178.0 L219.1,181.0 L217.7,184.3 L216.4,187.8 L215.3,191.5 L214.3,195.5 L213.3,199.8 L212.6,204.4 L211.9,209.3 L211.3,214.5 L210.9,219.9 L210.6,225.7 L210.4,231.7 L210.4,238.1 L210.6,239.2 L211.3,240.3 L212.5,241.4 L214.1,242.4 L216.1,243.4 L218.4,244.3 L221.0,245.2 L223.9,246.0 L227.1,246.8 L230.5,247.6 L234.1,248.3 L237.8,248.9 L241.7,249.5 L245.6,250.1 L249.7,250.6 L253.7,251.1 L257.7,251.5 L261.7,251.9 L265.7,252.3 L269.5,252.6 L273.2,252.9 L276.7,253.1 L280.1,253.3 L283.2,253.5" fill="none" stroke="#777777" stroke-width="0.55"/><path d="M242.2,160.6 L239.2,161.1 L236.4,161.7 L233.7,162.5 L231.1,163.5 L228.7,164.7 L226.5,166.1 L224.4,167.7 L222.4,169.5 L220.6,171.6 L218.9,174.0 L217.4,176.6 L215.9,179.5 L214.7,182.6 L213.5,186.1 L212.5,189.8 L211.5,193.9 L210.7,198.3 L210.1,203.1 L209.5,208.2 L209.0,213.7 L208.7,219.5 L208.4,225.7 L208.3,232.4 L208.2,239.4 L208.5,240.5 L209.3,241.6 L210.5,242.6 L212.1,243.6 L214.2,244.5 L216.6,245.4 L219.3,246.2 L222.4,246.9 L225.7,247.7 L229.2,248.3 L232.9,249.0 L236.8,249.6 L240.8,250.1 L244.8,250.6 L249.0,251.1 L253.1,251.5 L257.3,251.9 L261.4,252.2 L265.4,252.5 L269.4,252.8 L273.1,253.0 L276.7,253.2 L280.1,253.4 L283.2,253.5" fill="none" stroke="#6a6a6a" stroke-width="0.55"/><path d="M239.1,160.6 L235.8,161.0 L232.8,161.6 L229.9,162.2 L227.3,163.0 L224.8,164.0 L222.6,165.1 L220.5,166.5 L218.6,168.1 L216.8,169.9 L215.2,172.0 L213.8,174.4 L212.5,177.1 L211.3,180.1 L210.3,183.4 L209.4,187.2 L208.7,191.3 L208.0,195.8 L207.5,200.8 L207.0,206.2 L206.7,212.1 L206.4,218.4 L206.2,225.3 L206.1,232.7 L206.1,240.7 L206.4,242.1 L207.2,243.4 L208.4,244.6 L210.2,245.7 L212.3,246.8 L214.8,247.8 L217.7,248.8 L220.8,249.7 L224.2,250.5 L227.9,251.3 L231.7,252.0 L235.7,252.6 L239.8,253.2 L244.1,253.8 L248.3,254.3 L252.6,254.7 L256.9,255.1 L261.1,255.5 L265.2,255.8 L269.2,256.1 L273.0,256.3 L276.7,256.5 L280.1,256.7 L283.2,256.8" fill="none" stroke="#5b5b5b" stroke-width="0.55"/><path d="M236.0,160.6 L232.4,161.0 L229.0,161.4 L225.9,161.8 L223.1,162.4 L220.6,163.0 L218.2,163.8 L216.1,164.8 L214.3,165.9 L212.6,167.4 L211.1,169.1 L209.8,171.1 L208.7,173.5 L207.7,176.3 L206.9,179.5 L206.2,183.1 L205.6,187.2 L205.1,191.9 L204.7,197.1 L204.5,202.9 L204.3,209.3 L204.1,216.4 L204.1,224.2 L204.0,232.7 L204.0,242.0 L204.3,243.5 L205.1,244.9 L206.4,246.2 L208.2,247.5 L210.4,248.6 L213.0,249.7 L216.0,250.7 L219.3,251.6 L222.8,252.4 L226.6,253.2 L230.6,253.9 L234.7,254.6 L239.0,255.2 L243.3,255.7 L247.7,256.2 L252.1,256.6 L256.5,257.0 L260.8,257.3 L265.0,257.6 L269.1,257.9 L273.0,258.1 L276.7,258.2 L280.1,258.4 L283.2,258.5" fill="none" stroke="#4b4b4b" stroke-width="0.55"/><path d="M281.5,190.0 L282.0,190.5 L282.5,191.1 L283.0,191.6 L283.6,192.1 L284.1,192.6 L284.7,193.0 L285.3,193.5 L285.9,194.0 L286.5,194.5 L287.0,195.0 L287.6,195.5 L288.1,196.1 L288.7,196.6 L289.2,197.2 L289.7,197.8 L290.1,198.4 L290.5,199.1 L290.9,199.8 L291.2,200.5 L291.5,201.3 L291.7,202.2 L291.9,203.1 L292.0,204.0 L292.0,205.0 L292.0,205.9 L291.9,206.8 L291.8,207.7 L291.7,208.6 L291.6,209.4 L291.4,210.2 L291.1,210.9 L290.9,211.7 L290.6,212.4 L290.3,213.1 L290.0,213.8 L289.6,214.5 L289.2,215.1 L288.8,215.8 L288.3,216.4 L287.8,217.0 L287.3,217.6 L286.8,218.3 L286.3,218.9 L285.7,219.5 L285.1,220.1 L284.5,220.7 L283.9,221.4 L283.2,222.0" fill="none" stroke="#bebebe" stroke-width="0.55"/><path d="M281.5,182.8 L282.2,183.4 L282.9,184.0 L283.6,184.7 L284.3,185.4 L285.0,186.2 L285.8,186.9 L286.5,187.7 L287.3,188.6 L288.0,189.5 L288.7,190.4 L289.4,191.3 L290.1,192.4 L290.7,193.4 L291.4,194.5 L291.9,195.7 L292.5,196.9 L293.0,198.2 L293.4,199.5 L293.8,200.9 L294.1,202.4 L294.4,204.0 L294.6,205.6 L294.7,207.3 L294.7,209.0 L294.7,209.8 L294.6,210.5 L294.5,211.1 L294.3,211.8 L294.1,212.4 L293.8,213.0 L293.5,213.6 L293.2,214.2 L292.8,214.8 L292.4,215.3 L291.9,215.9 L291.4,216.4 L290.9,216.9 L290.3,217.4 L289.7,217.9 L289.1,218.4 L288.4,218.8 L287.8,219.3 L287.0,219.8 L286.3,220.2 L285.6,220.7 L284.8,221.1 L284.0,221.6 L283.2,222.0" fill="none" stroke="#bdbdbd" stroke-width="0.55"/><path d="M281.5,176.8 L282.4,177.5 L283.2,178.2 L284.1,179.0 L285.0,179.9 L285.9,180.8 L286.8,181.8 L287.7,182.9 L288.5,184.0 L289.4,185.2 L290.2,186.5 L291.0,187.9 L291.8,189.3 L292.6,190.8 L293.3,192.3 L293.9,194.0 L294.5,195.7 L295.1,197.5 L295.6,199.4 L296.0,201.4 L296.4,203.4 L296.7,205.6 L296.9,207.8 L297.0,210.1 L297.1,212.5 L297.1,213.5 L297.0,214.4 L296.8,215.3 L296.6,216.2 L296.3,217.1 L296.0,217.9 L295.6,218.7 L295.1,219.5 L294.7,220.3 L294.1,221.0 L293.5,221.8 L292.9,222.5 L292.3,223.2 L291.6,223.8 L290.9,224.5 L290.1,225.1 L289.3,225.8 L288.5,226.4 L287.7,227.0 L286.8,227.6 L285.9,228.1 L285.0,228.7 L284.1,229.2 L283.2,229.8" fill="none" stroke="#bdbdbd" stroke-width="0.55"/><path d="M281.5,171.4 L282.5,172.2 L283.6,173.0 L284.6,173.9 L285.7,174.9 L286.7,176.0 L287.8,177.2 L288.8,178.5 L289.8,179.9 L290.8,181.4 L291.7,183.0 L292.6,184.7 L293.5,186.5 L294.3,188.4 L295.1,190.4 L295.9,192.5 L296.5,194.7 L297.1,197.0 L297.7,199.4 L298.2,201.9 L298.6,204.5 L298.9,207.2 L299.1,210.0 L299.3,212.9 L299.3,215.9 L299.3,216.6 L299.2,217.4 L299.0,218.1 L298.7,218.9 L298.4,219.6 L298.0,220.2 L297.5,220.9 L297.0,221.6 L296.4,222.2 L295.7,222.8 L295.1,223.4 L294.3,224.0 L293.6,224.6 L292.7,225.1 L291.9,225.7 L291.0,226.2 L290.1,226.7 L289.2,227.2 L288.2,227.6 L287.2,228.1 L286.2,228.5 L285.2,229.0 L284.2,229.4 L283.2,229.8" fill="none" stroke="#bdbdbd" stroke-width="0.55"/><path d="M281.5,166.7 L282.7,167.4 L283.9,168.3 L285.1,169.2 L286.3,170.4 L287.5,171.6 L288.7,173.0 L289.9,174.5 L291.0,176.2 L292.1,178.0 L293.1,179.9 L294.1,181.9 L295.1,184.0 L296.0,186.3 L296.9,188.7 L297.7,191.2 L298.5,193.8 L299.1,196.6 L299.7,199.5 L300.2,202.5 L300.7,205.6 L301.0,208.8 L301.3,212.1 L301.4,215.5 L301.5,219.1 L301.4,220.1 L301.3,221.0 L301.1,221.9 L300.7,222.9 L300.3,223.8 L299.9,224.6 L299.3,225.5 L298.7,226.3 L298.0,227.1 L297.3,227.9 L296.5,228.7 L295.6,229.4 L294.7,230.1 L293.8,230.8 L292.8,231.5 L291.8,232.2 L290.8,232.8 L289.8,233.4 L288.7,234.0 L287.6,234.5 L286.5,235.1 L285.4,235.6 L284.3,236.0 L283.2,236.5" fill="none" stroke="#bcbcbc" stroke-width="0.55"/><path d="M281.5,162.6 L282.9,163.3 L284.3,164.2 L285.6,165.2 L287.0,166.5 L288.3,167.8 L289.6,169.4 L290.9,171.1 L292.2,173.0 L293.4,175.0 L294.5,177.2 L295.6,179.5 L296.7,182.0 L297.7,184.6 L298.7,187.3 L299.5,190.2 L300.3,193.3 L301.1,196.5 L301.7,199.8 L302.3,203.2 L302.7,206.8 L303.1,210.4 L303.4,214.2 L303.6,218.2 L303.6,222.2 L303.6,223.0 L303.4,223.8 L303.1,224.6 L302.7,225.3 L302.3,226.1 L301.7,226.8 L301.1,227.5 L300.4,228.2 L299.6,228.9 L298.7,229.6 L297.8,230.2 L296.9,230.8 L295.9,231.4 L294.8,232.0 L293.7,232.6 L292.6,233.1 L291.4,233.6 L290.3,234.1 L289.1,234.6 L287.9,235.0 L286.7,235.4 L285.5,235.8 L284.4,236.2 L283.2,236.5" fill="none" stroke="#bababa" stroke-width="0.55"/><path d="M282.5,160.6 L283.9,161.3 L285.4,162.1 L286.9,163.2 L288.3,164.5 L289.8,165.9 L291.1,167.6 L292.5,169.4 L293.8,171.4 L295.1,173.6 L296.3,176.0 L297.5,178.5 L298.6,181.2 L299.6,184.1 L300.6,187.2 L301.5,190.3 L302.3,193.7 L303.1,197.2 L303.7,200.8 L304.3,204.5 L304.8,208.4 L305.2,212.5 L305.4,216.6 L305.6,220.9 L305.7,225.3 L305.6,226.3 L305.4,227.3 L305.1,228.3 L304.7,229.2 L304.1,230.2 L303.5,231.1 L302.8,232.0 L302.0,232.8 L301.1,233.7 L300.1,234.5 L299.1,235.3 L298.0,236.1 L296.9,236.8 L295.7,237.6 L294.5,238.2 L293.3,238.9 L292.0,239.5 L290.8,240.1 L289.5,240.7 L288.2,241.2 L286.9,241.7 L285.7,242.1 L284.4,242.5 L283.2,242.9" fill="none" stroke="#b6b6b6" stroke-width="0.55"/><path d="M285.2,160.6 L286.7,161.2 L288.2,162.0 L289.6,163.0 L291.0,164.2 L292.4,165.7 L293.8,167.4 L295.1,169.3 L296.4,171.4 L297.6,173.7 L298.8,176.2 L299.9,178.9 L300.9,181.7 L301.9,184.8 L302.9,188.0 L303.7,191.4 L304.5,194.9 L305.2,198.6 L305.9,202.4 L306.4,206.4 L306.9,210.5 L307.2,214.8 L307.5,219.2 L307.7,223.7 L307.7,228.3 L307.6,229.2 L307.4,230.0 L307.1,230.8 L306.6,231.7 L306.0,232.5 L305.3,233.2 L304.4,234.0 L303.5,234.7 L302.5,235.4 L301.5,236.1 L300.3,236.8 L299.1,237.5 L297.9,238.1 L296.6,238.7 L295.3,239.2 L293.9,239.8 L292.5,240.3 L291.2,240.7 L289.8,241.2 L288.4,241.6 L287.1,242.0 L285.7,242.3 L284.5,242.6 L283.2,242.9" fill="none" stroke="#aeaeae" stroke-width="0.55"/><path d="M288.0,160.6 L289.4,161.1 L290.9,161.8 L292.3,162.8 L293.7,164.0 L295.1,165.5 L296.4,167.2 L297.7,169.2 L298.9,171.3 L300.1,173.7 L301.2,176.3 L302.3,179.1 L303.3,182.1 L304.3,185.3 L305.2,188.6 L306.0,192.2 L306.7,195.9 L307.4,199.8 L308.0,203.8 L308.5,208.1 L308.9,212.4 L309.3,216.9 L309.5,221.6 L309.7,226.4 L309.7,231.3 L309.6,232.4 L309.4,233.5 L309.0,234.5 L308.4,235.6 L307.8,236.6 L307.0,237.5 L306.1,238.5 L305.1,239.4 L303.9,240.3 L302.8,241.2 L301.5,242.0 L300.2,242.8 L298.8,243.5 L297.4,244.2 L296.0,244.9 L294.5,245.5 L293.0,246.1 L291.5,246.7 L290.1,247.2 L288.6,247.6 L287.2,248.1 L285.8,248.4 L284.5,248.8 L283.2,249.0" fill="none" stroke="#a2a2a2" stroke-width="0.55"/><path d="M290.7,160.6 L292.2,161.0 L293.7,161.7 L295.1,162.6 L296.5,163.8 L297.9,165.2 L299.2,166.9 L300.4,168.8 L301.6,170.9 L302.7,173.3 L303.8,175.9 L304.9,178.7 L305.8,181.8 L306.7,185.1 L307.5,188.5 L308.3,192.2 L309.0,196.1 L309.6,200.2 L310.1,204.5 L310.6,209.0 L311.0,213.7 L311.3,218.6 L311.5,223.6 L311.7,228.8 L311.7,234.2 L311.6,235.2 L311.3,236.2 L310.9,237.1 L310.3,238.1 L309.5,238.9 L308.6,239.8 L307.6,240.6 L306.5,241.4 L305.3,242.1 L304.0,242.9 L302.6,243.5 L301.2,244.2 L299.7,244.8 L298.2,245.4 L296.6,245.9 L295.0,246.4 L293.4,246.9 L291.9,247.3 L290.3,247.7 L288.8,248.0 L287.3,248.3 L285.9,248.6 L284.5,248.8 L283.2,249.0" fill="none" stroke="#8f8f8f" stroke-width="0.55"/><path d="M293.4,160.6 L295.1,160.9 L296.7,161.5 L298.2,162.3 L299.7,163.2 L301.1,164.5 L302.4,165.9 L303.6,167.6 L304.8,169.5 L305.9,171.7 L306.9,174.1 L307.9,176.8 L308.7,179.7 L309.5,182.9 L310.3,186.4 L310.9,190.1 L311.5,194.1 L312.0,198.5 L312.4,203.1 L312.8,208.0 L313.1,213.2 L313.4,218.7 L313.5,224.5 L313.6,230.7 L313.7,237.1 L313.6,238.5 L313.2,239.8 L312.8,241.1 L312.1,242.3 L311.3,243.4 L310.3,244.5 L309.2,245.5 L308.0,246.5 L306.6,247.4 L305.2,248.3 L303.7,249.1 L302.1,249.8 L300.5,250.5 L298.9,251.2 L297.2,251.8 L295.5,252.3 L293.8,252.8 L292.1,253.3 L290.5,253.7 L288.9,254.1 L287.3,254.4 L285.9,254.6 L284.5,254.9 L283.2,255.0" fill="none" stroke="#737373" stroke-width="0.55"/><path d="M296.0,160.6 L298.2,160.8 L300.3,161.1 L302.2,161.5 L303.9,161.9 L305.5,162.5 L306.9,163.2 L308.2,164.1 L309.3,165.3 L310.3,166.7 L311.2,168.4 L312.0,170.4 L312.7,172.7 L313.3,175.5 L313.9,178.6 L314.3,182.2 L314.6,186.3 L314.9,190.9 L315.1,196.0 L315.3,201.8 L315.4,208.1 L315.5,215.0 L315.6,222.6 L315.6,230.9 L315.6,240.0 L315.5,241.6 L315.1,243.2 L314.6,244.6 L313.9,246.0 L313.0,247.2 L311.9,248.4 L310.7,249.5 L309.4,250.5 L307.9,251.4 L306.4,252.2 L304.7,253.0 L303.0,253.7 L301.3,254.4 L299.5,254.9 L297.7,255.5 L295.9,255.9 L294.1,256.3 L292.4,256.7 L290.6,257.0 L289.0,257.3 L287.4,257.5 L285.9,257.7 L284.5,257.9 L283.2,258.0" fill="none" stroke="#4b4b4b" stroke-width="0.55"/>
<rect x="203.2" y="161" width="11" height="96" fill="url(#wbl)"/>
<rect x="305" y="161" width="11.5" height="94" fill="url(#wbr)"/>
<rect x="203.2" y="160.8" width="113" height="4" fill="url(#wbt)"/>
<rect x="203.2" y="287" width="11" height="74" fill="url(#wbl)"/>
<rect x="305" y="287" width="11.5" height="74" fill="url(#wbr)"/>
<rect x="203.2" y="286.8" width="40" height="4" fill="url(#wbt)"/><rect x="287" y="286.8" width="29" height="4" fill="url(#wbt)"/>
<path d="M202.8,268 L202.8,160.4 L316.6,160.4 L316.6,256" fill="none" stroke="#2a2a2a" stroke-width="1.3"/>
<path d="M204.6,258 L204.6,166 Q204.6,162 209,162 L312,162 Q314.2,162 314.2,166 L314.2,254 M206.3,256 L206.3,168 Q206.3,163.6 211,163.6 L310,163.6 Q312.4,163.6 312.4,168 L312.4,252" fill="none" stroke="#666" stroke-width="0.8"/>
<path d="M204,267.2 L283,267.2" fill="none" stroke="#444" stroke-width="0.9"/>
<path d="M205,264.6 C240,264.2 260,264.8 283,264.5 M284,265.3 L311,265.3 Q315.5,265.3 315.5,261 M284,263 L310,262.8" fill="none" stroke="#999" stroke-width="0.6"/>
<g fill="#222"><ellipse cx="283.2" cy="233" rx="0.9" ry="1.5"/><ellipse cx="283.2" cy="240" rx="1.0" ry="2"/><ellipse cx="283.2" cy="247" rx="1.2" ry="2.5"/><ellipse cx="283.2" cy="253" rx="1.2" ry="2.2"/><ellipse cx="283.2" cy="258" rx="1.0" ry="2"/><ellipse cx="283.2" cy="263" rx="0.9" ry="1.6"/><ellipse cx="283.2" cy="205" rx="0.5" ry="1"/><ellipse cx="283.2" cy="214" rx="0.6" ry="1.2"/><ellipse cx="283.2" cy="222" rx="0.6" ry="1.2"/></g>
<path d="M283.2,200 L283.2,268" stroke="#999" stroke-width="0.6"/>
<path d="M281.0,312.0 L280.6,312.4 L280.2,312.9 L279.7,313.2 L279.2,313.5 L278.7,313.8 L278.3,314.1 L277.8,314.3 L277.3,314.5 L276.8,314.7 L276.3,314.9 L275.8,315.0 L275.3,315.2 L274.9,315.3 L274.4,315.5 L274.0,315.7 L273.6,315.8 L273.3,316.0 L273.0,316.2 L272.7,316.4 L272.4,316.7 L272.3,317.0 L272.1,317.3 L272.0,317.6 L272.0,318.0 L272.0,318.0 L272.1,318.0 L272.2,318.0 L272.4,318.0 L272.6,318.0 L272.8,318.0 L273.1,318.0 L273.4,318.0 L273.8,318.0 L274.2,318.0 L274.6,318.0 L275.1,318.0 L275.6,318.0 L276.1,318.0 L276.7,318.0 L277.3,318.0 L277.9,318.0 L278.6,318.0 L279.3,318.0 L280.0,318.0 L280.8,318.0 L281.6,318.0 L282.4,318.0 L283.2,318.0" fill="none" stroke="#bebebe" stroke-width="0.55"/><path d="M281.0,309.2 L280.4,309.8 L279.8,310.4 L279.1,310.9 L278.4,311.3 L277.8,311.8 L277.1,312.2 L276.4,312.5 L275.7,312.9 L275.0,313.2 L274.3,313.6 L273.6,313.9 L273.0,314.2 L272.4,314.5 L271.8,314.9 L271.2,315.2 L270.7,315.6 L270.2,316.0 L269.8,316.4 L269.4,316.9 L269.1,317.4 L268.8,317.9 L268.7,318.5 L268.5,319.2 L268.5,319.9 L268.5,319.8 L268.6,319.7 L268.8,319.6 L269.0,319.5 L269.3,319.4 L269.6,319.3 L270.0,319.2 L270.4,319.1 L270.9,319.0 L271.4,319.0 L272.0,318.9 L272.6,318.8 L273.3,318.7 L274.0,318.7 L274.8,318.6 L275.6,318.5 L276.4,318.5 L277.3,318.4 L278.2,318.3 L279.1,318.3 L280.1,318.2 L281.1,318.1 L282.1,318.1 L283.2,318.0" fill="none" stroke="#bdbdbd" stroke-width="0.55"/><path d="M281.0,306.8 L280.2,307.5 L279.4,308.2 L278.6,308.8 L277.7,309.4 L276.9,310.0 L276.0,310.5 L275.1,311.0 L274.3,311.5 L273.4,312.0 L272.6,312.4 L271.7,312.9 L271.0,313.4 L270.2,313.8 L269.5,314.3 L268.8,314.9 L268.1,315.4 L267.6,316.0 L267.0,316.6 L266.6,317.3 L266.2,318.0 L265.9,318.8 L265.7,319.6 L265.5,320.5 L265.5,321.5 L265.5,321.5 L265.6,321.6 L265.8,321.7 L266.1,321.7 L266.4,321.8 L266.8,321.8 L267.3,321.9 L267.8,321.9 L268.4,322.0 L269.1,322.0 L269.8,322.1 L270.5,322.1 L271.4,322.2 L272.2,322.2 L273.1,322.3 L274.1,322.3 L275.1,322.4 L276.2,322.4 L277.2,322.5 L278.4,322.5 L279.5,322.5 L280.7,322.6 L281.9,322.6 L283.2,322.7" fill="none" stroke="#bdbdbd" stroke-width="0.55"/><path d="M281.0,304.6 L280.0,305.4 L279.1,306.2 L278.1,306.9 L277.0,307.6 L276.0,308.3 L275.0,308.9 L273.9,309.5 L272.9,310.1 L271.9,310.7 L270.9,311.3 L269.9,311.9 L269.0,312.6 L268.1,313.2 L267.2,313.8 L266.4,314.5 L265.7,315.2 L265.0,316.0 L264.4,316.8 L263.9,317.7 L263.4,318.6 L263.1,319.6 L262.8,320.6 L262.6,321.8 L262.6,323.0 L262.6,323.0 L262.8,322.9 L263.0,322.9 L263.3,322.9 L263.7,322.9 L264.2,322.9 L264.7,322.9 L265.4,322.9 L266.1,322.8 L266.8,322.8 L267.7,322.8 L268.6,322.8 L269.5,322.8 L270.6,322.8 L271.6,322.8 L272.7,322.7 L273.9,322.7 L275.1,322.7 L276.4,322.7 L277.7,322.7 L279.0,322.7 L280.4,322.7 L281.8,322.7 L283.2,322.7" fill="none" stroke="#bdbdbd" stroke-width="0.55"/><path d="M281.0,302.5 L279.9,303.4 L278.7,304.3 L277.5,305.1 L276.3,305.9 L275.1,306.6 L273.9,307.4 L272.7,308.1 L271.5,308.8 L270.4,309.6 L269.2,310.3 L268.1,311.0 L267.1,311.8 L266.0,312.5 L265.1,313.3 L264.2,314.2 L263.3,315.1 L262.5,316.0 L261.9,317.0 L261.3,318.0 L260.8,319.2 L260.4,320.4 L260.1,321.6 L259.9,323.0 L259.8,324.5 L259.9,324.6 L260.0,324.7 L260.3,324.8 L260.7,324.9 L261.1,325.0 L261.7,325.2 L262.3,325.3 L263.0,325.4 L263.8,325.5 L264.7,325.6 L265.7,325.6 L266.7,325.7 L267.8,325.8 L269.0,325.9 L270.2,326.0 L271.5,326.1 L272.8,326.2 L274.2,326.2 L275.6,326.3 L277.0,326.4 L278.5,326.5 L280.1,326.6 L281.6,326.6 L283.2,326.7" fill="none" stroke="#bdbdbd" stroke-width="0.55"/><path d="M281.0,300.5 L279.7,301.5 L278.4,302.4 L277.0,303.3 L275.6,304.2 L274.3,305.1 L272.9,305.9 L271.5,306.7 L270.2,307.6 L268.9,308.4 L267.6,309.2 L266.4,310.1 L265.2,311.0 L264.0,311.9 L262.9,312.8 L261.9,313.8 L261.0,314.9 L260.1,316.0 L259.4,317.2 L258.7,318.4 L258.1,319.7 L257.7,321.1 L257.4,322.6 L257.2,324.2 L257.1,325.9 L257.2,325.9 L257.3,326.0 L257.6,326.0 L258.1,326.1 L258.6,326.1 L259.2,326.1 L259.9,326.2 L260.8,326.2 L261.7,326.3 L262.7,326.3 L263.8,326.3 L264.9,326.4 L266.1,326.4 L267.4,326.4 L268.8,326.5 L270.2,326.5 L271.7,326.5 L273.2,326.5 L274.8,326.6 L276.4,326.6 L278.1,326.6 L279.8,326.6 L281.5,326.7 L283.2,326.7" fill="none" stroke="#bdbdbd" stroke-width="0.55"/><path d="M281.0,298.6 L279.5,299.6 L278.0,300.6 L276.5,301.6 L274.9,302.6 L273.4,303.5 L271.9,304.4 L270.3,305.4 L268.8,306.3 L267.4,307.3 L266.0,308.2 L264.6,309.2 L263.3,310.2 L262.0,311.3 L260.8,312.4 L259.7,313.5 L258.7,314.7 L257.8,316.0 L256.9,317.3 L256.2,318.8 L255.6,320.3 L255.1,321.9 L254.7,323.6 L254.5,325.4 L254.4,327.3 L254.5,327.5 L254.7,327.7 L255.1,327.8 L255.5,328.0 L256.1,328.2 L256.8,328.3 L257.6,328.5 L258.6,328.6 L259.6,328.8 L260.7,328.9 L261.9,329.0 L263.2,329.2 L264.5,329.3 L266.0,329.4 L267.5,329.6 L269.1,329.7 L270.7,329.8 L272.4,329.9 L274.1,330.0 L275.9,330.1 L277.6,330.2 L279.5,330.3 L281.3,330.4 L283.2,330.5" fill="none" stroke="#bdbdbd" stroke-width="0.55"/><path d="M281.0,296.7 L279.3,297.8 L277.6,298.9 L275.9,300.0 L274.2,301.0 L272.5,302.0 L270.8,303.0 L269.1,304.1 L267.5,305.1 L265.9,306.1 L264.4,307.2 L262.9,308.3 L261.4,309.5 L260.0,310.7 L258.7,311.9 L257.5,313.2 L256.4,314.6 L255.4,316.0 L254.5,317.5 L253.7,319.1 L253.1,320.8 L252.5,322.6 L252.1,324.5 L251.9,326.5 L251.8,328.7 L251.9,328.8 L252.1,328.9 L252.5,329.0 L253.0,329.1 L253.7,329.2 L254.5,329.3 L255.4,329.4 L256.4,329.4 L257.5,329.5 L258.8,329.6 L260.1,329.7 L261.5,329.8 L263.0,329.8 L264.6,329.9 L266.2,330.0 L267.9,330.0 L269.7,330.1 L271.5,330.2 L273.4,330.2 L275.3,330.3 L277.2,330.4 L279.2,330.4 L281.2,330.5 L283.2,330.5" fill="none" stroke="#bdbdbd" stroke-width="0.55"/><path d="M281.0,295.0 L279.1,296.1 L277.3,297.2 L275.4,298.3 L273.5,299.4 L271.6,300.5 L269.8,301.6 L268.0,302.8 L266.2,303.9 L264.4,305.0 L262.7,306.2 L261.1,307.5 L259.6,308.7 L258.1,310.1 L256.7,311.5 L255.4,312.9 L254.2,314.4 L253.1,316.0 L252.1,317.7 L251.3,319.5 L250.6,321.4 L250.0,323.4 L249.6,325.5 L249.3,327.7 L249.2,330.0 L249.3,330.3 L249.6,330.5 L250.0,330.7 L250.6,330.9 L251.3,331.2 L252.2,331.4 L253.2,331.6 L254.3,331.8 L255.5,332.0 L256.9,332.1 L258.3,332.3 L259.9,332.5 L261.5,332.7 L263.2,332.8 L265.0,333.0 L266.9,333.2 L268.8,333.3 L270.7,333.5 L272.7,333.6 L274.8,333.7 L276.9,333.9 L279.0,334.0 L281.1,334.1 L283.2,334.2" fill="none" stroke="#bdbdbd" stroke-width="0.55"/><path d="M281.0,293.3 L279.0,294.5 L276.9,295.6 L274.8,296.8 L272.8,298.0 L270.8,299.1 L268.8,300.3 L266.8,301.5 L264.8,302.7 L263.0,304.0 L261.2,305.3 L259.4,306.6 L257.7,308.0 L256.1,309.5 L254.6,311.0 L253.2,312.6 L252.0,314.3 L250.8,316.1 L249.8,317.9 L248.9,319.9 L248.1,322.0 L247.5,324.1 L247.1,326.4 L246.8,328.8 L246.7,331.4 L246.8,331.6 L247.1,331.7 L247.5,331.9 L248.2,332.0 L249.0,332.2 L249.9,332.3 L251.0,332.4 L252.2,332.6 L253.5,332.7 L255.0,332.8 L256.6,332.9 L258.3,333.1 L260.0,333.2 L261.9,333.3 L263.8,333.4 L265.8,333.5 L267.9,333.6 L270.0,333.7 L272.1,333.8 L274.3,333.9 L276.5,334.0 L278.7,334.1 L281.0,334.2 L283.2,334.2" fill="none" stroke="#bdbdbd" stroke-width="0.55"/><path d="M281.0,291.7 L278.8,292.9 L276.5,294.1 L274.3,295.3 L272.1,296.5 L269.9,297.7 L267.7,299.0 L265.6,300.3 L263.5,301.6 L261.5,303.0 L259.6,304.4 L257.7,305.8 L255.9,307.4 L254.2,308.9 L252.6,310.6 L251.1,312.4 L249.8,314.2 L248.5,316.1 L247.4,318.1 L246.5,320.3 L245.7,322.5 L245.0,324.9 L244.6,327.4 L244.3,330.0 L244.2,332.7 L244.3,333.0 L244.6,333.3 L245.1,333.6 L245.8,333.8 L246.6,334.1 L247.7,334.4 L248.8,334.6 L250.2,334.9 L251.6,335.1 L253.2,335.3 L254.9,335.5 L256.7,335.8 L258.6,336.0 L260.6,336.2 L262.7,336.4 L264.8,336.6 L267.0,336.8 L269.2,336.9 L271.5,337.1 L273.8,337.3 L276.2,337.4 L278.5,337.6 L280.9,337.7 L283.2,337.8" fill="none" stroke="#bcbcbc" stroke-width="0.55"/><path d="M281.0,290.2 L278.6,291.4 L276.2,292.7 L273.8,293.9 L271.4,295.1 L269.0,296.4 L266.7,297.7 L264.4,299.1 L262.2,300.5 L260.1,302.0 L258.0,303.5 L256.0,305.1 L254.1,306.7 L252.3,308.4 L250.6,310.2 L249.0,312.1 L247.6,314.1 L246.3,316.2 L245.1,318.4 L244.1,320.7 L243.3,323.1 L242.6,325.6 L242.1,328.3 L241.8,331.1 L241.7,334.0 L241.8,334.3 L242.1,334.5 L242.7,334.7 L243.4,334.9 L244.4,335.1 L245.5,335.3 L246.7,335.4 L248.2,335.6 L249.7,335.8 L251.4,336.0 L253.3,336.2 L255.2,336.3 L257.2,336.5 L259.4,336.6 L261.6,336.8 L263.8,336.9 L266.2,337.1 L268.5,337.2 L271.0,337.3 L273.4,337.4 L275.9,337.5 L278.3,337.6 L280.8,337.7 L283.2,337.8" fill="none" stroke="#bbbbbb" stroke-width="0.55"/><path d="M281.0,288.9 L278.4,290.1 L275.8,291.3 L273.2,292.6 L270.7,293.9 L268.1,295.2 L265.7,296.6 L263.2,298.0 L260.9,299.5 L258.6,301.0 L256.4,302.7 L254.3,304.3 L252.3,306.1 L250.4,308.0 L248.6,309.9 L246.9,311.9 L245.4,314.1 L244.0,316.3 L242.8,318.6 L241.8,321.1 L240.9,323.7 L240.2,326.4 L239.6,329.2 L239.3,332.2 L239.2,335.4 L239.3,335.7 L239.7,336.0 L240.3,336.4 L241.1,336.7 L242.1,337.0 L243.3,337.3 L244.6,337.6 L246.2,337.9 L247.9,338.2 L249.7,338.5 L251.6,338.7 L253.7,339.0 L255.9,339.2 L258.1,339.5 L260.5,339.7 L262.9,339.9 L265.4,340.2 L267.9,340.4 L270.4,340.6 L273.0,340.7 L275.6,340.9 L278.1,341.1 L280.7,341.2 L283.2,341.4" fill="none" stroke="#bbbbbb" stroke-width="0.55"/><path d="M281.0,287.6 L278.2,288.8 L275.4,290.1 L272.7,291.4 L270.0,292.7 L267.3,294.1 L264.6,295.5 L262.1,297.0 L259.6,298.6 L257.2,300.2 L254.8,301.9 L252.6,303.7 L250.5,305.6 L248.5,307.6 L246.6,309.6 L244.9,311.8 L243.3,314.1 L241.8,316.5 L240.5,319.0 L239.4,321.6 L238.5,324.3 L237.8,327.2 L237.2,330.2 L236.9,333.4 L236.8,336.6 L236.9,336.9 L237.3,337.2 L237.9,337.4 L238.8,337.7 L239.9,337.9 L241.1,338.2 L242.6,338.4 L244.2,338.7 L246.0,338.9 L248.0,339.1 L250.0,339.3 L252.2,339.5 L254.6,339.7 L257.0,339.9 L259.4,340.1 L262.0,340.3 L264.6,340.4 L267.2,340.6 L269.9,340.8 L272.6,340.9 L275.3,341.0 L278.0,341.2 L280.6,341.3 L283.2,341.4" fill="none" stroke="#b9b9b9" stroke-width="0.55"/><path d="M280.6,286.8 L277.7,288.0 L274.8,289.2 L271.8,290.5 L269.0,291.9 L266.2,293.3 L263.4,294.8 L260.7,296.3 L258.1,297.9 L255.6,299.6 L253.1,301.4 L250.8,303.3 L248.6,305.3 L246.5,307.4 L244.6,309.6 L242.7,311.8 L241.1,314.2 L239.6,316.7 L238.2,319.4 L237.1,322.1 L236.1,325.0 L235.4,328.0 L234.8,331.2 L234.5,334.5 L234.3,337.9 L234.5,338.3 L234.9,338.7 L235.6,339.1 L236.5,339.5 L237.6,339.8 L239.0,340.2 L240.6,340.5 L242.3,340.9 L244.2,341.2 L246.3,341.5 L248.5,341.9 L250.8,342.2 L253.3,342.5 L255.8,342.7 L258.4,343.0 L261.1,343.3 L263.9,343.5 L266.6,343.7 L269.4,344.0 L272.2,344.2 L275.0,344.4 L277.8,344.5 L280.5,344.7 L283.2,344.9" fill="none" stroke="#b8b8b8" stroke-width="0.55"/><path d="M277.3,286.8 L274.3,287.9 L271.4,289.1 L268.6,290.3 L265.7,291.6 L263.0,293.0 L260.3,294.5 L257.6,296.1 L255.1,297.7 L252.6,299.5 L250.2,301.3 L248.0,303.3 L245.8,305.4 L243.8,307.5 L241.9,309.8 L240.1,312.2 L238.5,314.7 L237.0,317.3 L235.7,320.0 L234.6,322.9 L233.7,325.9 L232.9,329.0 L232.4,332.3 L232.0,335.7 L231.9,339.2 L232.1,339.5 L232.5,339.9 L233.2,340.2 L234.2,340.5 L235.4,340.8 L236.9,341.1 L238.6,341.4 L240.4,341.6 L242.4,341.9 L244.6,342.2 L247.0,342.4 L249.4,342.7 L252.0,342.9 L254.7,343.2 L257.4,343.4 L260.3,343.6 L263.1,343.8 L266.0,344.0 L269.0,344.2 L271.9,344.3 L274.8,344.5 L277.6,344.6 L280.4,344.7 L283.2,344.9" fill="none" stroke="#b5b5b5" stroke-width="0.55"/><path d="M273.9,286.8 L271.0,287.8 L268.1,288.9 L265.3,290.1 L262.5,291.4 L259.8,292.8 L257.2,294.3 L254.6,295.9 L252.1,297.6 L249.7,299.4 L247.3,301.3 L245.1,303.3 L243.0,305.4 L241.0,307.7 L239.2,310.0 L237.5,312.5 L235.9,315.1 L234.5,317.8 L233.2,320.7 L232.1,323.7 L231.2,326.8 L230.5,330.0 L230.0,333.4 L229.6,336.8 L229.5,340.5 L229.7,340.9 L230.2,341.4 L230.9,341.8 L232.0,342.2 L233.3,342.7 L234.8,343.1 L236.6,343.5 L238.5,343.9 L240.7,344.3 L243.0,344.6 L245.5,345.0 L248.1,345.3 L250.8,345.7 L253.6,346.0 L256.5,346.3 L259.4,346.6 L262.4,346.8 L265.5,347.1 L268.5,347.3 L271.5,347.6 L274.5,347.8 L277.5,348.0 L280.4,348.1 L283.2,348.3" fill="none" stroke="#b3b3b3" stroke-width="0.55"/><path d="M270.5,286.8 L267.7,287.7 L264.9,288.8 L262.1,289.9 L259.4,291.2 L256.7,292.6 L254.1,294.0 L251.5,295.7 L249.1,297.4 L246.7,299.2 L244.5,301.2 L242.3,303.3 L240.2,305.5 L238.3,307.8 L236.5,310.3 L234.8,312.8 L233.3,315.5 L231.9,318.4 L230.7,321.3 L229.7,324.4 L228.8,327.6 L228.1,330.9 L227.6,334.4 L227.3,338.0 L227.2,341.7 L227.3,342.1 L227.8,342.5 L228.6,342.9 L229.7,343.2 L231.1,343.6 L232.7,343.9 L234.6,344.3 L236.7,344.6 L238.9,344.9 L241.4,345.3 L244.0,345.6 L246.7,345.8 L249.6,346.1 L252.5,346.4 L255.6,346.6 L258.7,346.9 L261.8,347.1 L264.9,347.3 L268.1,347.5 L271.2,347.7 L274.3,347.9 L277.4,348.0 L280.3,348.2 L283.2,348.3" fill="none" stroke="#afafaf" stroke-width="0.55"/><path d="M267.2,286.8 L264.4,287.6 L261.6,288.6 L258.9,289.7 L256.2,291.0 L253.6,292.3 L251.0,293.8 L248.5,295.5 L246.1,297.2 L243.8,299.1 L241.6,301.1 L239.5,303.3 L237.5,305.6 L235.6,308.0 L233.9,310.5 L232.2,313.2 L230.7,316.0 L229.4,318.9 L228.2,321.9 L227.2,325.1 L226.4,328.4 L225.7,331.9 L225.2,335.5 L224.9,339.2 L224.8,343.0 L225.0,343.5 L225.5,344.0 L226.4,344.5 L227.5,345.0 L229.0,345.5 L230.7,346.0 L232.7,346.4 L234.8,346.9 L237.2,347.3 L239.8,347.7 L242.5,348.1 L245.4,348.5 L248.4,348.9 L251.5,349.2 L254.7,349.5 L257.9,349.9 L261.1,350.2 L264.4,350.4 L267.7,350.7 L270.9,350.9 L274.1,351.2 L277.2,351.4 L280.3,351.5 L283.2,351.7" fill="none" stroke="#ababab" stroke-width="0.55"/><path d="M263.9,286.8 L261.1,287.6 L258.4,288.5 L255.7,289.6 L253.0,290.8 L250.4,292.1 L247.9,293.6 L245.5,295.3 L243.2,297.1 L240.9,299.0 L238.7,301.0 L236.7,303.3 L234.7,305.6 L232.9,308.1 L231.2,310.7 L229.6,313.4 L228.2,316.3 L226.9,319.4 L225.8,322.5 L224.8,325.8 L223.9,329.2 L223.3,332.8 L222.8,336.5 L222.5,340.3 L222.4,344.2 L222.6,344.7 L223.2,345.1 L224.1,345.6 L225.3,346.0 L226.9,346.4 L228.7,346.8 L230.7,347.2 L233.0,347.6 L235.6,348.0 L238.3,348.3 L241.1,348.7 L244.1,349.0 L247.3,349.3 L250.5,349.6 L253.8,349.9 L257.1,350.2 L260.5,350.4 L263.9,350.7 L267.3,350.9 L270.7,351.1 L273.9,351.3 L277.1,351.4 L280.2,351.6 L283.2,351.7" fill="none" stroke="#a6a6a6" stroke-width="0.55"/><path d="M260.6,286.8 L257.8,287.5 L255.1,288.4 L252.5,289.4 L249.9,290.6 L247.3,291.9 L244.9,293.4 L242.5,295.1 L240.2,296.9 L238.0,298.8 L235.9,300.9 L233.9,303.2 L232.0,305.6 L230.2,308.1 L228.5,310.8 L227.0,313.7 L225.6,316.6 L224.4,319.8 L223.3,323.0 L222.3,326.4 L221.5,330.0 L220.9,333.6 L220.5,337.4 L220.2,341.4 L220.1,345.5 L220.3,346.1 L220.9,346.7 L221.8,347.2 L223.1,347.8 L224.8,348.3 L226.7,348.9 L228.8,349.4 L231.3,349.9 L233.9,350.4 L236.7,350.8 L239.7,351.3 L242.9,351.7 L246.1,352.1 L249.5,352.5 L252.9,352.8 L256.4,353.2 L259.9,353.5 L263.5,353.8 L267.0,354.0 L270.4,354.3 L273.8,354.5 L277.0,354.7 L280.2,354.9 L283.2,355.0" fill="none" stroke="#a0a0a0" stroke-width="0.55"/><path d="M257.3,286.8 L254.6,287.5 L251.9,288.3 L249.2,289.3 L246.6,290.4 L244.1,291.7 L241.7,293.2 L239.4,294.9 L237.1,296.7 L235.0,298.7 L232.9,300.8 L231.0,303.1 L229.2,305.5 L227.5,308.1 L225.9,310.9 L224.4,313.8 L223.1,316.8 L221.9,320.1 L220.8,323.4 L219.9,326.9 L219.1,330.6 L218.5,334.4 L218.1,338.4 L217.9,342.5 L217.8,346.7 L218.0,347.3 L218.6,347.8 L219.6,348.3 L221.0,348.8 L222.7,349.3 L224.7,349.7 L227.0,350.2 L229.5,350.6 L232.2,351.0 L235.2,351.4 L238.3,351.8 L241.6,352.2 L245.0,352.5 L248.5,352.9 L252.1,353.2 L255.7,353.5 L259.4,353.7 L263.0,354.0 L266.6,354.2 L270.2,354.4 L273.6,354.6 L277.0,354.8 L280.2,354.9 L283.2,355.0" fill="none" stroke="#989898" stroke-width="0.55"/><path d="M254.1,286.8 L251.3,287.4 L248.6,288.2 L245.9,289.1 L243.4,290.2 L240.9,291.5 L238.5,293.0 L236.2,294.6 L234.0,296.4 L231.9,298.4 L229.9,300.5 L228.1,302.8 L226.3,305.3 L224.7,307.9 L223.1,310.8 L221.7,313.7 L220.4,316.9 L219.3,320.2 L218.3,323.6 L217.5,327.3 L216.7,331.1 L216.2,335.1 L215.8,339.2 L215.5,343.5 L215.4,347.9 L215.7,348.6 L216.3,349.3 L217.4,350.0 L218.8,350.6 L220.6,351.2 L222.7,351.8 L225.1,352.4 L227.7,353.0 L230.6,353.5 L233.7,354.0 L237.0,354.5 L240.4,354.9 L244.0,355.3 L247.6,355.8 L251.3,356.1 L255.1,356.5 L258.8,356.8 L262.6,357.1 L266.3,357.4 L269.9,357.6 L273.5,357.8 L276.9,358.0 L280.1,358.2 L283.2,358.3" fill="none" stroke="#909090" stroke-width="0.55"/><path d="M250.8,286.8 L248.0,287.4 L245.2,288.1 L242.6,289.0 L240.0,290.0 L237.6,291.3 L235.2,292.7 L232.9,294.3 L230.8,296.0 L228.8,298.0 L226.8,300.1 L225.0,302.4 L223.3,304.9 L221.8,307.5 L220.3,310.4 L219.0,313.4 L217.8,316.6 L216.7,320.0 L215.8,323.6 L215.0,327.4 L214.3,331.4 L213.8,335.5 L213.4,339.9 L213.2,344.4 L213.1,349.2 L213.4,349.8 L214.1,350.4 L215.2,351.0 L216.7,351.6 L218.5,352.2 L220.7,352.7 L223.2,353.2 L226.0,353.7 L229.0,354.2 L232.2,354.6 L235.7,355.0 L239.2,355.4 L242.9,355.8 L246.7,356.2 L250.6,356.5 L254.4,356.8 L258.3,357.1 L262.2,357.3 L266.0,357.6 L269.7,357.8 L273.3,357.9 L276.8,358.1 L280.1,358.2 L283.2,358.3" fill="none" stroke="#868686" stroke-width="0.55"/><path d="M247.6,286.8 L244.7,287.3 L241.8,288.0 L239.1,288.8 L236.5,289.8 L234.0,291.0 L231.7,292.3 L229.5,293.8 L227.4,295.5 L225.4,297.3 L223.5,299.4 L221.8,301.7 L220.2,304.1 L218.7,306.8 L217.4,309.6 L216.1,312.7 L215.0,316.0 L214.0,319.5 L213.2,323.2 L212.5,327.1 L211.9,331.3 L211.4,335.7 L211.1,340.4 L210.9,345.2 L210.8,350.4 L211.1,351.2 L211.8,352.0 L213.0,352.8 L214.5,353.5 L216.5,354.2 L218.8,354.9 L221.4,355.5 L224.3,356.1 L227.4,356.7 L230.8,357.3 L234.4,357.8 L238.1,358.3 L241.9,358.7 L245.8,359.1 L249.8,359.5 L253.8,359.9 L257.8,360.2 L261.8,360.5 L265.7,360.7 L269.5,361.0 L273.2,361.2 L276.8,361.4 L280.1,361.5 L283.2,361.6" fill="none" stroke="#7a7a7a" stroke-width="0.55"/><path d="M244.4,286.8 L241.3,287.3 L238.3,287.9 L235.5,288.6 L232.8,289.5 L230.3,290.5 L227.9,291.7 L225.7,293.1 L223.7,294.6 L221.7,296.4 L220.0,298.3 L218.3,300.5 L216.8,302.8 L215.4,305.4 L214.2,308.3 L213.1,311.3 L212.1,314.7 L211.3,318.3 L210.5,322.1 L209.9,326.3 L209.4,330.7 L209.0,335.5 L208.8,340.5 L208.6,345.9 L208.6,351.6 L208.8,352.4 L209.6,353.1 L210.8,353.9 L212.4,354.5 L214.5,355.2 L216.9,355.8 L219.6,356.4 L222.6,356.9 L225.9,357.4 L229.4,357.9 L233.1,358.4 L236.9,358.8 L240.9,359.2 L245.0,359.5 L249.1,359.9 L253.2,360.2 L257.4,360.4 L261.5,360.7 L265.5,360.9 L269.4,361.1 L273.1,361.3 L276.7,361.4 L280.1,361.5 L283.2,361.6" fill="none" stroke="#6c6c6c" stroke-width="0.55"/><path d="M241.2,286.8 L237.8,287.2 L234.6,287.8 L231.6,288.4 L228.8,289.1 L226.2,289.9 L223.8,290.9 L221.6,292.1 L219.6,293.4 L217.7,294.9 L216.0,296.6 L214.5,298.6 L213.1,300.8 L211.9,303.3 L210.8,306.0 L209.9,309.1 L209.0,312.5 L208.3,316.2 L207.7,320.2 L207.3,324.6 L206.9,329.4 L206.6,334.6 L206.4,340.2 L206.3,346.3 L206.3,352.8 L206.5,353.8 L207.3,354.8 L208.6,355.7 L210.3,356.6 L212.4,357.4 L214.9,358.1 L217.8,358.8 L220.9,359.5 L224.3,360.1 L228.0,360.7 L231.8,361.2 L235.8,361.7 L239.9,362.2 L244.1,362.6 L248.4,363.0 L252.7,363.3 L256.9,363.6 L261.1,363.9 L265.2,364.1 L269.2,364.3 L273.0,364.5 L276.7,364.7 L280.1,364.8 L283.2,364.9" fill="none" stroke="#5c5c5c" stroke-width="0.55"/><path d="M238.0,286.8 L234.1,287.2 L230.6,287.6 L227.3,288.0 L224.3,288.5 L221.6,289.1 L219.1,289.7 L216.9,290.6 L214.9,291.5 L213.1,292.7 L211.5,294.1 L210.2,295.8 L209.0,297.7 L207.9,300.0 L207.0,302.6 L206.3,305.6 L205.7,309.0 L205.2,312.8 L204.8,317.0 L204.5,321.8 L204.3,327.1 L204.1,332.9 L204.1,339.3 L204.0,346.3 L204.0,354.0 L204.3,355.1 L205.1,356.2 L206.4,357.2 L208.2,358.1 L210.4,359.0 L213.0,359.8 L216.0,360.6 L219.3,361.3 L222.8,361.9 L226.6,362.5 L230.6,363.0 L234.7,363.5 L239.0,364.0 L243.3,364.4 L247.7,364.7 L252.1,365.1 L256.5,365.4 L260.8,365.6 L265.0,365.8 L269.1,366.0 L273.0,366.2 L276.7,366.3 L280.1,366.4 L283.2,366.5" fill="none" stroke="#4b4b4b" stroke-width="0.55"/><path d="M281.5,312.0 L282.0,312.5 L282.5,313.0 L283.0,313.4 L283.6,313.8 L284.1,314.2 L284.7,314.5 L285.3,314.8 L285.9,315.1 L286.5,315.3 L287.0,315.6 L287.6,315.8 L288.1,316.0 L288.7,316.2 L289.2,316.5 L289.7,316.7 L290.1,317.0 L290.5,317.2 L290.9,317.5 L291.2,317.8 L291.5,318.2 L291.7,318.6 L291.9,319.0 L292.0,319.5 L292.0,320.0 L292.0,320.6 L291.9,321.1 L291.8,321.6 L291.7,322.1 L291.6,322.6 L291.4,323.0 L291.1,323.5 L290.9,323.9 L290.6,324.4 L290.3,324.8 L290.0,325.2 L289.6,325.6 L289.2,325.9 L288.8,326.3 L288.3,326.7 L287.8,327.1 L287.3,327.4 L286.8,327.8 L286.3,328.2 L285.7,328.5 L285.1,328.9 L284.5,329.3 L283.9,329.6 L283.2,330.0" fill="none" stroke="#bebebe" stroke-width="0.55"/><path d="M281.5,305.2 L282.2,305.9 L282.9,306.5 L283.6,307.0 L284.4,307.6 L285.1,308.2 L285.9,308.7 L286.7,309.3 L287.4,309.9 L288.1,310.4 L288.9,311.0 L289.6,311.6 L290.3,312.2 L290.9,312.9 L291.6,313.5 L292.1,314.2 L292.7,314.9 L293.2,315.7 L293.6,316.5 L294.0,317.4 L294.3,318.3 L294.6,319.3 L294.8,320.3 L294.9,321.4 L295.0,322.5 L294.9,322.9 L294.9,323.3 L294.7,323.7 L294.6,324.1 L294.3,324.5 L294.1,324.8 L293.7,325.2 L293.4,325.5 L293.0,325.8 L292.6,326.2 L292.1,326.5 L291.6,326.8 L291.0,327.1 L290.4,327.4 L289.8,327.6 L289.2,327.9 L288.5,328.2 L287.8,328.5 L287.1,328.7 L286.4,329.0 L285.6,329.2 L284.8,329.5 L284.0,329.7 L283.2,330.0" fill="none" stroke="#bdbdbd" stroke-width="0.55"/><path d="M281.5,299.7 L282.4,300.4 L283.3,301.1 L284.2,301.8 L285.1,302.5 L286.1,303.2 L287.0,303.9 L287.9,304.7 L288.8,305.5 L289.7,306.3 L290.5,307.2 L291.4,308.1 L292.2,309.0 L292.9,310.0 L293.6,311.1 L294.3,312.2 L294.9,313.3 L295.5,314.5 L296.0,315.7 L296.5,317.1 L296.8,318.4 L297.1,319.9 L297.4,321.4 L297.5,323.0 L297.5,324.7 L297.5,325.4 L297.4,326.1 L297.2,326.8 L297.0,327.4 L296.7,328.1 L296.4,328.7 L296.0,329.3 L295.5,329.9 L295.0,330.5 L294.5,331.0 L293.9,331.6 L293.2,332.1 L292.5,332.6 L291.8,333.1 L291.1,333.6 L290.3,334.1 L289.5,334.6 L288.6,335.0 L287.8,335.5 L286.9,335.9 L286.0,336.3 L285.1,336.7 L284.1,337.1 L283.2,337.5" fill="none" stroke="#bdbdbd" stroke-width="0.55"/><path d="M281.5,294.8 L282.6,295.5 L283.7,296.2 L284.8,297.0 L285.9,297.8 L287.0,298.7 L288.0,299.6 L289.1,300.5 L290.1,301.6 L291.1,302.6 L292.1,303.8 L293.1,305.0 L294.0,306.2 L294.8,307.5 L295.7,308.9 L296.4,310.3 L297.1,311.9 L297.7,313.4 L298.3,315.1 L298.8,316.9 L299.2,318.7 L299.5,320.6 L299.8,322.5 L299.9,324.6 L300.0,326.8 L299.9,327.4 L299.8,328.0 L299.6,328.5 L299.3,329.1 L299.0,329.6 L298.5,330.2 L298.0,330.7 L297.5,331.2 L296.9,331.7 L296.2,332.2 L295.5,332.6 L294.7,333.1 L293.9,333.5 L293.1,334.0 L292.2,334.4 L291.3,334.8 L290.3,335.2 L289.4,335.5 L288.4,335.9 L287.3,336.3 L286.3,336.6 L285.3,336.9 L284.2,337.2 L283.2,337.5" fill="none" stroke="#bdbdbd" stroke-width="0.55"/><path d="M281.5,290.5 L282.8,291.2 L284.1,292.0 L285.3,292.8 L286.6,293.7 L287.8,294.7 L289.1,295.7 L290.3,296.8 L291.5,298.1 L292.6,299.3 L293.7,300.7 L294.8,302.2 L295.8,303.7 L296.7,305.3 L297.6,307.0 L298.4,308.8 L299.2,310.6 L299.9,312.6 L300.5,314.6 L301.1,316.8 L301.5,319.0 L301.9,321.3 L302.1,323.7 L302.3,326.2 L302.3,328.8 L302.3,329.6 L302.1,330.5 L301.9,331.3 L301.6,332.1 L301.1,332.9 L300.6,333.7 L300.0,334.4 L299.4,335.1 L298.7,335.9 L297.9,336.6 L297.0,337.2 L296.1,337.9 L295.2,338.5 L294.2,339.1 L293.2,339.7 L292.2,340.3 L291.1,340.9 L290.0,341.4 L288.9,341.9 L287.7,342.4 L286.6,342.8 L285.5,343.2 L284.3,343.7 L283.2,344.0" fill="none" stroke="#bcbcbc" stroke-width="0.55"/><path d="M281.5,287.1 L283.0,287.8 L284.4,288.5 L285.9,289.4 L287.3,290.3 L288.7,291.4 L290.1,292.6 L291.4,293.9 L292.7,295.2 L294.0,296.7 L295.2,298.3 L296.4,299.9 L297.5,301.7 L298.5,303.6 L299.5,305.6 L300.4,307.6 L301.3,309.8 L302.0,312.1 L302.7,314.5 L303.3,316.9 L303.8,319.5 L304.1,322.2 L304.4,324.9 L304.6,327.8 L304.6,330.7 L304.6,331.5 L304.4,332.2 L304.1,332.9 L303.7,333.7 L303.2,334.4 L302.6,335.1 L301.9,335.7 L301.2,336.4 L300.3,337.0 L299.4,337.6 L298.5,338.2 L297.5,338.8 L296.4,339.4 L295.3,339.9 L294.1,340.4 L292.9,340.9 L291.7,341.4 L290.5,341.9 L289.3,342.3 L288.1,342.7 L286.8,343.1 L285.6,343.4 L284.4,343.7 L283.2,344.0" fill="none" stroke="#b8b8b8" stroke-width="0.55"/><path d="M284.1,286.8 L285.6,287.4 L287.1,288.0 L288.5,288.8 L290.0,289.8 L291.4,290.9 L292.7,292.0 L294.1,293.4 L295.3,294.8 L296.6,296.3 L297.8,298.0 L298.9,299.8 L300.0,301.7 L301.0,303.7 L302.0,305.8 L302.8,308.0 L303.7,310.4 L304.4,312.8 L305.0,315.3 L305.6,318.0 L306.0,320.7 L306.4,323.6 L306.7,326.5 L306.8,329.5 L306.9,332.6 L306.8,333.7 L306.6,334.7 L306.3,335.6 L305.8,336.6 L305.2,337.6 L304.6,338.5 L303.8,339.4 L302.9,340.3 L302.0,341.2 L300.9,342.0 L299.9,342.8 L298.7,343.6 L297.5,344.3 L296.3,345.0 L295.0,345.7 L293.7,346.4 L292.3,347.0 L291.0,347.6 L289.7,348.1 L288.3,348.6 L287.0,349.1 L285.7,349.5 L284.4,349.9 L283.2,350.2" fill="none" stroke="#b2b2b2" stroke-width="0.55"/><path d="M287.2,286.8 L288.6,287.3 L290.1,287.9 L291.5,288.6 L292.9,289.5 L294.3,290.6 L295.6,291.8 L296.9,293.1 L298.1,294.6 L299.3,296.2 L300.5,297.9 L301.6,299.8 L302.6,301.8 L303.6,303.9 L304.5,306.1 L305.3,308.5 L306.1,311.0 L306.8,313.5 L307.4,316.2 L307.9,319.0 L308.3,321.9 L308.7,324.9 L308.9,328.0 L309.1,331.2 L309.1,334.5 L309.0,335.5 L308.8,336.4 L308.4,337.3 L307.9,338.2 L307.2,339.1 L306.5,340.0 L305.6,340.8 L304.6,341.6 L303.5,342.4 L302.4,343.1 L301.2,343.9 L299.9,344.6 L298.5,345.2 L297.2,345.9 L295.8,346.5 L294.3,347.0 L292.9,347.6 L291.4,348.1 L290.0,348.5 L288.6,348.9 L287.2,349.3 L285.8,349.7 L284.5,350.0 L283.2,350.2" fill="none" stroke="#a6a6a6" stroke-width="0.55"/><path d="M290.1,286.8 L291.6,287.2 L293.1,287.7 L294.5,288.4 L295.9,289.3 L297.3,290.3 L298.6,291.4 L299.8,292.8 L301.0,294.2 L302.2,295.8 L303.3,297.6 L304.3,299.5 L305.3,301.6 L306.2,303.7 L307.0,306.1 L307.8,308.5 L308.5,311.1 L309.2,313.8 L309.7,316.7 L310.2,319.7 L310.6,322.8 L310.9,326.0 L311.1,329.3 L311.3,332.8 L311.3,336.4 L311.2,337.7 L310.9,339.0 L310.5,340.2 L309.9,341.4 L309.2,342.6 L308.3,343.7 L307.3,344.8 L306.2,345.8 L305.0,346.8 L303.8,347.8 L302.4,348.7 L301.0,349.6 L299.5,350.4 L298.0,351.2 L296.5,351.9 L294.9,352.6 L293.4,353.2 L291.8,353.8 L290.3,354.3 L288.7,354.8 L287.3,355.2 L285.8,355.6 L284.5,355.9 L283.2,356.2" fill="none" stroke="#939393" stroke-width="0.55"/><path d="M293.1,286.8 L294.8,287.1 L296.4,287.5 L297.9,288.1 L299.3,288.8 L300.7,289.7 L302.0,290.7 L303.3,291.9 L304.5,293.2 L305.5,294.7 L306.6,296.4 L307.5,298.2 L308.4,300.1 L309.2,302.3 L310.0,304.6 L310.6,307.1 L311.2,309.8 L311.7,312.7 L312.2,315.7 L312.6,319.0 L312.9,322.4 L313.2,326.1 L313.3,329.9 L313.4,333.9 L313.5,338.2 L313.4,339.6 L313.1,340.9 L312.6,342.1 L311.9,343.3 L311.1,344.4 L310.1,345.5 L309.0,346.5 L307.8,347.5 L306.5,348.4 L305.1,349.3 L303.6,350.1 L302.0,350.9 L300.4,351.6 L298.8,352.2 L297.1,352.9 L295.4,353.4 L293.8,353.9 L292.1,354.4 L290.5,354.8 L288.9,355.2 L287.3,355.5 L285.9,355.8 L284.5,356.0 L283.2,356.2" fill="none" stroke="#767676" stroke-width="0.55"/><path d="M296.0,286.8 L298.2,287.0 L300.3,287.3 L302.2,287.6 L303.9,287.9 L305.5,288.3 L306.9,288.8 L308.2,289.5 L309.3,290.2 L310.3,291.2 L311.2,292.3 L312.0,293.6 L312.7,295.2 L313.3,297.0 L313.9,299.1 L314.3,301.5 L314.6,304.2 L314.9,307.2 L315.1,310.6 L315.3,314.4 L315.4,318.6 L315.5,323.3 L315.6,328.4 L315.6,333.9 L315.6,340.0 L315.5,342.0 L315.1,343.9 L314.6,345.6 L313.9,347.3 L313.0,348.8 L311.9,350.2 L310.7,351.6 L309.4,352.8 L307.9,353.9 L306.4,355.0 L304.7,355.9 L303.0,356.8 L301.3,357.6 L299.5,358.3 L297.7,358.9 L295.9,359.5 L294.1,360.0 L292.4,360.4 L290.6,360.8 L289.0,361.1 L287.4,361.4 L285.9,361.7 L284.5,361.8 L283.2,362.0" fill="none" stroke="#4b4b4b" stroke-width="0.55"/>
<path d="M204.5,372.2 L205.5,372.3 L206.4,372.3 L207.4,372.4 L208.4,372.4 L209.4,372.5 L210.3,372.6 L211.3,372.6 L212.3,372.7 L213.3,372.7 L214.2,372.8 L215.2,372.8 L216.2,372.9 L217.2,372.9 L218.2,373.0 L219.1,373.0 L220.1,373.1 L221.1,373.1 L222.1,373.1 L223.0,373.2 L224.0,373.2 L225.0,373.2 L225.9,373.2 L226.9,373.2 L227.9,373.2 L228.9,373.2 L229.8,373.2 L230.8,373.2 L231.8,373.1 L232.8,373.1 L233.8,373.1 L234.7,373.0 L235.7,373.0 L236.7,372.9 L237.7,372.9 L238.6,372.8 L239.6,372.8 L240.6,372.7 L241.6,372.7 L242.5,372.6 L243.5,372.6 L244.5,372.5 L245.4,372.4 L246.4,372.4 L247.4,372.3 L248.4,372.3 L249.3,372.2 L250.3,372.1 L251.3,372.1 L252.3,372.0 L253.2,372.0 L254.2,372.0 L255.2,371.9 L256.2,371.9 L257.1,371.9 L258.1,371.8 L259.1,371.8 L260.1,371.8 L261.1,371.8 L262.0,371.8 L263.0,371.8 L264.0,371.8 L264.9,371.8 L265.9,371.8 L266.9,371.9 L267.9,371.9 L268.9,371.9 L269.8,372.0 L270.8,372.0 L271.8,372.1 L272.8,372.1 L273.7,372.2 L274.7,372.2 L275.7,372.3 L276.6,372.3 L277.6,372.4 L278.6,372.5 L279.6,372.5 L280.6,372.6 L281.5,372.6 L282.5,372.7 M283.8,368.6 L284.6,368.6 L285.4,368.7 L286.2,368.7 L287.0,368.8 L287.8,368.8 L288.6,368.9 L289.3,369.0 L290.1,369.1 L290.9,369.2 L291.7,369.3 L292.5,369.4 L293.3,369.5 L294.1,369.6 L294.9,369.7 L295.7,369.8 L296.5,369.9 L297.3,370.0 L298.1,370.1 L298.9,370.2 L299.6,370.2 L300.4,370.3 L301.2,370.3 L302.0,370.4 L302.8,370.4 L303.6,370.4 L304.4,370.4 L305.2,370.4 L306.0,370.3 L306.8,370.3 L307.6,370.3 L308.4,370.2 L309.2,370.1 L310.0,370.0 L310.7,369.9 L311.5,369.8 L312.3,369.7 L313.1,369.6 L313.9,369.5 L314.7,369.4 L315.5,369.3 M204.5,375.4 L205.5,375.5 L206.4,375.5 L207.4,375.5 L208.4,375.6 L209.4,375.6 L210.3,375.6 L211.3,375.6 L212.3,375.6 L213.3,375.6 L214.2,375.6 L215.2,375.6 L216.2,375.6 L217.2,375.5 L218.2,375.5 L219.1,375.5 L220.1,375.4 L221.1,375.4 L222.1,375.4 L223.0,375.3 L224.0,375.3 L225.0,375.2 L225.9,375.1 L226.9,375.1 L227.9,375.0 L228.9,375.0 L229.8,374.9 L230.8,374.8 L231.8,374.8 L232.8,374.7 L233.8,374.7 L234.7,374.6 L235.7,374.6 L236.7,374.5 L237.7,374.5 L238.6,374.4 L239.6,374.4 L240.6,374.3 L241.6,374.3 L242.5,374.3 L243.5,374.2 L244.5,374.2 L245.4,374.2 L246.4,374.2 L247.4,374.2 L248.4,374.2 L249.3,374.2 L250.3,374.2 L251.3,374.2 L252.3,374.3 L253.2,374.3 L254.2,374.3 L255.2,374.4 L256.2,374.4 L257.1,374.5 L258.1,374.5 L259.1,374.6 L260.1,374.6 L261.1,374.7 L262.0,374.7 L263.0,374.8 L264.0,374.8 L264.9,374.9 L265.9,375.0 L266.9,375.0 L267.9,375.1 L268.9,375.1 L269.8,375.2 L270.8,375.3 L271.8,375.3 L272.8,375.4 L273.7,375.4 L274.7,375.4 L275.7,375.5 L276.6,375.5 L277.6,375.5 L278.6,375.6 L279.6,375.6 L280.6,375.6 L281.5,375.6 L282.5,375.6 M283.8,371.6 L284.6,371.7 L285.4,371.8 L286.2,371.9 L287.0,372.0 L287.8,372.2 L288.6,372.3 L289.3,372.3 L290.1,372.4 L290.9,372.5 L291.7,372.6 L292.5,372.7 L293.3,372.7 L294.1,372.7 L294.9,372.8 L295.7,372.8 L296.5,372.8 L297.3,372.8 L298.1,372.8 L298.9,372.7 L299.6,372.7 L300.4,372.6 L301.2,372.6 L302.0,372.5 L302.8,372.4 L303.6,372.3 L304.4,372.2 L305.2,372.1 L306.0,372.0 L306.8,371.9 L307.6,371.8 L308.4,371.7 L309.2,371.6 L310.0,371.5 L310.7,371.4 L311.5,371.3 L312.3,371.2 L313.1,371.2 L313.9,371.1 L314.7,371.1 L315.5,371.0 M204.5,377.9 L205.5,377.8 L206.4,377.8 L207.4,377.8 L208.4,377.7 L209.4,377.7 L210.3,377.6 L211.3,377.6 L212.3,377.5 L213.3,377.4 L214.2,377.4 L215.2,377.3 L216.2,377.3 L217.2,377.2 L218.2,377.1 L219.1,377.1 L220.1,377.0 L221.1,377.0 L222.1,376.9 L223.0,376.9 L224.0,376.8 L225.0,376.8 L225.9,376.7 L226.9,376.7 L227.9,376.7 L228.9,376.6 L229.8,376.6 L230.8,376.6 L231.8,376.6 L232.8,376.6 L233.8,376.6 L234.7,376.6 L235.7,376.6 L236.7,376.6 L237.7,376.7 L238.6,376.7 L239.6,376.7 L240.6,376.8 L241.6,376.8 L242.5,376.8 L243.5,376.9 L244.5,376.9 L245.4,377.0 L246.4,377.1 L247.4,377.1 L248.4,377.2 L249.3,377.2 L250.3,377.3 L251.3,377.4 L252.3,377.4 L253.2,377.5 L254.2,377.5 L255.2,377.6 L256.2,377.6 L257.1,377.7 L258.1,377.8 L259.1,377.8 L260.1,377.8 L261.1,377.9 L262.0,377.9 L263.0,377.9 L264.0,378.0 L264.9,378.0 L265.9,378.0 L266.9,378.0 L267.9,378.0 L268.9,378.0 L269.8,378.0 L270.8,378.0 L271.8,378.0 L272.8,377.9 L273.7,377.9 L274.7,377.9 L275.7,377.8 L276.6,377.8 L277.6,377.7 L278.6,377.7 L279.6,377.6 L280.6,377.6 L281.5,377.5 L282.5,377.5 M283.8,374.9 L284.6,375.0 L285.4,375.1 L286.2,375.1 L287.0,375.2 L287.8,375.2 L288.6,375.2 L289.3,375.2 L290.1,375.2 L290.9,375.2 L291.7,375.1 L292.5,375.1 L293.3,375.0 L294.1,375.0 L294.9,374.9 L295.7,374.8 L296.5,374.7 L297.3,374.6 L298.1,374.5 L298.9,374.4 L299.6,374.3 L300.4,374.2 L301.2,374.1 L302.0,374.0 L302.8,373.9 L303.6,373.8 L304.4,373.7 L305.2,373.6 L306.0,373.6 L306.8,373.5 L307.6,373.5 L308.4,373.4 L309.2,373.4 L310.0,373.4 L310.7,373.4 L311.5,373.4 L312.3,373.5 L313.1,373.5 L313.9,373.6 L314.7,373.6 L315.5,373.7 M204.5,379.5 L205.5,379.4 L206.4,379.4 L207.4,379.3 L208.4,379.3 L209.4,379.2 L210.3,379.2 L211.3,379.1 L212.3,379.1 L213.3,379.1 L214.2,379.0 L215.2,379.0 L216.2,379.0 L217.2,379.0 L218.2,379.0 L219.1,379.0 L220.1,379.0 L221.1,379.0 L222.1,379.0 L223.0,379.1 L224.0,379.1 L225.0,379.1 L225.9,379.2 L226.9,379.2 L227.9,379.2 L228.9,379.3 L229.8,379.3 L230.8,379.4 L231.8,379.4 L232.8,379.5 L233.8,379.6 L234.7,379.6 L235.7,379.7 L236.7,379.7 L237.7,379.8 L238.6,379.9 L239.6,379.9 L240.6,380.0 L241.6,380.0 L242.5,380.1 L243.5,380.1 L244.5,380.2 L245.4,380.2 L246.4,380.3 L247.4,380.3 L248.4,380.3 L249.3,380.4 L250.3,380.4 L251.3,380.4 L252.3,380.4 L253.2,380.4 L254.2,380.4 L255.2,380.4 L256.2,380.4 L257.1,380.4 L258.1,380.3 L259.1,380.3 L260.1,380.3 L261.1,380.2 L262.0,380.2 L263.0,380.2 L264.0,380.1 L264.9,380.1 L265.9,380.0 L266.9,379.9 L267.9,379.9 L268.9,379.8 L269.8,379.8 L270.8,379.7 L271.8,379.6 L272.8,379.6 L273.7,379.5 L274.7,379.5 L275.7,379.4 L276.6,379.3 L277.6,379.3 L278.6,379.2 L279.6,379.2 L280.6,379.2 L281.5,379.1 L282.5,379.1 M283.8,377.6 L284.6,377.5 L285.4,377.5 L286.2,377.4 L287.0,377.3 L287.8,377.3 L288.6,377.2 L289.3,377.1 L290.1,377.0 L290.9,376.9 L291.7,376.8 L292.5,376.7 L293.3,376.5 L294.1,376.4 L294.9,376.3 L295.7,376.2 L296.5,376.2 L297.3,376.1 L298.1,376.0 L298.9,375.9 L299.6,375.9 L300.4,375.8 L301.2,375.8 L302.0,375.8 L302.8,375.8 L303.6,375.8 L304.4,375.8 L305.2,375.9 L306.0,375.9 L306.8,376.0 L307.6,376.0 L308.4,376.1 L309.2,376.2 L310.0,376.3 L310.7,376.4 L311.5,376.5 L312.3,376.6 L313.1,376.7 L313.9,376.8 L314.7,376.9 L315.5,377.0 M204.5,381.4 L205.5,381.4 L206.4,381.4 L207.4,381.4 L208.4,381.5 L209.4,381.5 L210.3,381.5 L211.3,381.5 L212.3,381.6 L213.3,381.6 L214.2,381.7 L215.2,381.7 L216.2,381.8 L217.2,381.8 L218.2,381.9 L219.1,382.0 L220.1,382.0 L221.1,382.1 L222.1,382.1 L223.0,382.2 L224.0,382.3 L225.0,382.3 L225.9,382.4 L226.9,382.4 L227.9,382.5 L228.9,382.5 L229.8,382.6 L230.8,382.6 L231.8,382.7 L232.8,382.7 L233.8,382.7 L234.7,382.8 L235.7,382.8 L236.7,382.8 L237.7,382.8 L238.6,382.8 L239.6,382.8 L240.6,382.8 L241.6,382.8 L242.5,382.8 L243.5,382.7 L244.5,382.7 L245.4,382.7 L246.4,382.6 L247.4,382.6 L248.4,382.6 L249.3,382.5 L250.3,382.5 L251.3,382.4 L252.3,382.4 L253.2,382.3 L254.2,382.2 L255.2,382.2 L256.2,382.1 L257.1,382.1 L258.1,382.0 L259.1,381.9 L260.1,381.9 L261.1,381.8 L262.0,381.8 L263.0,381.7 L264.0,381.7 L264.9,381.6 L265.9,381.6 L266.9,381.5 L267.9,381.5 L268.9,381.5 L269.8,381.4 L270.8,381.4 L271.8,381.4 L272.8,381.4 L273.7,381.4 L274.7,381.4 L275.7,381.4 L276.6,381.4 L277.6,381.4 L278.6,381.5 L279.6,381.5 L280.6,381.5 L281.5,381.6 L282.5,381.6 M283.8,379.2 L284.6,379.1 L285.4,379.0 L286.2,378.9 L287.0,378.8 L287.8,378.7 L288.6,378.6 L289.3,378.5 L290.1,378.5 L290.9,378.4 L291.7,378.3 L292.5,378.3 L293.3,378.2 L294.1,378.2 L294.9,378.2 L295.7,378.2 L296.5,378.2 L297.3,378.2 L298.1,378.3 L298.9,378.3 L299.6,378.4 L300.4,378.5 L301.2,378.5 L302.0,378.6 L302.8,378.7 L303.6,378.8 L304.4,378.9 L305.2,379.0 L306.0,379.1 L306.8,379.2 L307.6,379.3 L308.4,379.4 L309.2,379.5 L310.0,379.6 L310.7,379.7 L311.5,379.8 L312.3,379.8 L313.1,379.9 L313.9,379.9 L314.7,380.0 L315.5,380.0 M204.5,384.3 L205.5,384.4 L206.4,384.5 L207.4,384.5 L208.4,384.6 L209.4,384.6 L210.3,384.7 L211.3,384.8 L212.3,384.8 L213.3,384.9 L214.2,384.9 L215.2,385.0 L216.2,385.0 L217.2,385.1 L218.2,385.1 L219.1,385.1 L220.1,385.1 L221.1,385.2 L222.1,385.2 L223.0,385.2 L224.0,385.2 L225.0,385.2 L225.9,385.2 L226.9,385.2 L227.9,385.2 L228.9,385.1 L229.8,385.1 L230.8,385.1 L231.8,385.1 L232.8,385.0 L233.8,385.0 L234.7,384.9 L235.7,384.9 L236.7,384.8 L237.7,384.8 L238.6,384.7 L239.6,384.6 L240.6,384.6 L241.6,384.5 L242.5,384.5 L243.5,384.4 L244.5,384.3 L245.4,384.3 L246.4,384.2 L247.4,384.2 L248.4,384.1 L249.3,384.1 L250.3,384.0 L251.3,384.0 L252.3,383.9 L253.2,383.9 L254.2,383.9 L255.2,383.8 L256.2,383.8 L257.1,383.8 L258.1,383.8 L259.1,383.8 L260.1,383.8 L261.1,383.8 L262.0,383.8 L263.0,383.8 L264.0,383.9 L264.9,383.9 L265.9,383.9 L266.9,384.0 L267.9,384.0 L268.9,384.0 L269.8,384.1 L270.8,384.1 L271.8,384.2 L272.8,384.2 L273.7,384.3 L274.7,384.4 L275.7,384.4 L276.6,384.5 L277.6,384.5 L278.6,384.6 L279.6,384.7 L280.6,384.7 L281.5,384.8 L282.5,384.8 M283.8,380.8 L284.6,380.7 L285.4,380.7 L286.2,380.6 L287.0,380.6 L287.8,380.6 L288.6,380.6 L289.3,380.6 L290.1,380.6 L290.9,380.7 L291.7,380.7 L292.5,380.8 L293.3,380.9 L294.1,381.0 L294.9,381.0 L295.7,381.1 L296.5,381.2 L297.3,381.3 L298.1,381.4 L298.9,381.6 L299.6,381.7 L300.4,381.8 L301.2,381.9 L302.0,382.0 L302.8,382.1 L303.6,382.1 L304.4,382.2 L305.2,382.3 L306.0,382.3 L306.8,382.4 L307.6,382.4 L308.4,382.4 L309.2,382.4 L310.0,382.4 L310.7,382.4 L311.5,382.3 L312.3,382.3 L313.1,382.2 L313.9,382.2 L314.7,382.1 L315.5,382.0 M204.5,387.5 L205.5,387.5 L206.4,387.6 L207.4,387.6 L208.4,387.6 L209.4,387.6 L210.3,387.6 L211.3,387.6 L212.3,387.6 L213.3,387.6 L214.2,387.6 L215.2,387.5 L216.2,387.5 L217.2,387.5 L218.2,387.4 L219.1,387.4 L220.1,387.3 L221.1,387.3 L222.1,387.2 L223.0,387.2 L224.0,387.1 L225.0,387.1 L225.9,387.0 L226.9,386.9 L227.9,386.9 L228.9,386.8 L229.8,386.8 L230.8,386.7 L231.8,386.6 L232.8,386.6 L233.8,386.5 L234.7,386.5 L235.7,386.4 L236.7,386.4 L237.7,386.3 L238.6,386.3 L239.6,386.3 L240.6,386.3 L241.6,386.2 L242.5,386.2 L243.5,386.2 L244.5,386.2 L245.4,386.2 L246.4,386.2 L247.4,386.2 L248.4,386.2 L249.3,386.3 L250.3,386.3 L251.3,386.3 L252.3,386.3 L253.2,386.4 L254.2,386.4 L255.2,386.5 L256.2,386.5 L257.1,386.6 L258.1,386.6 L259.1,386.7 L260.1,386.8 L261.1,386.8 L262.0,386.9 L263.0,386.9 L264.0,387.0 L264.9,387.1 L265.9,387.1 L266.9,387.2 L267.9,387.2 L268.9,387.3 L269.8,387.3 L270.8,387.4 L271.8,387.4 L272.8,387.5 L273.7,387.5 L274.7,387.5 L275.7,387.6 L276.6,387.6 L277.6,387.6 L278.6,387.6 L279.6,387.6 L280.6,387.6 L281.5,387.6 L282.5,387.6 M283.8,383.1 L284.6,383.2 L285.4,383.2 L286.2,383.3 L287.0,383.4 L287.8,383.5 L288.6,383.6 L289.3,383.7 L290.1,383.8 L290.9,383.9 L291.7,384.0 L292.5,384.1 L293.3,384.2 L294.1,384.3 L294.9,384.4 L295.7,384.5 L296.5,384.5 L297.3,384.6 L298.1,384.7 L298.9,384.7 L299.6,384.8 L300.4,384.8 L301.2,384.8 L302.0,384.8 L302.8,384.8 L303.6,384.8 L304.4,384.7 L305.2,384.7 L306.0,384.6 L306.8,384.5 L307.6,384.5 L308.4,384.4 L309.2,384.3 L310.0,384.2 L310.7,384.1 L311.5,384.0 L312.3,383.9 L313.1,383.8 L313.9,383.7 L314.7,383.6 L315.5,383.5 M204.5,389.8 L205.5,389.7 L206.4,389.7 L207.4,389.6 L208.4,389.6 L209.4,389.5 L210.3,389.5 L211.3,389.4 L212.3,389.3 L213.3,389.3 L214.2,389.2 L215.2,389.2 L216.2,389.1 L217.2,389.0 L218.2,389.0 L219.1,388.9 L220.1,388.9 L221.1,388.8 L222.1,388.8 L223.0,388.8 L224.0,388.7 L225.0,388.7 L225.9,388.7 L226.9,388.6 L227.9,388.6 L228.9,388.6 L229.8,388.6 L230.8,388.6 L231.8,388.6 L232.8,388.6 L233.8,388.6 L234.7,388.6 L235.7,388.7 L236.7,388.7 L237.7,388.7 L238.6,388.8 L239.6,388.8 L240.6,388.9 L241.6,388.9 L242.5,389.0 L243.5,389.0 L244.5,389.1 L245.4,389.1 L246.4,389.2 L247.4,389.3 L248.4,389.3 L249.3,389.4 L250.3,389.4 L251.3,389.5 L252.3,389.6 L253.2,389.6 L254.2,389.7 L255.2,389.7 L256.2,389.8 L257.1,389.8 L258.1,389.9 L259.1,389.9 L260.1,389.9 L261.1,389.9 L262.0,390.0 L263.0,390.0 L264.0,390.0 L264.9,390.0 L265.9,390.0 L266.9,390.0 L267.9,390.0 L268.9,390.0 L269.8,389.9 L270.8,389.9 L271.8,389.9 L272.8,389.9 L273.7,389.8 L274.7,389.8 L275.7,389.7 L276.6,389.7 L277.6,389.6 L278.6,389.6 L279.6,389.5 L280.6,389.4 L281.5,389.4 L282.5,389.3 M283.8,386.3 L284.6,386.4 L285.4,386.5 L286.2,386.6 L287.0,386.7 L287.8,386.8 L288.6,386.9 L289.3,387.0 L290.1,387.0 L290.9,387.1 L291.7,387.1 L292.5,387.2 L293.3,387.2 L294.1,387.2 L294.9,387.2 L295.7,387.2 L296.5,387.1 L297.3,387.1 L298.1,387.1 L298.9,387.0 L299.6,386.9 L300.4,386.8 L301.2,386.7 L302.0,386.7 L302.8,386.6 L303.6,386.4 L304.4,386.3 L305.2,386.2 L306.0,386.1 L306.8,386.0 L307.6,385.9 L308.4,385.8 L309.2,385.7 L310.0,385.7 L310.7,385.6 L311.5,385.5 L312.3,385.5 L313.1,385.4 L313.9,385.4 L314.7,385.4 L315.5,385.4 M204.5,391.3 L205.5,391.3 L206.4,391.2 L207.4,391.2 L208.4,391.2 L209.4,391.1 L210.3,391.1 L211.3,391.1 L212.3,391.0 L213.3,391.0 L214.2,391.0 L215.2,391.0 L216.2,391.0 L217.2,391.0 L218.2,391.0 L219.1,391.0 L220.1,391.0 L221.1,391.1 L222.1,391.1 L223.0,391.1 L224.0,391.2 L225.0,391.2 L225.9,391.3 L226.9,391.3 L227.9,391.4 L228.9,391.4 L229.8,391.5 L230.8,391.5 L231.8,391.6 L232.8,391.7 L233.8,391.7 L234.7,391.8 L235.7,391.8 L236.7,391.9 L237.7,392.0 L238.6,392.0 L239.6,392.1 L240.6,392.1 L241.6,392.2 L242.5,392.2 L243.5,392.2 L244.5,392.3 L245.4,392.3 L246.4,392.3 L247.4,392.4 L248.4,392.4 L249.3,392.4 L250.3,392.4 L251.3,392.4 L252.3,392.4 L253.2,392.4 L254.2,392.4 L255.2,392.3 L256.2,392.3 L257.1,392.3 L258.1,392.3 L259.1,392.2 L260.1,392.2 L261.1,392.1 L262.0,392.1 L263.0,392.0 L264.0,392.0 L264.9,391.9 L265.9,391.9 L266.9,391.8 L267.9,391.7 L268.9,391.7 L269.8,391.6 L270.8,391.6 L271.8,391.5 L272.8,391.4 L273.7,391.4 L274.7,391.3 L275.7,391.3 L276.6,391.2 L277.6,391.2 L278.6,391.1 L279.6,391.1 L280.6,391.1 L281.5,391.1 L282.5,391.0 M283.8,389.5 L284.6,389.5 L285.4,389.6 L286.2,389.6 L287.0,389.6 L287.8,389.6 L288.6,389.6 L289.3,389.5 L290.1,389.5 L290.9,389.4 L291.7,389.4 L292.5,389.3 L293.3,389.2 L294.1,389.1 L294.9,389.0 L295.7,388.9 L296.5,388.8 L297.3,388.7 L298.1,388.6 L298.9,388.5 L299.6,388.4 L300.4,388.3 L301.2,388.2 L302.0,388.1 L302.8,388.0 L303.6,388.0 L304.4,387.9 L305.2,387.9 L306.0,387.8 L306.8,387.8 L307.6,387.8 L308.4,387.8 L309.2,387.8 L310.0,387.8 L310.7,387.9 L311.5,387.9 L312.3,388.0 L313.1,388.1 L313.9,388.1 L314.7,388.2 L315.5,388.3" fill="none" stroke="#a8a8a8" stroke-width="0.6"/>
<path d="M204.5,373.5 L282.5,373.2" fill="none" stroke="#777" stroke-width="0.7"/>
<path d="M203.5,392.3 L283,392.3 L283,385" fill="none" stroke="#2a2a2a" stroke-width="1.3"/>
<path d="M203.5,389.8 L283,389.8" fill="none" stroke="#666" stroke-width="0.8"/>
<path d="M202.8,394 L202.8,286.6 L242,286.6 M288,286.6 L316.6,286.6 L316.6,362" fill="none" stroke="#2a2a2a" stroke-width="1.3"/>
<path d="M242,286.8 L288,286.8" fill="none" stroke="#999" stroke-width="0.8"/>
<path d="M204.6,362 L204.6,288.2 M206.4,360 L206.4,289 M314,358 L314,288.5 M311.8,357 L311.8,289" fill="none" stroke="#666" stroke-width="0.8"/><path d="M284.5,363 C300,363.5 312,363 315.5,358" fill="none" stroke="#333" stroke-width="1.2"/>
<g fill="#111"><ellipse cx="283.4" cy="308" rx="0.7" ry="1.5"/><ellipse cx="283.4" cy="318" rx="1.2" ry="3"/><ellipse cx="283.4" cy="329" rx="1.5" ry="3.8"/><ellipse cx="283.4" cy="339.5" rx="1.7" ry="4.2"/><ellipse cx="283.4" cy="349.3" rx="1.7" ry="4.2"/><ellipse cx="283.4" cy="359.2" rx="1.8" ry="4.0"/><ellipse cx="283.4" cy="367" rx="1.2" ry="2.5"/><ellipse cx="283.4" cy="375.4" rx="1.5" ry="3.5"/><ellipse cx="283.4" cy="383" rx="1.2" ry="2.8"/><ellipse cx="283.4" cy="389" rx="1.0" ry="2"/></g>
<path d="M283.2,300 L283.2,394" stroke="#888" stroke-width="0.6"/>
<rect x="625" y="33" width="16" height="142.5" fill="url(#gcb)"/>
<rect x="624.8" y="33" width="16.4" height="142.5" fill="none" stroke="#c8c8c8" stroke-width="0.6" opacity="0.8"/>
<text x="37" y="11.8" font-size="14" text-anchor="start">(a)</text><text x="178" y="12.6" font-size="14" text-anchor="start">(b)</text><text x="323.1" y="12.6" font-size="14" text-anchor="start">(c)</text><text x="469" y="12.6" font-size="14" text-anchor="start">(d)</text><text x="116" y="19.85" font-size="15.7" text-anchor="middle">x-y C fields</text><text x="258.7" y="19.3" font-size="15.7" text-anchor="middle">streamlines</text><text x="406.4" y="19.85" font-size="15.7" text-anchor="middle">x-y C fields</text><text x="549" y="19.3" font-size="15.7" text-anchor="middle">streamlines</text><text transform="translate(13.3,89.45) rotate(-90)" font-size="15.7" text-anchor="middle">t = 30 min</text><text x="51" y="33" font-size="13" text-anchor="end">0.1</text><text x="51" y="89.75" font-size="13" text-anchor="end">0.05</text><text x="51" y="146.0" font-size="13" text-anchor="end">0</text><text transform="translate(13.3,216.7) rotate(-90)" font-size="15.7" text-anchor="middle">t = 60 min</text><text x="51" y="160" font-size="13" text-anchor="end">0.1</text><text x="51" y="217.0" font-size="13" text-anchor="end">0.05</text><text x="51" y="273.5" font-size="13" text-anchor="end">0</text><text transform="translate(13.3,342.2) rotate(-90)" font-size="15.7" text-anchor="middle">t = 90 min</text><text x="51" y="285.5" font-size="13" text-anchor="end">0.1</text><text x="51" y="342.5" font-size="13" text-anchor="end">0.05</text><text x="51" y="399.0" font-size="13" text-anchor="end">0</text><text x="54.4" y="410" font-size="13" text-anchor="middle">0</text><text x="116" y="410" font-size="13" text-anchor="middle">0.05</text><text x="177.5" y="410" font-size="13" text-anchor="middle">0.1</text><text x="196.8" y="410" font-size="13" text-anchor="middle">0</text><text x="258.8" y="410" font-size="13" text-anchor="middle">0.05</text><text x="320.7" y="410" font-size="13" text-anchor="middle">0.1</text><text x="341.7" y="410" font-size="13" text-anchor="middle">0</text><text x="403.2" y="410" font-size="13" text-anchor="middle">0.05</text><text x="464.4" y="410" font-size="13" text-anchor="middle">0.1</text><text x="487.6" y="410" font-size="13" text-anchor="middle">0</text><text x="549.8" y="410" font-size="13" text-anchor="middle">0.05</text><text x="611.7" y="410" font-size="13" text-anchor="middle">0.1</text><text x="645" y="61.5" font-size="13" text-anchor="start">0.6</text><text x="645" y="109.5" font-size="13" text-anchor="start">0.55</text><text x="645" y="157.5" font-size="13" text-anchor="start">0.5</text>
</svg></body></html>
